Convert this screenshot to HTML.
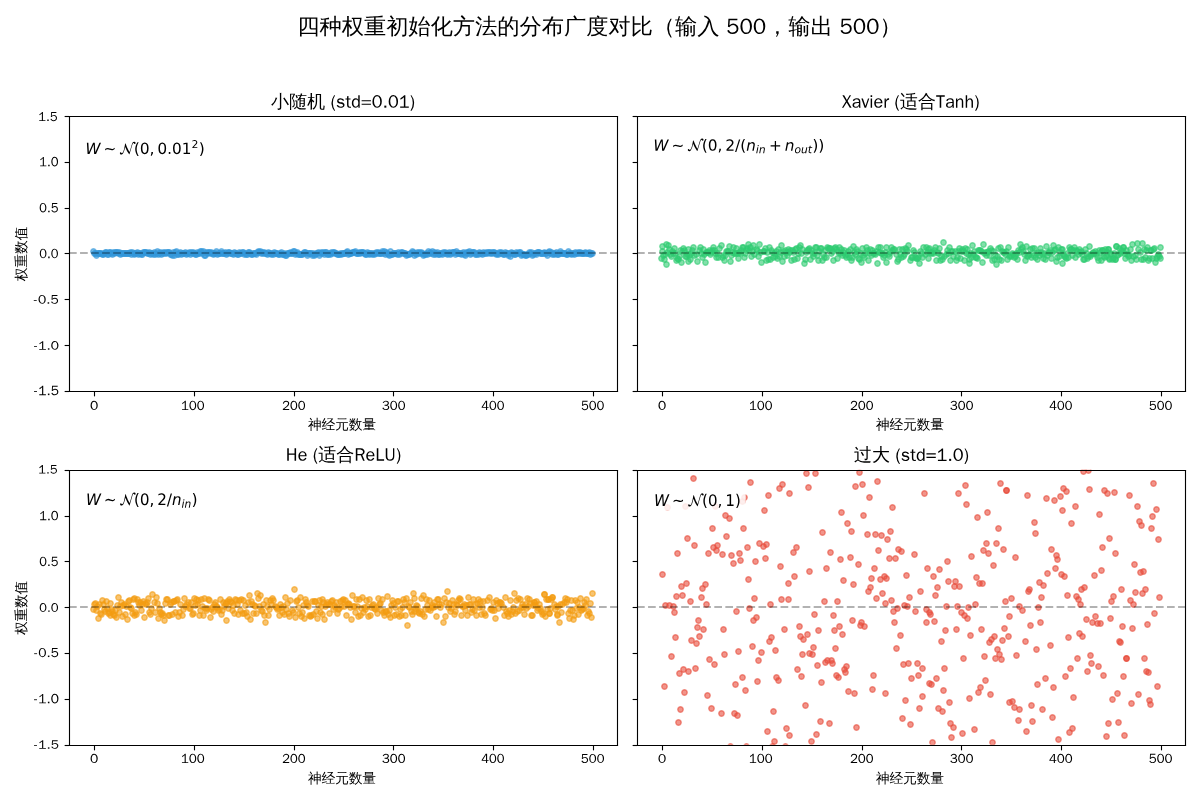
<!DOCTYPE html><html><head><meta charset="utf-8"><style>html,body{margin:0;padding:0;background:#fff;overflow:hidden;font-family:"Liberation Sans",sans-serif}svg{display:block}</style></head><body><svg width="1200" height="800" viewBox="0 0 864 576" version="1.1"><defs><style type="text/css">*{stroke-linejoin: round; stroke-linecap: butt}</style></defs><g id="figure_1"><g id="patch_1"><path d="M 0 576 L 864 576 L 864 0 L 0 0 z" style="fill: #ffffff"/></g><g id="axes_1"><g id="patch_2"><path d="M 49.67 281.45 L 444.28 281.45 L 444.28 83.52 L 49.67 83.52 z" style="fill: #ffffff"/></g><g id="PathCollection_1" style="fill: #3498db; fill-opacity: 0.6; stroke: #3498db; stroke-opacity: 0.6"><defs><path id="m2e148ee00f" d="M 0 1.94 C 0.51 1.94 1.01 1.73 1.37 1.37 C 1.73 1.01 1.94 0.51 1.94 0 C 1.94 -0.51 1.73 -1.01 1.37 -1.37 C 1.01 -1.73 0.51 -1.94 0 -1.94 C -0.51 -1.94 -1.01 -1.73 -1.37 -1.37 C -1.73 -1.01 -1.94 -0.51 -1.94 0 C -1.94 0.51 -1.73 1.01 -1.37 1.37 C -1.01 1.73 -0.51 1.94 0 1.94 z" style="stroke: #3498db; stroke-opacity: 0.6"/></defs><g clip-path="url(#pf800863472)"><use href="#m2e148ee00f" x="67.32" y="181.08"/><use href="#m2e148ee00f" x="68.04" y="182.52"/><use href="#m2e148ee00f" x="68.76" y="182.52"/><use href="#m2e148ee00f" x="69.48" y="183.96"/><use href="#m2e148ee00f" x="70.2" y="182.52"/><use href="#m2e148ee00f" x="70.92" y="182.52"/><use href="#m2e148ee00f" x="71.64" y="182.52"/><use href="#m2e148ee00f" x="72.36" y="182.52"/><use href="#m2e148ee00f" x="73.08" y="182.52"/><use href="#m2e148ee00f" x="73.8" y="183.24"/><use href="#m2e148ee00f" x="74.52" y="183.24"/><use href="#m2e148ee00f" x="75.24" y="182.52"/><use href="#m2e148ee00f" x="75.96" y="181.8"/><use href="#m2e148ee00f" x="76.68" y="181.8"/><use href="#m2e148ee00f" x="77.4" y="183.24"/><use href="#m2e148ee00f" x="78.12" y="183.24"/><use href="#m2e148ee00f" x="78.84" y="181.8"/><use href="#m2e148ee00f" x="79.56" y="181.8"/><use href="#m2e148ee00f" x="80.28" y="182.52"/><use href="#m2e148ee00f" x="81" y="183.24"/><use href="#m2e148ee00f" x="81.72" y="181.8"/><use href="#m2e148ee00f" x="82.44" y="182.52"/><use href="#m2e148ee00f" x="83.16" y="181.8"/><use href="#m2e148ee00f" x="83.88" y="181.8"/><use href="#m2e148ee00f" x="84.6" y="181.8"/><use href="#m2e148ee00f" x="85.32" y="182.52"/><use href="#m2e148ee00f" x="86.04" y="181.8"/><use href="#m2e148ee00f" x="86.76" y="183.24"/><use href="#m2e148ee00f" x="87.48" y="182.52"/><use href="#m2e148ee00f" x="88.2" y="182.52"/><use href="#m2e148ee00f" x="88.92" y="182.52"/><use href="#m2e148ee00f" x="89.64" y="182.52"/><use href="#m2e148ee00f" x="90.36" y="182.52"/><use href="#m2e148ee00f" x="91.08" y="182.52"/><use href="#m2e148ee00f" x="91.8" y="182.52"/><use href="#m2e148ee00f" x="92.52" y="182.52"/><use href="#m2e148ee00f" x="93.24" y="182.52"/><use href="#m2e148ee00f" x="93.96" y="181.8"/><use href="#m2e148ee00f" x="94.68" y="183.24"/><use href="#m2e148ee00f" x="95.4" y="181.8"/><use href="#m2e148ee00f" x="96.12" y="182.52"/><use href="#m2e148ee00f" x="96.84" y="183.24"/><use href="#m2e148ee00f" x="97.56" y="182.52"/><use href="#m2e148ee00f" x="98.28" y="182.52"/><use href="#m2e148ee00f" x="99" y="181.8"/><use href="#m2e148ee00f" x="99.72" y="183.24"/><use href="#m2e148ee00f" x="100.44" y="182.52"/><use href="#m2e148ee00f" x="101.16" y="182.52"/><use href="#m2e148ee00f" x="101.88" y="183.24"/><use href="#m2e148ee00f" x="102.6" y="183.24"/><use href="#m2e148ee00f" x="103.32" y="181.8"/><use href="#m2e148ee00f" x="104.04" y="181.8"/><use href="#m2e148ee00f" x="104.76" y="181.8"/><use href="#m2e148ee00f" x="105.48" y="181.8"/><use href="#m2e148ee00f" x="106.2" y="182.52"/><use href="#m2e148ee00f" x="106.92" y="182.52"/><use href="#m2e148ee00f" x="107.64" y="181.8"/><use href="#m2e148ee00f" x="108.36" y="183.24"/><use href="#m2e148ee00f" x="109.08" y="182.52"/><use href="#m2e148ee00f" x="109.8" y="182.52"/><use href="#m2e148ee00f" x="110.52" y="183.24"/><use href="#m2e148ee00f" x="111.24" y="181.8"/><use href="#m2e148ee00f" x="111.96" y="183.24"/><use href="#m2e148ee00f" x="112.68" y="182.52"/><use href="#m2e148ee00f" x="113.4" y="181.08"/><use href="#m2e148ee00f" x="114.12" y="183.24"/><use href="#m2e148ee00f" x="114.84" y="182.52"/><use href="#m2e148ee00f" x="115.56" y="181.8"/><use href="#m2e148ee00f" x="116.28" y="183.24"/><use href="#m2e148ee00f" x="117" y="182.52"/><use href="#m2e148ee00f" x="117.72" y="181.8"/><use href="#m2e148ee00f" x="118.44" y="182.52"/><use href="#m2e148ee00f" x="119.16" y="181.8"/><use href="#m2e148ee00f" x="119.88" y="182.52"/><use href="#m2e148ee00f" x="120.6" y="181.8"/><use href="#m2e148ee00f" x="121.32" y="181.8"/><use href="#m2e148ee00f" x="122.04" y="181.8"/><use href="#m2e148ee00f" x="122.76" y="183.24"/><use href="#m2e148ee00f" x="123.48" y="183.24"/><use href="#m2e148ee00f" x="124.2" y="183.96"/><use href="#m2e148ee00f" x="124.92" y="181.8"/><use href="#m2e148ee00f" x="125.64" y="183.96"/><use href="#m2e148ee00f" x="126.36" y="181.8"/><use href="#m2e148ee00f" x="127.08" y="181.08"/><use href="#m2e148ee00f" x="127.8" y="183.24"/><use href="#m2e148ee00f" x="128.52" y="183.24"/><use href="#m2e148ee00f" x="129.24" y="182.52"/><use href="#m2e148ee00f" x="129.96" y="181.8"/><use href="#m2e148ee00f" x="130.68" y="183.24"/><use href="#m2e148ee00f" x="131.4" y="182.52"/><use href="#m2e148ee00f" x="132.12" y="182.52"/><use href="#m2e148ee00f" x="132.84" y="182.52"/><use href="#m2e148ee00f" x="133.56" y="181.8"/><use href="#m2e148ee00f" x="134.28" y="183.24"/><use href="#m2e148ee00f" x="135" y="182.52"/><use href="#m2e148ee00f" x="135.72" y="182.52"/><use href="#m2e148ee00f" x="136.44" y="181.8"/><use href="#m2e148ee00f" x="137.16" y="183.24"/><use href="#m2e148ee00f" x="137.88" y="181.8"/><use href="#m2e148ee00f" x="138.6" y="182.52"/><use href="#m2e148ee00f" x="139.32" y="181.8"/><use href="#m2e148ee00f" x="140.04" y="182.52"/><use href="#m2e148ee00f" x="140.76" y="183.24"/><use href="#m2e148ee00f" x="141.48" y="183.24"/><use href="#m2e148ee00f" x="142.2" y="181.8"/><use href="#m2e148ee00f" x="142.92" y="182.52"/><use href="#m2e148ee00f" x="143.64" y="182.52"/><use href="#m2e148ee00f" x="144.36" y="181.08"/><use href="#m2e148ee00f" x="145.08" y="181.08"/><use href="#m2e148ee00f" x="145.8" y="182.52"/><use href="#m2e148ee00f" x="146.52" y="181.08"/><use href="#m2e148ee00f" x="147.24" y="183.96"/><use href="#m2e148ee00f" x="147.96" y="183.96"/><use href="#m2e148ee00f" x="148.68" y="181.8"/><use href="#m2e148ee00f" x="149.4" y="182.52"/><use href="#m2e148ee00f" x="150.12" y="181.8"/><use href="#m2e148ee00f" x="150.84" y="181.8"/><use href="#m2e148ee00f" x="151.56" y="182.52"/><use href="#m2e148ee00f" x="152.28" y="181.8"/><use href="#m2e148ee00f" x="153" y="182.52"/><use href="#m2e148ee00f" x="153.72" y="183.24"/><use href="#m2e148ee00f" x="154.44" y="182.52"/><use href="#m2e148ee00f" x="155.16" y="182.52"/><use href="#m2e148ee00f" x="155.88" y="181.08"/><use href="#m2e148ee00f" x="156.6" y="183.24"/><use href="#m2e148ee00f" x="157.32" y="182.52"/><use href="#m2e148ee00f" x="158.04" y="182.52"/><use href="#m2e148ee00f" x="158.76" y="182.52"/><use href="#m2e148ee00f" x="159.48" y="181.08"/><use href="#m2e148ee00f" x="160.2" y="182.52"/><use href="#m2e148ee00f" x="160.92" y="182.52"/><use href="#m2e148ee00f" x="161.64" y="182.52"/><use href="#m2e148ee00f" x="162.36" y="181.8"/><use href="#m2e148ee00f" x="163.08" y="183.24"/><use href="#m2e148ee00f" x="163.8" y="182.52"/><use href="#m2e148ee00f" x="164.52" y="181.8"/><use href="#m2e148ee00f" x="165.24" y="181.8"/><use href="#m2e148ee00f" x="165.96" y="182.52"/><use href="#m2e148ee00f" x="166.68" y="182.52"/><use href="#m2e148ee00f" x="167.4" y="182.52"/><use href="#m2e148ee00f" x="168.12" y="183.24"/><use href="#m2e148ee00f" x="168.84" y="181.8"/><use href="#m2e148ee00f" x="169.56" y="182.52"/><use href="#m2e148ee00f" x="170.28" y="182.52"/><use href="#m2e148ee00f" x="171" y="183.24"/><use href="#m2e148ee00f" x="171.72" y="183.24"/><use href="#m2e148ee00f" x="172.44" y="181.8"/><use href="#m2e148ee00f" x="173.16" y="182.52"/><use href="#m2e148ee00f" x="173.88" y="182.52"/><use href="#m2e148ee00f" x="174.6" y="181.8"/><use href="#m2e148ee00f" x="175.32" y="181.8"/><use href="#m2e148ee00f" x="176.04" y="183.24"/><use href="#m2e148ee00f" x="176.76" y="182.52"/><use href="#m2e148ee00f" x="177.48" y="183.24"/><use href="#m2e148ee00f" x="178.2" y="183.24"/><use href="#m2e148ee00f" x="178.92" y="181.8"/><use href="#m2e148ee00f" x="179.64" y="181.8"/><use href="#m2e148ee00f" x="180.36" y="182.52"/><use href="#m2e148ee00f" x="181.08" y="183.24"/><use href="#m2e148ee00f" x="181.8" y="183.24"/><use href="#m2e148ee00f" x="182.52" y="182.52"/><use href="#m2e148ee00f" x="183.24" y="182.52"/><use href="#m2e148ee00f" x="183.96" y="182.52"/><use href="#m2e148ee00f" x="184.68" y="183.24"/><use href="#m2e148ee00f" x="185.4" y="181.8"/><use href="#m2e148ee00f" x="186.12" y="181.08"/><use href="#m2e148ee00f" x="186.84" y="181.8"/><use href="#m2e148ee00f" x="187.56" y="181.08"/><use href="#m2e148ee00f" x="188.28" y="182.52"/><use href="#m2e148ee00f" x="189" y="181.8"/><use href="#m2e148ee00f" x="189.72" y="182.52"/><use href="#m2e148ee00f" x="190.44" y="181.8"/><use href="#m2e148ee00f" x="191.16" y="182.52"/><use href="#m2e148ee00f" x="191.88" y="182.52"/><use href="#m2e148ee00f" x="192.6" y="183.24"/><use href="#m2e148ee00f" x="193.32" y="181.8"/><use href="#m2e148ee00f" x="194.04" y="182.52"/><use href="#m2e148ee00f" x="194.76" y="182.52"/><use href="#m2e148ee00f" x="195.48" y="183.24"/><use href="#m2e148ee00f" x="196.2" y="182.52"/><use href="#m2e148ee00f" x="196.92" y="183.24"/><use href="#m2e148ee00f" x="197.64" y="181.8"/><use href="#m2e148ee00f" x="198.36" y="182.52"/><use href="#m2e148ee00f" x="199.08" y="182.52"/><use href="#m2e148ee00f" x="199.8" y="182.52"/><use href="#m2e148ee00f" x="200.52" y="183.24"/><use href="#m2e148ee00f" x="201.24" y="183.24"/><use href="#m2e148ee00f" x="201.96" y="182.52"/><use href="#m2e148ee00f" x="202.68" y="181.8"/><use href="#m2e148ee00f" x="203.4" y="183.24"/><use href="#m2e148ee00f" x="204.12" y="183.24"/><use href="#m2e148ee00f" x="204.84" y="182.52"/><use href="#m2e148ee00f" x="205.56" y="183.96"/><use href="#m2e148ee00f" x="206.28" y="183.96"/><use href="#m2e148ee00f" x="207" y="182.52"/><use href="#m2e148ee00f" x="207.72" y="182.52"/><use href="#m2e148ee00f" x="208.44" y="182.52"/><use href="#m2e148ee00f" x="209.16" y="181.8"/><use href="#m2e148ee00f" x="209.88" y="182.52"/><use href="#m2e148ee00f" x="210.6" y="182.52"/><use href="#m2e148ee00f" x="211.32" y="181.08"/><use href="#m2e148ee00f" x="212.04" y="181.08"/><use href="#m2e148ee00f" x="212.76" y="183.24"/><use href="#m2e148ee00f" x="213.48" y="182.52"/><use href="#m2e148ee00f" x="214.2" y="181.8"/><use href="#m2e148ee00f" x="214.92" y="183.24"/><use href="#m2e148ee00f" x="215.64" y="183.24"/><use href="#m2e148ee00f" x="216.36" y="183.24"/><use href="#m2e148ee00f" x="217.08" y="183.24"/><use href="#m2e148ee00f" x="217.8" y="183.24"/><use href="#m2e148ee00f" x="218.52" y="182.52"/><use href="#m2e148ee00f" x="219.24" y="181.8"/><use href="#m2e148ee00f" x="219.96" y="181.8"/><use href="#m2e148ee00f" x="220.68" y="182.52"/><use href="#m2e148ee00f" x="221.4" y="183.96"/><use href="#m2e148ee00f" x="222.12" y="182.52"/><use href="#m2e148ee00f" x="222.84" y="182.52"/><use href="#m2e148ee00f" x="223.56" y="182.52"/><use href="#m2e148ee00f" x="224.28" y="182.52"/><use href="#m2e148ee00f" x="225" y="183.96"/><use href="#m2e148ee00f" x="225.72" y="182.52"/><use href="#m2e148ee00f" x="226.44" y="183.96"/><use href="#m2e148ee00f" x="227.16" y="183.24"/><use href="#m2e148ee00f" x="227.88" y="182.52"/><use href="#m2e148ee00f" x="228.6" y="182.52"/><use href="#m2e148ee00f" x="229.32" y="181.8"/><use href="#m2e148ee00f" x="230.04" y="183.96"/><use href="#m2e148ee00f" x="230.76" y="182.52"/><use href="#m2e148ee00f" x="231.48" y="181.8"/><use href="#m2e148ee00f" x="232.2" y="182.52"/><use href="#m2e148ee00f" x="232.92" y="181.8"/><use href="#m2e148ee00f" x="233.64" y="183.24"/><use href="#m2e148ee00f" x="234.36" y="181.8"/><use href="#m2e148ee00f" x="235.08" y="181.8"/><use href="#m2e148ee00f" x="235.8" y="183.24"/><use href="#m2e148ee00f" x="236.52" y="183.24"/><use href="#m2e148ee00f" x="237.24" y="182.52"/><use href="#m2e148ee00f" x="237.96" y="183.24"/><use href="#m2e148ee00f" x="238.68" y="181.8"/><use href="#m2e148ee00f" x="239.4" y="182.52"/><use href="#m2e148ee00f" x="240.12" y="181.8"/><use href="#m2e148ee00f" x="240.84" y="181.8"/><use href="#m2e148ee00f" x="241.56" y="182.52"/><use href="#m2e148ee00f" x="242.28" y="182.52"/><use href="#m2e148ee00f" x="243" y="183.24"/><use href="#m2e148ee00f" x="243.72" y="183.24"/><use href="#m2e148ee00f" x="244.44" y="183.24"/><use href="#m2e148ee00f" x="245.16" y="182.52"/><use href="#m2e148ee00f" x="245.88" y="183.24"/><use href="#m2e148ee00f" x="246.6" y="182.52"/><use href="#m2e148ee00f" x="247.32" y="182.52"/><use href="#m2e148ee00f" x="248.04" y="182.52"/><use href="#m2e148ee00f" x="248.76" y="182.52"/><use href="#m2e148ee00f" x="249.48" y="181.8"/><use href="#m2e148ee00f" x="250.2" y="181.08"/><use href="#m2e148ee00f" x="250.92" y="183.24"/><use href="#m2e148ee00f" x="251.64" y="182.52"/><use href="#m2e148ee00f" x="252.36" y="182.52"/><use href="#m2e148ee00f" x="253.08" y="182.52"/><use href="#m2e148ee00f" x="253.8" y="181.8"/><use href="#m2e148ee00f" x="254.52" y="181.8"/><use href="#m2e148ee00f" x="255.24" y="181.8"/><use href="#m2e148ee00f" x="255.96" y="181.08"/><use href="#m2e148ee00f" x="256.68" y="182.52"/><use href="#m2e148ee00f" x="257.4" y="182.52"/><use href="#m2e148ee00f" x="258.12" y="182.52"/><use href="#m2e148ee00f" x="258.84" y="181.8"/><use href="#m2e148ee00f" x="259.56" y="182.52"/><use href="#m2e148ee00f" x="260.28" y="181.8"/><use href="#m2e148ee00f" x="261" y="181.8"/><use href="#m2e148ee00f" x="261.72" y="181.8"/><use href="#m2e148ee00f" x="262.44" y="182.52"/><use href="#m2e148ee00f" x="263.16" y="183.24"/><use href="#m2e148ee00f" x="263.88" y="183.24"/><use href="#m2e148ee00f" x="264.6" y="181.8"/><use href="#m2e148ee00f" x="265.32" y="182.52"/><use href="#m2e148ee00f" x="266.04" y="183.24"/><use href="#m2e148ee00f" x="266.76" y="182.52"/><use href="#m2e148ee00f" x="267.48" y="182.52"/><use href="#m2e148ee00f" x="268.2" y="183.24"/><use href="#m2e148ee00f" x="268.92" y="182.52"/><use href="#m2e148ee00f" x="269.64" y="183.24"/><use href="#m2e148ee00f" x="270.36" y="182.52"/><use href="#m2e148ee00f" x="271.08" y="181.8"/><use href="#m2e148ee00f" x="271.8" y="182.52"/><use href="#m2e148ee00f" x="272.52" y="181.8"/><use href="#m2e148ee00f" x="273.24" y="182.52"/><use href="#m2e148ee00f" x="273.96" y="182.52"/><use href="#m2e148ee00f" x="274.68" y="182.52"/><use href="#m2e148ee00f" x="275.4" y="181.08"/><use href="#m2e148ee00f" x="276.12" y="182.52"/><use href="#m2e148ee00f" x="276.84" y="181.08"/><use href="#m2e148ee00f" x="277.56" y="183.24"/><use href="#m2e148ee00f" x="278.28" y="181.8"/><use href="#m2e148ee00f" x="279" y="182.52"/><use href="#m2e148ee00f" x="279.72" y="183.24"/><use href="#m2e148ee00f" x="280.44" y="183.96"/><use href="#m2e148ee00f" x="281.16" y="181.08"/><use href="#m2e148ee00f" x="281.88" y="183.24"/><use href="#m2e148ee00f" x="282.6" y="183.24"/><use href="#m2e148ee00f" x="283.32" y="182.52"/><use href="#m2e148ee00f" x="284.04" y="182.52"/><use href="#m2e148ee00f" x="284.76" y="182.52"/><use href="#m2e148ee00f" x="285.48" y="182.52"/><use href="#m2e148ee00f" x="286.2" y="183.24"/><use href="#m2e148ee00f" x="286.92" y="181.8"/><use href="#m2e148ee00f" x="287.64" y="183.24"/><use href="#m2e148ee00f" x="288.36" y="182.52"/><use href="#m2e148ee00f" x="289.08" y="181.8"/><use href="#m2e148ee00f" x="289.8" y="181.8"/><use href="#m2e148ee00f" x="290.52" y="182.52"/><use href="#m2e148ee00f" x="291.24" y="182.52"/><use href="#m2e148ee00f" x="291.96" y="182.52"/><use href="#m2e148ee00f" x="292.68" y="183.96"/><use href="#m2e148ee00f" x="293.4" y="183.24"/><use href="#m2e148ee00f" x="294.12" y="183.24"/><use href="#m2e148ee00f" x="294.84" y="183.24"/><use href="#m2e148ee00f" x="295.56" y="182.52"/><use href="#m2e148ee00f" x="296.28" y="182.52"/><use href="#m2e148ee00f" x="297" y="181.08"/><use href="#m2e148ee00f" x="297.72" y="181.8"/><use href="#m2e148ee00f" x="298.44" y="183.96"/><use href="#m2e148ee00f" x="299.16" y="182.52"/><use href="#m2e148ee00f" x="299.88" y="183.24"/><use href="#m2e148ee00f" x="300.6" y="181.8"/><use href="#m2e148ee00f" x="301.32" y="182.52"/><use href="#m2e148ee00f" x="302.04" y="181.8"/><use href="#m2e148ee00f" x="302.76" y="182.52"/><use href="#m2e148ee00f" x="303.48" y="181.8"/><use href="#m2e148ee00f" x="304.2" y="182.52"/><use href="#m2e148ee00f" x="304.92" y="183.96"/><use href="#m2e148ee00f" x="305.64" y="183.24"/><use href="#m2e148ee00f" x="306.36" y="183.24"/><use href="#m2e148ee00f" x="307.08" y="182.52"/><use href="#m2e148ee00f" x="307.8" y="183.24"/><use href="#m2e148ee00f" x="308.52" y="181.08"/><use href="#m2e148ee00f" x="309.24" y="182.52"/><use href="#m2e148ee00f" x="309.96" y="181.8"/><use href="#m2e148ee00f" x="310.68" y="182.52"/><use href="#m2e148ee00f" x="311.4" y="181.08"/><use href="#m2e148ee00f" x="312.12" y="183.24"/><use href="#m2e148ee00f" x="312.84" y="181.8"/><use href="#m2e148ee00f" x="313.56" y="183.24"/><use href="#m2e148ee00f" x="314.28" y="182.52"/><use href="#m2e148ee00f" x="315" y="181.8"/><use href="#m2e148ee00f" x="315.72" y="183.24"/><use href="#m2e148ee00f" x="316.44" y="183.24"/><use href="#m2e148ee00f" x="317.16" y="182.52"/><use href="#m2e148ee00f" x="317.88" y="182.52"/><use href="#m2e148ee00f" x="318.6" y="183.24"/><use href="#m2e148ee00f" x="319.32" y="181.8"/><use href="#m2e148ee00f" x="320.04" y="182.52"/><use href="#m2e148ee00f" x="320.76" y="181.8"/><use href="#m2e148ee00f" x="321.48" y="182.52"/><use href="#m2e148ee00f" x="322.2" y="183.24"/><use href="#m2e148ee00f" x="322.92" y="182.52"/><use href="#m2e148ee00f" x="323.64" y="181.8"/><use href="#m2e148ee00f" x="324.36" y="183.24"/><use href="#m2e148ee00f" x="325.08" y="182.52"/><use href="#m2e148ee00f" x="325.8" y="181.8"/><use href="#m2e148ee00f" x="326.52" y="181.8"/><use href="#m2e148ee00f" x="327.24" y="181.8"/><use href="#m2e148ee00f" x="327.96" y="183.24"/><use href="#m2e148ee00f" x="328.68" y="181.08"/><use href="#m2e148ee00f" x="329.4" y="182.52"/><use href="#m2e148ee00f" x="330.12" y="182.52"/><use href="#m2e148ee00f" x="330.84" y="182.52"/><use href="#m2e148ee00f" x="331.56" y="182.52"/><use href="#m2e148ee00f" x="332.28" y="183.24"/><use href="#m2e148ee00f" x="333" y="182.52"/><use href="#m2e148ee00f" x="333.72" y="181.8"/><use href="#m2e148ee00f" x="334.44" y="183.24"/><use href="#m2e148ee00f" x="335.16" y="183.96"/><use href="#m2e148ee00f" x="335.88" y="181.8"/><use href="#m2e148ee00f" x="336.6" y="182.52"/><use href="#m2e148ee00f" x="337.32" y="181.8"/><use href="#m2e148ee00f" x="338.04" y="181.08"/><use href="#m2e148ee00f" x="338.76" y="183.24"/><use href="#m2e148ee00f" x="339.48" y="182.52"/><use href="#m2e148ee00f" x="340.2" y="181.8"/><use href="#m2e148ee00f" x="340.92" y="181.8"/><use href="#m2e148ee00f" x="341.64" y="181.8"/><use href="#m2e148ee00f" x="342.36" y="183.24"/><use href="#m2e148ee00f" x="343.08" y="183.24"/><use href="#m2e148ee00f" x="343.8" y="182.52"/><use href="#m2e148ee00f" x="344.52" y="183.24"/><use href="#m2e148ee00f" x="345.24" y="181.8"/><use href="#m2e148ee00f" x="345.96" y="182.52"/><use href="#m2e148ee00f" x="346.68" y="182.52"/><use href="#m2e148ee00f" x="347.4" y="183.24"/><use href="#m2e148ee00f" x="348.12" y="181.8"/><use href="#m2e148ee00f" x="348.84" y="182.52"/><use href="#m2e148ee00f" x="349.56" y="182.52"/><use href="#m2e148ee00f" x="350.28" y="181.8"/><use href="#m2e148ee00f" x="351" y="182.52"/><use href="#m2e148ee00f" x="351.72" y="181.8"/><use href="#m2e148ee00f" x="352.44" y="181.8"/><use href="#m2e148ee00f" x="353.16" y="182.52"/><use href="#m2e148ee00f" x="353.88" y="181.8"/><use href="#m2e148ee00f" x="354.6" y="182.52"/><use href="#m2e148ee00f" x="355.32" y="181.8"/><use href="#m2e148ee00f" x="356.04" y="181.8"/><use href="#m2e148ee00f" x="356.76" y="182.52"/><use href="#m2e148ee00f" x="357.48" y="183.24"/><use href="#m2e148ee00f" x="358.2" y="182.52"/><use href="#m2e148ee00f" x="358.92" y="183.24"/><use href="#m2e148ee00f" x="359.64" y="181.8"/><use href="#m2e148ee00f" x="360.36" y="182.52"/><use href="#m2e148ee00f" x="361.08" y="181.8"/><use href="#m2e148ee00f" x="361.8" y="182.52"/><use href="#m2e148ee00f" x="362.52" y="183.24"/><use href="#m2e148ee00f" x="363.24" y="183.24"/><use href="#m2e148ee00f" x="363.96" y="181.8"/><use href="#m2e148ee00f" x="364.68" y="182.52"/><use href="#m2e148ee00f" x="365.4" y="182.52"/><use href="#m2e148ee00f" x="366.12" y="183.96"/><use href="#m2e148ee00f" x="366.84" y="182.52"/><use href="#m2e148ee00f" x="367.56" y="184.68"/><use href="#m2e148ee00f" x="368.28" y="181.8"/><use href="#m2e148ee00f" x="369" y="182.52"/><use href="#m2e148ee00f" x="369.72" y="182.52"/><use href="#m2e148ee00f" x="370.44" y="183.24"/><use href="#m2e148ee00f" x="371.16" y="183.24"/><use href="#m2e148ee00f" x="371.88" y="181.8"/><use href="#m2e148ee00f" x="372.6" y="182.52"/><use href="#m2e148ee00f" x="373.32" y="182.52"/><use href="#m2e148ee00f" x="374.04" y="181.8"/><use href="#m2e148ee00f" x="374.76" y="181.8"/><use href="#m2e148ee00f" x="375.48" y="183.96"/><use href="#m2e148ee00f" x="376.2" y="183.24"/><use href="#m2e148ee00f" x="376.92" y="183.24"/><use href="#m2e148ee00f" x="377.64" y="183.24"/><use href="#m2e148ee00f" x="378.36" y="183.96"/><use href="#m2e148ee00f" x="379.08" y="183.96"/><use href="#m2e148ee00f" x="379.8" y="183.24"/><use href="#m2e148ee00f" x="380.52" y="183.24"/><use href="#m2e148ee00f" x="381.24" y="181.8"/><use href="#m2e148ee00f" x="381.96" y="182.52"/><use href="#m2e148ee00f" x="382.68" y="181.8"/><use href="#m2e148ee00f" x="383.4" y="183.96"/><use href="#m2e148ee00f" x="384.12" y="183.24"/><use href="#m2e148ee00f" x="384.84" y="182.52"/><use href="#m2e148ee00f" x="385.56" y="182.52"/><use href="#m2e148ee00f" x="386.28" y="183.24"/><use href="#m2e148ee00f" x="387" y="181.8"/><use href="#m2e148ee00f" x="387.72" y="181.8"/><use href="#m2e148ee00f" x="388.44" y="181.8"/><use href="#m2e148ee00f" x="389.16" y="182.52"/><use href="#m2e148ee00f" x="389.88" y="182.52"/><use href="#m2e148ee00f" x="390.6" y="182.52"/><use href="#m2e148ee00f" x="391.32" y="182.52"/><use href="#m2e148ee00f" x="392.04" y="181.8"/><use href="#m2e148ee00f" x="392.76" y="182.52"/><use href="#m2e148ee00f" x="393.48" y="182.52"/><use href="#m2e148ee00f" x="394.2" y="183.96"/><use href="#m2e148ee00f" x="394.92" y="181.8"/><use href="#m2e148ee00f" x="395.64" y="181.08"/><use href="#m2e148ee00f" x="396.36" y="182.52"/><use href="#m2e148ee00f" x="397.08" y="181.8"/><use href="#m2e148ee00f" x="397.8" y="183.24"/><use href="#m2e148ee00f" x="398.52" y="182.52"/><use href="#m2e148ee00f" x="399.24" y="183.24"/><use href="#m2e148ee00f" x="399.96" y="182.52"/><use href="#m2e148ee00f" x="400.68" y="181.8"/><use href="#m2e148ee00f" x="401.4" y="183.24"/><use href="#m2e148ee00f" x="402.12" y="183.24"/><use href="#m2e148ee00f" x="402.84" y="182.52"/><use href="#m2e148ee00f" x="403.56" y="181.08"/><use href="#m2e148ee00f" x="404.28" y="182.52"/><use href="#m2e148ee00f" x="405" y="182.52"/><use href="#m2e148ee00f" x="405.72" y="182.52"/><use href="#m2e148ee00f" x="406.44" y="182.52"/><use href="#m2e148ee00f" x="407.16" y="182.52"/><use href="#m2e148ee00f" x="407.88" y="183.24"/><use href="#m2e148ee00f" x="408.6" y="183.24"/><use href="#m2e148ee00f" x="409.32" y="181.08"/><use href="#m2e148ee00f" x="410.04" y="182.52"/><use href="#m2e148ee00f" x="410.76" y="182.52"/><use href="#m2e148ee00f" x="411.48" y="183.24"/><use href="#m2e148ee00f" x="412.2" y="182.52"/><use href="#m2e148ee00f" x="412.92" y="182.52"/><use href="#m2e148ee00f" x="413.64" y="183.24"/><use href="#m2e148ee00f" x="414.36" y="181.8"/><use href="#m2e148ee00f" x="415.08" y="182.52"/><use href="#m2e148ee00f" x="415.8" y="182.52"/><use href="#m2e148ee00f" x="416.52" y="181.8"/><use href="#m2e148ee00f" x="417.24" y="182.52"/><use href="#m2e148ee00f" x="417.96" y="181.8"/><use href="#m2e148ee00f" x="418.68" y="182.52"/><use href="#m2e148ee00f" x="419.4" y="182.52"/><use href="#m2e148ee00f" x="420.12" y="182.52"/><use href="#m2e148ee00f" x="420.84" y="182.52"/><use href="#m2e148ee00f" x="421.56" y="181.8"/><use href="#m2e148ee00f" x="422.28" y="182.52"/><use href="#m2e148ee00f" x="423" y="182.52"/><use href="#m2e148ee00f" x="423.72" y="182.52"/><use href="#m2e148ee00f" x="424.44" y="181.8"/><use href="#m2e148ee00f" x="425.16" y="183.24"/><use href="#m2e148ee00f" x="425.88" y="182.52"/><use href="#m2e148ee00f" x="426.6" y="182.52"/></g></g><g id="matplotlib.axis_1"><g id="xtick_1"><g id="line2d_1"><defs><path id="m2cdf71e66a" d="M 0 0 L 0 3.5" style="stroke: #000000; stroke-width: 0.8"/></defs><g><use href="#m2cdf71e66a" x="68.04" y="281.88" style="stroke: #000000; stroke-width: 0.8"/></g></g><g id="T_xt0_1" transform="matrix(0.99 0 0 0.94 0.854 17.545)"><!-- 0 --><g transform="translate(64.604943 295.305625) scale(0.1 -0.1)"><defs><path id="WenQuanYiZenHei-30" d="M 3581 2175 Q 3581 1288 3169 638 Q 2713 -63 1938 -63 Q 1025 -63 563 831 Q 256 1425 256 2188 Q 256 3188 700 3819 Q 1138 4456 1888 4456 Q 2863 4456 3306 3500 Q 3581 2925 3581 2175 z M 3019 2100 Q 3019 3356 2500 3806 L 2350 3919 Q 2144 4031 1888 4031 Q 1100 4031 888 2956 Q 819 2625 819 2225 Q 819 1013 1338 569 Q 1588 356 1938 356 Q 2675 356 2925 1294 Q 3019 1663 3019 2100 z" transform="scale(0.015625)"/></defs><use href="#WenQuanYiZenHei-30"/></g></g></g><g id="xtick_2"><g id="line2d_2"><g><use href="#m2cdf71e66a" x="140.04" y="281.88" style="stroke: #000000; stroke-width: 0.8"/></g></g><g id="T_xt0_2" transform="matrix(0.9405 0 0 0.97 7.632 8.772)"><!-- 100 --><g transform="translate(130.500376 295.305625) scale(0.1 -0.1)"><defs><path id="WenQuanYiZenHei-31" d="M 3556 0 L 488 0 L 488 406 L 1800 406 L 1800 3725 Q 1231 3125 588 2788 L 588 3338 Q 1456 3781 1931 4388 L 2331 4388 L 2331 406 L 3556 406 L 3556 0 z" transform="scale(0.015625)"/></defs><use href="#WenQuanYiZenHei-31"/><use href="#WenQuanYiZenHei-30" transform="translate(59.960938 0)"/><use href="#WenQuanYiZenHei-30" transform="translate(119.921875 0)"/></g></g></g><g id="xtick_3"><g id="line2d_3"><g><use href="#m2cdf71e66a" x="212.04" y="281.88" style="stroke: #000000; stroke-width: 0.8"/></g></g><g id="T_xt0_3" transform="matrix(0.9405 0 0 0.9506 12.756 14.445)"><!-- 200 --><g transform="translate(202.392683 295.305625) scale(0.1 -0.1)"><defs><path id="WenQuanYiZenHei-32" d="M 3488 0 L 369 0 L 369 456 L 2150 1850 Q 2931 2463 2931 3144 Q 2931 3619 2488 3863 Q 2231 4013 1931 4013 Q 1425 4013 1113 3619 Q 894 3356 881 3013 L 369 3169 Q 531 3981 1213 4300 Q 1544 4456 1950 4456 Q 2631 4456 3088 4044 L 3225 3888 L 3350 3706 Q 3481 3444 3481 3144 Q 3481 2313 2519 1569 L 1069 456 L 3488 456 L 3488 0 z" transform="scale(0.015625)"/></defs><use href="#WenQuanYiZenHei-32"/><use href="#WenQuanYiZenHei-30" transform="translate(59.960938 0)"/><use href="#WenQuanYiZenHei-30" transform="translate(119.921875 0)"/></g></g></g><g id="xtick_4"><g id="line2d_4"><g><use href="#m2cdf71e66a" x="283.32" y="281.88" style="stroke: #000000; stroke-width: 0.8"/></g></g><g id="T_xt0_4" transform="matrix(0.9507 0 0 0.9603 14.143 11.609)"><!-- 300 --><g transform="translate(274.28499 295.305625) scale(0.1 -0.1)"><defs><path id="WenQuanYiZenHei-33" d="M 3588 1231 Q 3588 494 2875 144 Q 2450 -63 1925 -63 Q 1044 -63 556 488 Q 356 706 256 1000 L 769 1169 Q 994 375 1913 375 Q 2631 375 2900 788 Q 3019 975 3019 1231 Q 3019 1638 2638 1881 Q 2325 2081 1613 2069 L 1338 2069 L 1338 2494 Q 1969 2494 2094 2506 Q 2325 2544 2463 2613 Q 2763 2756 2844 3100 Q 2863 3169 2863 3244 Q 2863 3744 2381 3944 L 2163 4006 Q 2056 4025 1931 4025 Q 1388 4025 1075 3631 Q 969 3488 906 3313 L 419 3456 Q 675 4150 1400 4369 Q 1669 4456 1975 4456 Q 2694 4456 3106 4050 Q 3419 3744 3419 3275 Q 3419 2813 3025 2513 Q 2825 2356 2575 2319 L 2575 2306 Q 3181 2213 3450 1769 Q 3588 1525 3588 1231 z" transform="scale(0.015625)"/></defs><use href="#WenQuanYiZenHei-33"/><use href="#WenQuanYiZenHei-30" transform="translate(59.960938 0)"/><use href="#WenQuanYiZenHei-30" transform="translate(119.921875 0)"/></g></g></g><g id="xtick_5"><g id="line2d_5"><g><use href="#m2cdf71e66a" x="355.32" y="281.88" style="stroke: #000000; stroke-width: 0.8"/></g></g><g id="T_xt0_5" transform="matrix(0.9311 0 0 0.96 24.147 11.696)"><!-- 400 --><g transform="translate(346.177298 295.305625) scale(0.1 -0.1)"><defs><path id="WenQuanYiZenHei-34" d="M 3631 1025 L 2913 1025 L 2913 0 L 2381 0 L 2381 1025 L 219 1025 L 219 1388 L 2225 4388 L 2913 4388 L 2913 1444 L 3631 1444 L 3631 1025 z M 2381 1444 L 2381 3963 L 788 1444 L 2381 1444 z" transform="scale(0.015625)"/></defs><use href="#WenQuanYiZenHei-34"/><use href="#WenQuanYiZenHei-30" transform="translate(59.960938 0)"/><use href="#WenQuanYiZenHei-30" transform="translate(119.921875 0)"/></g></g></g><g id="xtick_6"><g id="line2d_6"><g><use href="#m2cdf71e66a" x="427.32" y="281.88" style="stroke: #000000; stroke-width: 0.8"/></g></g><g id="T_xt0_6" transform="matrix(0.9311 0 0 0.9702 29.101 8.714)"><!-- 500 --><g transform="translate(418.069605 295.305625) scale(0.1 -0.1)"><defs><path id="WenQuanYiZenHei-35" d="M 3531 1488 Q 3531 688 2913 250 Q 2456 -63 1844 -63 Q 1175 -63 706 350 Q 413 613 306 975 L 781 1131 Q 1000 538 1569 406 Q 1706 369 1856 369 Q 2550 369 2850 869 Q 3000 1131 3000 1494 Q 3000 2056 2581 2356 Q 2319 2538 1969 2538 Q 1400 2538 1031 2075 Q 981 2013 938 1938 L 500 2031 L 644 4388 L 3244 4388 L 3200 3919 L 1044 3919 L 950 2500 Q 1431 2975 2006 2975 Q 2713 2975 3163 2475 Q 3531 2063 3531 1488 z" transform="scale(0.015625)"/></defs><use href="#WenQuanYiZenHei-35"/><use href="#WenQuanYiZenHei-30" transform="translate(59.960938 0)"/><use href="#WenQuanYiZenHei-30" transform="translate(119.921875 0)"/></g></g></g><g id="T_xl0" transform="matrix(0.98 0 0 1 4.237 0)"><!-- 神经元数量 --><g transform="translate(221.974688 309.032187) scale(0.1 -0.1)"><defs><path id="WenQuanYiZenHei-795e" d="M 4531 -769 Q 4294 -744 4056 -769 Q 4075 -325 4075 113 L 4075 1238 L 3131 1238 L 3131 825 L 2700 825 L 2700 3944 L 4075 3944 L 4075 4375 Q 4075 4819 4056 5256 Q 4294 5231 4531 5256 Q 4513 4819 4513 4375 L 4513 3944 L 5956 3944 L 5956 825 L 5519 825 L 5519 1238 L 4513 1238 L 4513 113 Q 4513 -325 4531 -769 z M 4513 1556 L 5519 1556 L 5519 2431 L 4513 2431 L 4513 1556 z M 4075 1556 L 4075 2431 L 3131 2431 L 3131 1556 L 4075 1556 z M 4513 2750 L 5519 2750 L 5519 3625 L 4513 3625 L 4513 2750 z M 4075 2750 L 4075 3625 L 3131 3625 L 3131 2750 L 4075 2750 z M 1644 2069 L 1644 38 Q 1644 -406 1669 -844 Q 1431 -819 1200 -844 Q 1219 -406 1219 38 L 1219 1763 Q 869 1369 456 1044 Q 256 1200 0 1288 Q 1206 2100 1831 3500 L 925 3500 Q 606 3500 288 3481 Q 306 3656 288 3831 Q 606 3819 925 3819 L 2394 3819 Q 2169 3125 1788 2513 L 1856 2569 L 2544 1700 L 2175 1400 L 1644 2069 z M 1481 4025 Q 1175 4550 800 5019 L 1169 5319 Q 1563 4825 1888 4269 L 1481 4025 z" transform="scale(0.015625)"/><path id="WenQuanYiZenHei-7ecf" d="M 6050 44 Q 6031 -138 6050 -319 Q 5713 -306 5375 -306 L 2869 -306 Q 2531 -306 2200 -319 Q 2219 -138 2200 44 Q 2531 25 2869 25 L 3875 25 L 3875 1613 L 3356 1613 Q 3019 1613 2688 1594 Q 2706 1775 2688 1956 Q 3019 1944 3356 1944 L 4856 1944 Q 5194 1944 5531 1956 Q 5513 1775 5531 1594 Q 5194 1613 4856 1613 L 4319 1613 L 4319 25 L 5375 25 Q 5713 25 6050 44 z M 3400 4656 Q 3069 4656 2731 4638 Q 2750 4819 2731 5000 Q 3069 4988 3400 4988 L 5444 4988 Q 5025 4281 4469 3688 L 5306 3181 L 6300 2525 L 6025 2125 L 5050 2775 L 4119 3338 Q 3288 2569 2269 2075 Q 2100 2281 1869 2419 Q 2775 2775 3478 3359 Q 4181 3944 4663 4656 L 3400 4656 z M 250 -256 Q 238 69 94 281 Q 463 300 906 378 Q 1350 456 2375 788 L 2381 475 Q 1400 181 990 31 Q 581 -119 250 -256 z M 1275 5131 Q 1494 4994 1750 4900 Q 1569 4544 1194 3944 L 694 3169 L 1313 3231 L 1500 3281 Q 1681 3588 1813 3919 Q 2025 3775 2281 3675 Q 2200 3506 2075 3312 Q 1950 3119 1484 2456 Q 1019 1794 850 1581 L 1900 1713 L 2275 1800 L 2263 1425 L 1944 1406 L 206 1144 L 163 1488 Q 288 1494 369 1594 Q 775 2094 1281 2913 L 100 2738 L 56 3081 Q 175 3088 244 3181 Q 763 3975 1181 4881 Q 1231 5006 1275 5131 z" transform="scale(0.015625)"/><path id="WenQuanYiZenHei-5143" d="M 3575 2825 L 2500 2825 L 2500 1431 Q 2500 1013 2303 628 Q 2106 244 1769 -63 Q 1256 -531 581 -700 Q 519 -406 263 -256 Q 950 -169 1490 315 Q 2031 800 2031 1431 L 2031 2825 L 1238 2825 Q 838 2825 438 2806 Q 463 3019 438 3238 Q 838 3219 1238 3219 L 5156 3219 Q 5556 3219 5956 3238 Q 5931 3019 5956 2806 Q 5556 2825 5156 2825 L 4044 2825 L 4044 150 Q 4044 -275 4269 -275 L 5306 -269 Q 5394 -269 5419 -203 Q 5444 -138 5450 -106 L 5625 956 Q 5831 813 6075 806 L 5831 -519 Q 5813 -600 5772 -650 Q 5731 -700 5650 -700 L 4263 -700 Q 3944 -700 3759 -456 Q 3575 -213 3575 150 L 3575 2825 z M 5250 5000 Q 5225 4781 5250 4569 Q 4850 4588 4450 4588 L 1944 4588 Q 1544 4588 1144 4569 Q 1169 4781 1144 5000 Q 1544 4981 1944 4981 L 4450 4981 Q 4850 4981 5250 5000 z" transform="scale(0.015625)"/><path id="WenQuanYiZenHei-6570" d="M 263 1500 Q 275 1663 263 1819 Q 550 1806 844 1806 L 1169 1806 Q 1269 2100 1356 2400 Q 1594 2313 1844 2275 L 1638 1806 L 2763 1806 Q 2731 925 2175 244 Q 2500 -38 2806 -350 Q 2588 -481 2400 -656 Q 2163 -344 1875 -69 Q 1275 -600 488 -719 Q 394 -481 225 -288 Q 969 -269 1550 206 Q 1169 506 744 725 Q 919 1113 1069 1519 L 263 1500 z M 2063 2375 Q 1838 2394 1606 2375 Q 1625 2800 1625 3225 L 1625 3538 Q 1475 3213 1206 2866 Q 938 2519 388 2038 Q 275 2225 69 2313 Q 644 2788 1113 3538 L 756 3538 Q 463 3538 169 3525 Q 188 3681 169 3844 L 1031 3825 L 331 4675 L 688 4969 L 1431 4063 L 1144 3825 L 1625 3825 L 1625 4244 Q 1625 4669 1606 5094 Q 1838 5075 2063 5094 Q 2044 4669 2044 4244 L 2044 4044 Q 2369 4463 2681 5056 Q 2875 4925 3088 4844 Q 2844 4363 2400 3825 L 3156 3844 Q 3138 3681 3156 3525 L 2325 3538 L 2981 2738 L 2625 2444 L 2044 3156 Q 2044 2763 2063 2375 z M 1844 506 Q 2213 950 2306 1519 L 1519 1519 L 1275 906 Q 1569 719 1844 506 z M 2044 3538 L 2044 3400 L 2213 3538 L 2044 3538 z M 2044 3825 L 2213 3825 Q 2138 3888 2044 3919 L 2044 3825 z M 3825 5031 Q 4038 4963 4288 4944 Q 4175 4400 4031 3869 L 4006 3781 L 5381 3781 Q 5688 3781 5994 3800 Q 5981 3600 5994 3406 L 5363 3419 Q 5300 1925 4775 888 Q 5319 106 6213 -306 Q 6013 -438 5931 -694 Q 5100 -288 4575 519 Q 4000 -469 3006 -906 Q 2950 -613 2781 -438 Q 3794 -44 4344 913 Q 3863 1806 3750 2963 Q 3550 2381 3200 1806 Q 3044 1981 2788 2025 Q 3025 2406 3287 2937 Q 3550 3469 3662 3991 Q 3775 4513 3825 5031 z M 4069 3419 Q 4081 2794 4215 2244 Q 4350 1694 4538 1300 Q 4913 2181 4938 3419 L 4069 3419 z" transform="scale(0.015625)"/><path id="WenQuanYiZenHei-91cf" d="M 5963 -138 Q 5944 -281 5963 -431 Q 5694 -419 5425 -419 L 838 -419 Q 569 -419 306 -431 Q 319 -281 306 -138 Q 569 -150 838 -150 L 2831 -150 L 2831 269 L 1481 269 Q 1188 269 894 250 Q 913 413 894 569 Q 1188 556 1481 556 L 2831 556 L 2831 969 L 1125 969 Q 1200 1775 1125 2581 L 5094 2581 Q 5013 1775 5088 969 L 3250 969 L 3250 556 L 4819 556 Q 5113 556 5400 569 Q 5388 413 5400 250 Q 5113 269 4819 269 L 3250 269 L 3250 -150 L 5425 -150 Q 5694 -150 5963 -138 z M 6131 3194 Q 6119 3038 6131 2875 Q 5844 2894 5550 2894 L 700 2894 Q 406 2894 119 2875 Q 131 3038 119 3194 Q 413 3181 700 3181 L 5550 3181 Q 5838 3181 6131 3194 z M 1125 3469 Q 1200 4250 1125 5025 L 5013 5025 Q 4931 4250 5000 3469 L 1125 3469 z M 3250 1900 L 4669 1900 L 4669 2294 L 3250 2294 L 3250 1900 z M 2831 1900 L 2831 2294 L 1544 2294 L 1544 1900 L 2831 1900 z M 3250 1638 L 3250 1256 L 4669 1256 L 4669 1638 L 3250 1638 z M 2831 1638 L 1544 1638 L 1544 1256 L 2831 1256 L 2831 1638 z M 1544 4738 L 1544 4381 L 4588 4381 L 4594 4738 L 1544 4738 z M 1544 4119 L 1544 3756 L 4588 3756 L 4588 4119 L 1544 4119 z" transform="scale(0.015625)"/></defs><use href="#WenQuanYiZenHei-795e"/><use href="#WenQuanYiZenHei-7ecf" transform="translate(100 0)"/><use href="#WenQuanYiZenHei-5143" transform="translate(200 0)"/><use href="#WenQuanYiZenHei-6570" transform="translate(300 0)"/><use href="#WenQuanYiZenHei-91cf" transform="translate(400 0)"/></g></g></g><g id="matplotlib.axis_2"><g id="ytick_1"><g id="line2d_7"><defs><path id="m33b7f4ba77" d="M 0 0 L -3.5 0" style="stroke: #000000; stroke-width: 0.8"/></defs><g><use href="#m33b7f4ba77" x="50.04" y="281.88" style="stroke: #000000; stroke-width: 0.8"/></g></g><g id="T_yt0_0" transform="matrix(1 0 0 0.99 -0.18 2.465)"><!-- -1.5 --><g transform="translate(24.675625 284.8775) scale(0.1 -0.1)"><defs><path id="WenQuanYiZenHei-2d" d="M 1363 1444 L 0 1444 L 0 1844 L 1363 1844 L 1363 1444 z" transform="scale(0.015625)"/><path id="WenQuanYiZenHei-2e" d="M 1344 0 L 631 0 L 631 725 L 1344 725 L 1344 0 z" transform="scale(0.015625)"/></defs><use href="#WenQuanYiZenHei-2d"/><use href="#WenQuanYiZenHei-31" transform="translate(29.980469 0)"/><use href="#WenQuanYiZenHei-2e" transform="translate(89.941406 0)"/><use href="#WenQuanYiZenHei-35" transform="translate(119.921875 0)"/></g></g></g><g id="ytick_2"><g id="line2d_8"><g><use href="#m33b7f4ba77" x="50.04" y="248.76" style="stroke: #000000; stroke-width: 0.8"/></g></g><g id="T_yt0_1" transform="matrix(1 0 0 0.89 -0.18 27.59)"><!-- -1.0 --><g transform="translate(24.675625 251.889896) scale(0.1 -0.1)"><use href="#WenQuanYiZenHei-2d"/><use href="#WenQuanYiZenHei-31" transform="translate(29.980469 0)"/><use href="#WenQuanYiZenHei-2e" transform="translate(89.941406 0)"/><use href="#WenQuanYiZenHei-30" transform="translate(119.921875 0)"/></g></g></g><g id="ytick_3"><g id="line2d_9"><g><use href="#m33b7f4ba77" x="50.04" y="215.64" style="stroke: #000000; stroke-width: 0.8"/></g></g><g id="T_yt0_2" transform="matrix(1 0 0 0.91 -0.36 19.457)"><!-- -0.5 --><g transform="translate(24.675625 218.902292) scale(0.1 -0.1)"><use href="#WenQuanYiZenHei-2d"/><use href="#WenQuanYiZenHei-30" transform="translate(29.980469 0)"/><use href="#WenQuanYiZenHei-2e" transform="translate(89.941406 0)"/><use href="#WenQuanYiZenHei-35" transform="translate(119.921875 0)"/></g></g></g><g id="ytick_4"><g id="line2d_10"><g><use href="#m33b7f4ba77" x="50.04" y="182.52" style="stroke: #000000; stroke-width: 0.8"/></g></g><g id="T_yt0_3" transform="matrix(0.9215 0 0 0.98 2.775 3.664)"><!-- 0.0 --><g transform="translate(27.674063 185.914688) scale(0.1 -0.1)"><use href="#WenQuanYiZenHei-30"/><use href="#WenQuanYiZenHei-2e" transform="translate(59.960938 0)"/><use href="#WenQuanYiZenHei-30" transform="translate(89.941406 0)"/></g></g></g><g id="ytick_5"><g id="line2d_11"><g><use href="#m33b7f4ba77" x="50.04" y="150.12" style="stroke: #000000; stroke-width: 0.8"/></g></g><g id="T_yt0_4" transform="matrix(0.9307 0 0 0.9702 2.43 4.477)"><!-- 0.5 --><g transform="translate(27.674063 152.927083) scale(0.1 -0.1)"><use href="#WenQuanYiZenHei-30"/><use href="#WenQuanYiZenHei-2e" transform="translate(59.960938 0)"/><use href="#WenQuanYiZenHei-35" transform="translate(89.941406 0)"/></g></g></g><g id="ytick_6"><g id="line2d_12"><g><use href="#m33b7f4ba77" x="50.04" y="117" style="stroke: #000000; stroke-width: 0.8"/></g></g><g id="T_yt0_5" transform="matrix(0.931 0 0 0.9801 2.437 2.156)"><!-- 1.0 --><g transform="translate(27.674063 119.939479) scale(0.1 -0.1)"><use href="#WenQuanYiZenHei-31"/><use href="#WenQuanYiZenHei-2e" transform="translate(59.960938 0)"/><use href="#WenQuanYiZenHei-30" transform="translate(89.941406 0)"/></g></g></g><g id="ytick_7"><g id="line2d_13"><g><use href="#m33b7f4ba77" x="50.04" y="83.88" style="stroke: #000000; stroke-width: 0.8"/></g></g><g id="T_yt0_6" transform="matrix(0.9311 0 0 0.9405 1.761 5.362)"><!-- 1.5 --><g transform="translate(27.674063 86.951875) scale(0.1 -0.1)"><use href="#WenQuanYiZenHei-31"/><use href="#WenQuanYiZenHei-2e" transform="translate(59.960938 0)"/><use href="#WenQuanYiZenHei-35" transform="translate(89.941406 0)"/></g></g></g><g id="T_yl0" transform="matrix(1 0 0 0.98 -0.36 3.999)"><!-- 权重数值 --><g transform="translate(19.014688 202.486562) rotate(-90) scale(0.1 -0.1)"><defs><path id="WenQuanYiZenHei-6743" d="M 5706 4700 Q 5569 2569 4681 1131 Q 5306 269 6213 -313 Q 5956 -394 5813 -625 Q 4994 -81 4419 750 Q 3700 -181 2600 -688 Q 2425 -481 2181 -350 Q 3388 144 4156 1163 Q 3369 2525 3213 4331 Q 3050 4331 2894 4319 Q 2913 4519 2894 4713 Q 3256 4700 3619 4700 L 5706 4700 z M 3619 4338 Q 3775 2681 4419 1550 Q 5125 2700 5269 4338 L 3619 4338 z M 469 263 Q 275 431 -31 469 Q 219 825 531 1337 Q 844 1850 1059 2406 Q 1275 2963 1438 3519 L 950 3519 Q 581 3519 213 3500 Q 238 3700 213 3900 Q 581 3881 950 3881 L 1563 3881 L 1563 4263 Q 1563 4719 1538 5175 Q 1788 5150 2038 5175 Q 2019 4719 2019 4263 L 2019 3881 L 2894 3900 Q 2875 3700 2894 3500 L 2019 3519 L 2019 2738 L 2213 2881 Q 2644 2300 3000 1650 L 2556 1413 Q 2394 1725 2206 2019 L 2019 2300 L 2019 69 Q 2019 -388 2038 -850 Q 1788 -825 1538 -850 Q 1563 -388 1563 69 L 1563 2438 Q 1056 1144 469 263 z" transform="scale(0.015625)"/><path id="WenQuanYiZenHei-91cd" d="M 6131 -56 Q 6119 -231 6131 -406 Q 5813 -388 5488 -388 L 763 -388 Q 438 -388 119 -406 Q 131 -231 119 -56 Q 438 -69 763 -69 L 2919 -69 L 2919 481 L 1369 481 Q 1044 481 725 469 Q 744 644 725 819 Q 1044 800 1369 800 L 2919 800 L 2919 1313 L 1013 1313 Q 1088 2331 1013 3350 L 2919 3350 L 2919 3788 L 813 3788 Q 488 3788 163 3769 Q 181 3944 163 4119 Q 488 4106 813 4106 L 2919 4106 L 2919 4731 Q 1775 4663 731 4581 L 494 5006 L 1175 5000 Q 1475 5006 1928 5025 Q 2381 5044 3103 5100 Q 3825 5156 4419 5218 Q 5013 5281 5356 5331 Q 5344 5075 5381 4831 Q 4600 4825 3356 4756 L 3356 4106 L 5438 4106 Q 5763 4106 6088 4119 Q 6069 3944 6088 3769 Q 5763 3788 5438 3788 L 3356 3788 L 3356 3350 L 5275 3350 Q 5200 2331 5275 1313 L 3356 1313 L 3356 800 L 4881 800 Q 5206 800 5525 819 Q 5506 644 5525 469 Q 5206 481 4881 481 L 3356 481 L 3356 -69 L 5488 -69 Q 5813 -69 6131 -56 z M 3356 2488 L 4844 2488 L 4844 3031 L 3356 3031 L 3356 2488 z M 2919 2488 L 2919 3031 L 1444 3031 L 1444 2488 L 2919 2488 z M 3356 2169 L 3356 1631 L 4838 1631 L 4844 2169 L 3356 2169 z M 2919 2169 L 1444 2169 L 1444 1631 L 2919 1631 L 2919 2169 z" transform="scale(0.015625)"/><path id="WenQuanYiZenHei-503c" d="M 6175 -219 Q 6156 -388 6175 -556 Q 5863 -544 5550 -544 L 2313 -544 Q 2000 -544 1688 -556 Q 1706 -388 1688 -219 L 2506 -231 L 2506 3469 L 3644 3469 L 3644 4119 L 2638 4119 Q 2325 4119 2013 4100 Q 2031 4269 2013 4438 Q 2325 4425 2638 4425 L 3638 4425 Q 3638 4719 3619 5013 Q 3856 4988 4094 5013 Q 4075 4719 4075 4425 L 5344 4425 Q 5650 4425 5963 4438 Q 5950 4269 5963 4100 Q 5656 4119 5344 4119 L 4069 4119 L 4069 3469 L 5300 3469 L 5300 -231 L 5550 -231 Q 5863 -231 6175 -219 z M 4869 2556 L 4869 3156 L 2931 3156 Q 2931 2850 2931 2556 L 4869 2556 z M 4869 1669 L 4869 2250 L 2931 2250 L 2931 1669 L 4869 1669 z M 4869 731 L 4869 1363 L 2931 1363 L 2931 731 L 4869 731 z M 4869 -231 L 4869 425 L 2931 425 L 2931 -231 L 4869 -231 z M 2106 4925 Q 1856 4075 1463 3338 L 1463 31 Q 1463 -413 1481 -850 Q 1256 -825 1031 -850 Q 1050 -413 1050 31 L 1050 2681 Q 750 2269 375 1931 Q 238 2156 0 2256 Q 331 2544 619 2875 Q 1094 3425 1300 3950 Q 1494 4469 1625 5050 Q 1850 4963 2106 4925 z" transform="scale(0.015625)"/></defs><use href="#WenQuanYiZenHei-6743"/><use href="#WenQuanYiZenHei-91cd" transform="translate(100 0)"/><use href="#WenQuanYiZenHei-6570" transform="translate(200 0)"/><use href="#WenQuanYiZenHei-503c" transform="translate(300 0)"/></g></g></g><g id="line2d_14"><path d="M 49.68 182.16 L 444.24 182.16" clip-path="url(#pf800863472)" style="fill: none; stroke-dasharray: 5.55,2.4; stroke-dashoffset: 0; stroke: #000000; stroke-opacity: 0.3; stroke-width: 1.5"/></g><g id="patch_3"><path d="M 50.04 281.88 L 50.04 83.88" style="fill: none; stroke: #000000; stroke-width: 0.8; stroke-linejoin: miter; stroke-linecap: square"/></g><g id="patch_4"><path d="M 444.6 281.88 L 444.6 83.88" style="fill: none; stroke: #000000; stroke-width: 0.8; stroke-linejoin: miter; stroke-linecap: square"/></g><g id="patch_5"><path d="M 50.04 281.88 L 444.6 281.88" style="fill: none; stroke: #000000; stroke-width: 0.8; stroke-linejoin: miter; stroke-linecap: square"/></g><g id="patch_6"><path d="M 50.04 83.88 L 444.6 83.88" style="fill: none; stroke: #000000; stroke-width: 0.8; stroke-linejoin: miter; stroke-linecap: square"/></g><g id="T_f0_0"><g id="patch_7"><path d="M 61.5 114.21 L 147.52 114.21 Q 150.82 114.21 150.82 110.91 L 150.82 99.36 Q 150.82 96.06 147.52 96.06 L 61.5 96.06 Q 58.2 96.06 58.2 99.36 L 58.2 110.91 Q 58.2 114.21 61.5 114.21 z" style="fill: #ffffff; opacity: 0.85"/></g><!-- $W \sim \mathcal{N}(0, 0.01^2)$ --><g transform="matrix(1 0 0 1.01 0 0.75) translate(61.504756 109.080769) scale(0.11 -0.11)"><defs><path id="DejaVuSans-Oblique-57" d="M 616 4666 L 1228 4666 L 1453 697 L 3213 4666 L 3916 4666 L 4147 697 L 5888 4666 L 6528 4666 L 4453 0 L 3659 0 L 3444 3891 L 1697 0 L 903 0 L 616 4666 z" transform="scale(0.015625)"/><path id="DejaVuSans-223c" d="M 4684 2556 L 4684 1997 Q 4356 1753 4076 1645 Q 3797 1538 3494 1538 Q 3150 1538 2694 1722 Q 2663 1734 2641 1744 Q 2622 1750 2575 1769 Q 2091 1959 1797 1959 Q 1522 1959 1253 1840 Q 984 1722 678 1459 L 678 2019 Q 1006 2263 1286 2370 Q 1566 2478 1869 2478 Q 2213 2478 2672 2294 Q 2706 2278 2722 2272 Q 2741 2266 2788 2247 Q 3272 2056 3566 2056 Q 3834 2056 4098 2173 Q 4363 2291 4684 2556 z" transform="scale(0.015625)"/><path id="STIXNonUnicode-Italic-e23a" d="M 4294 800 L 4301 800 Q 5293 4070 5408 4378 Q 5472 4538 5523 4614 Q 5830 5088 6253 5088 Q 6490 5088 6650 4931 Q 6810 4774 6810 4550 Q 6810 4378 6720 4272 Q 6630 4166 6470 4166 Q 6368 4166 6297 4224 Q 6227 4282 6198 4349 Q 6170 4416 6118 4473 Q 6067 4531 6003 4531 Q 5939 4531 5881 4508 Q 5824 4486 5785 4457 Q 5747 4429 5705 4371 Q 5664 4314 5638 4275 Q 5613 4237 5584 4163 Q 5555 4090 5545 4058 Q 5536 4026 5510 3952 Q 5485 3878 5485 3866 L 4262 -154 L 4134 -154 Q 3078 1280 2483 2893 L 2470 2893 Q 2406 2579 2358 2361 Q 2310 2144 2214 1792 Q 2118 1440 2028 1190 Q 1939 941 1804 653 Q 1670 365 1529 185 Q 1389 6 1203 -115 Q 1018 -237 813 -237 Q 576 -237 416 -80 Q 256 77 256 301 Q 256 474 345 579 Q 435 685 595 685 Q 698 685 768 627 Q 838 570 867 502 Q 896 435 947 377 Q 998 320 1062 320 Q 1222 320 1369 480 Q 1517 640 1638 928 Q 1760 1216 1862 1542 Q 1965 1869 2057 2288 Q 2150 2707 2214 3033 Q 2278 3360 2348 3741 Q 2419 4122 2458 4294 L 2630 4294 Q 2682 4166 2874 3680 Q 3066 3194 3142 3008 Q 3219 2822 3392 2422 Q 3565 2022 3683 1798 Q 3802 1574 3968 1292 Q 4134 1011 4294 800 z" transform="scale(0.015625)"/><path id="DejaVuSans-28" d="M 1984 4856 Q 1566 4138 1362 3434 Q 1159 2731 1159 2009 Q 1159 1288 1364 580 Q 1569 -128 1984 -844 L 1484 -844 Q 1016 -109 783 600 Q 550 1309 550 2009 Q 550 2706 781 3412 Q 1013 4119 1484 4856 L 1984 4856 z" transform="scale(0.015625)"/><path id="DejaVuSans-30" d="M 2034 4250 Q 1547 4250 1301 3770 Q 1056 3291 1056 2328 Q 1056 1369 1301 889 Q 1547 409 2034 409 Q 2525 409 2770 889 Q 3016 1369 3016 2328 Q 3016 3291 2770 3770 Q 2525 4250 2034 4250 z M 2034 4750 Q 2819 4750 3233 4129 Q 3647 3509 3647 2328 Q 3647 1150 3233 529 Q 2819 -91 2034 -91 Q 1250 -91 836 529 Q 422 1150 422 2328 Q 422 3509 836 4129 Q 1250 4750 2034 4750 z" transform="scale(0.015625)"/><path id="DejaVuSans-2c" d="M 750 794 L 1409 794 L 1409 256 L 897 -744 L 494 -744 L 750 256 L 750 794 z" transform="scale(0.015625)"/><path id="DejaVuSans-2e" d="M 684 794 L 1344 794 L 1344 0 L 684 0 L 684 794 z" transform="scale(0.015625)"/><path id="DejaVuSans-31" d="M 794 531 L 1825 531 L 1825 4091 L 703 3866 L 703 4441 L 1819 4666 L 2450 4666 L 2450 531 L 3481 531 L 3481 0 L 794 0 L 794 531 z" transform="scale(0.015625)"/><path id="DejaVuSans-32" d="M 1228 531 L 3431 531 L 3431 0 L 469 0 L 469 531 Q 828 903 1448 1529 Q 2069 2156 2228 2338 Q 2531 2678 2651 2914 Q 2772 3150 2772 3378 Q 2772 3750 2511 3984 Q 2250 4219 1831 4219 Q 1534 4219 1204 4116 Q 875 4013 500 3803 L 500 4441 Q 881 4594 1212 4672 Q 1544 4750 1819 4750 Q 2544 4750 2975 4387 Q 3406 4025 3406 3419 Q 3406 3131 3298 2873 Q 3191 2616 2906 2266 Q 2828 2175 2409 1742 Q 1991 1309 1228 531 z" transform="scale(0.015625)"/><path id="DejaVuSans-29" d="M 513 4856 L 1013 4856 Q 1481 4119 1714 3412 Q 1947 2706 1947 2009 Q 1947 1309 1714 600 Q 1481 -109 1013 -844 L 513 -844 Q 928 -128 1133 580 Q 1338 1288 1338 2009 Q 1338 2731 1133 3434 Q 928 4138 513 4856 z" transform="scale(0.015625)"/></defs><use href="#DejaVuSans-Oblique-57" transform="translate(0 0.765625)"/><use href="#DejaVuSans-223c" transform="translate(118.359375 0.765625)"/><use href="#STIXNonUnicode-Italic-e23a" transform="translate(221.630859 0.765625)"/><use href="#DejaVuSans-28" transform="translate(317.330841 0.765625)"/><use href="#DejaVuSans-30" transform="translate(356.344513 0.765625)"/><use href="#DejaVuSans-2c" transform="translate(419.96756 0.765625)"/><use href="#DejaVuSans-30" transform="translate(471.237091 0.765625)"/><use href="#DejaVuSans-2e" transform="translate(534.860138 0.765625)"/><use href="#DejaVuSans-30" transform="translate(566.647247 0.765625)"/><use href="#DejaVuSans-31" transform="translate(630.270294 0.765625)"/><use href="#DejaVuSans-32" transform="translate(694.850372 39.046875) scale(0.7)"/><use href="#DejaVuSans-29" transform="translate(742.12088 0.765625)"/></g></g><g id="T_title0"><!-- 小随机 (std=0.01) --><g transform="translate(195.130078 77.52375) scale(0.13 -0.13)"><defs><path id="WenQuanYiZenHei-5c0f" d="M 6350 1119 L 5906 856 L 5131 2119 L 4319 3350 L 4744 3644 L 5569 2400 L 6350 1119 z M 1656 3613 Q 1925 3513 2213 3475 Q 1613 1638 488 713 Q 331 963 56 1075 Q 531 1425 950 1956 Q 1475 2619 1656 3613 z M 3150 138 L 3150 4300 Q 3150 4781 3125 5256 Q 3388 5231 3650 5256 Q 3625 4781 3625 4300 L 3625 -19 Q 3625 -488 3350 -663 Q 3056 -844 2406 -838 Q 2481 -506 2250 -263 Q 2463 -288 2728 -291 Q 2994 -294 3072 -234 Q 3150 -175 3150 138 z" transform="scale(0.015625)"/><path id="WenQuanYiZenHei-968f" d="M 1981 2231 Q 2000 2394 1981 2556 Q 2281 2544 2581 2544 L 2963 2544 L 2963 406 Q 3263 81 3544 -50 Q 3825 -181 4313 -181 L 6025 -200 Q 5794 -363 5813 -644 L 4313 -650 Q 3800 -650 3372 -428 Q 2944 -206 2738 156 L 2013 -581 Q 1875 -388 1706 -225 L 1913 -81 L 2538 400 L 2538 2244 Q 2263 2244 1981 2231 z M 3119 3550 L 2688 3375 L 2294 4325 L 2725 4500 L 3119 3550 z M 5169 950 L 5169 1413 L 4106 1413 L 4106 1100 Q 4106 669 4131 244 Q 3900 269 3663 244 Q 3688 669 3688 1100 L 3688 2944 Q 3494 2700 3263 2456 Q 3125 2638 2913 2706 Q 3525 3319 3869 4113 L 3013 4094 Q 3025 4263 3013 4425 Q 3313 4406 3613 4406 L 3988 4406 Q 4100 4713 4200 5075 Q 4419 5000 4656 4975 Q 4594 4688 4500 4406 L 5563 4406 Q 5863 4406 6169 4425 Q 6150 4263 6169 4094 Q 5863 4113 5563 4113 L 4381 4113 Q 4231 3763 4025 3425 L 5594 3425 L 5594 819 Q 5569 450 5275 325 Q 5019 200 4669 206 Q 4725 488 4556 719 Q 4700 700 4887 697 Q 5075 694 5122 725 Q 5169 756 5169 950 z M 5169 2538 L 5169 3131 L 4113 3131 Q 4106 2825 4106 2538 L 5169 2538 z M 5169 1688 L 5169 2263 L 4106 2263 L 4106 1688 L 5169 1688 z M 763 -850 Q 544 -825 325 -850 Q 344 -419 344 19 L 338 4938 L 2106 4938 L 2106 4625 Q 2006 4513 1938 4375 L 1381 3238 Q 2038 2319 2038 1156 Q 2000 400 1463 163 L 1313 88 Q 1206 300 1063 481 Q 1206 538 1356 606 Q 1644 744 1675 1156 Q 1675 1744 1494 2300 Q 1313 2856 969 3313 L 1606 4625 L 738 4625 L 744 19 Q 744 -419 763 -850 z" transform="scale(0.015625)"/><path id="WenQuanYiZenHei-673a" d="M 5938 -738 L 5156 -738 Q 4713 -719 4563 -381 Q 4494 -231 4484 16 Q 4475 263 4475 2222 Q 4475 4181 4488 4456 L 3531 4456 L 3538 2156 Q 3544 250 2313 -700 Q 2156 -463 1875 -413 Q 3094 319 3088 2156 L 3081 4819 L 4938 4819 L 4938 25 Q 4938 -381 5163 -381 L 5631 -375 Q 5706 -375 5725 -319 Q 5744 -169 5738 6 L 5850 900 Q 5988 694 6231 688 L 6088 -544 Q 6081 -650 6025 -713 Q 5994 -738 5938 -738 z M 494 681 Q 313 794 25 794 Q 456 1556 850 2575 L 1188 3431 L 269 3419 Q 288 3569 269 3719 L 1238 3706 L 1238 4394 Q 1238 4806 1213 5225 Q 1481 5200 1750 5225 Q 1725 4806 1725 4394 L 1725 3706 L 2606 3719 Q 2588 3569 2606 3419 L 1725 3431 L 1725 2763 L 1950 2888 L 2563 2094 L 2113 1850 L 1725 2356 L 1725 138 Q 1725 -275 1750 -694 Q 1481 -669 1213 -694 Q 1238 -275 1238 138 L 1238 2169 Q 1081 1813 838 1338 L 494 681 z" transform="scale(0.015625)"/><path id="WenQuanYiZenHei-20" transform="scale(0.015625)"/><path id="WenQuanYiZenHei-28" d="M 1606 -1094 L 1275 -1094 Q 475 -100 338 1231 Q 319 1438 319 1656 Q 319 3031 1156 4244 Q 1213 4313 1269 4388 L 1600 4388 Q 806 3169 794 1681 Q 794 188 1606 -1094 z" transform="scale(0.015625)"/><path id="WenQuanYiZenHei-73" d="M 3031 944 Q 3031 294 2350 44 Q 2050 -63 1681 -63 Q 863 -63 475 425 Q 319 613 256 863 L 744 963 Q 806 544 1344 406 Q 1531 350 1719 350 Q 2250 350 2438 631 Q 2506 744 2506 888 Q 2506 1206 2081 1331 L 1638 1425 Q 988 1544 750 1688 Q 388 1919 388 2381 Q 388 2975 994 3219 Q 1269 3338 1606 3338 Q 2463 3338 2781 2781 Q 2856 2663 2894 2513 L 2431 2419 Q 2275 2869 1725 2925 Q 1663 2931 1600 2931 Q 1150 2931 981 2688 Q 906 2594 906 2456 Q 906 2138 1356 2013 Q 1413 1988 2038 1881 Q 2456 1806 2644 1675 Q 3031 1413 3031 944 z" transform="scale(0.015625)"/><path id="WenQuanYiZenHei-74" d="M 1994 -25 L 1406 -69 Q 594 -69 594 1000 L 594 2881 L 19 2881 L 19 3275 L 594 3275 L 594 4081 L 1094 4138 L 1094 3275 L 1819 3275 L 1819 2881 L 1094 2881 L 1094 913 Q 1150 363 1538 331 Q 1538 331 1994 369 L 1994 -25 z" transform="scale(0.015625)"/><path id="WenQuanYiZenHei-64" d="M 3025 0 L 2575 0 L 2575 575 L 2563 575 Q 2244 -63 1544 -63 Q 806 -63 456 663 Q 244 1094 244 1625 Q 244 2425 663 2919 Q 1025 3338 1588 3338 Q 2156 3338 2525 2813 L 2525 4388 L 3025 4388 L 3025 0 z M 2525 1406 L 2525 1925 Q 2525 2550 2119 2813 Q 1913 2938 1631 2938 Q 1075 2938 869 2275 Q 781 1994 781 1681 Q 781 775 1213 475 Q 1381 350 1619 350 Q 2119 350 2381 819 Q 2525 1088 2525 1406 z" transform="scale(0.015625)"/><path id="WenQuanYiZenHei-3d" d="M 3569 2256 L 263 2256 L 263 2675 L 3569 2675 L 3569 2256 z M 3569 1019 L 263 1019 L 263 1431 L 3569 1431 L 3569 1019 z" transform="scale(0.015625)"/><path id="WenQuanYiZenHei-29" d="M 1600 1656 Q 1600 306 869 -788 Q 769 -950 644 -1094 L 313 -1094 Q 1125 188 1125 1681 Q 1125 3169 338 4363 Q 325 4375 319 4388 L 650 4388 Q 1525 3231 1594 1863 Q 1600 1763 1600 1656 z" transform="scale(0.015625)"/></defs><use href="#WenQuanYiZenHei-5c0f"/><use href="#WenQuanYiZenHei-968f" transform="translate(100 0)"/><use href="#WenQuanYiZenHei-673a" transform="translate(200 0)"/><use href="#WenQuanYiZenHei-20" transform="translate(300 0)"/><use href="#WenQuanYiZenHei-28" transform="translate(329.980469 0)"/><use href="#WenQuanYiZenHei-73" transform="translate(359.960938 0)"/><use href="#WenQuanYiZenHei-74" transform="translate(411.914062 0)"/><use href="#WenQuanYiZenHei-64" transform="translate(443.847656 0)"/><use href="#WenQuanYiZenHei-3d" transform="translate(497.753906 0)"/><use href="#WenQuanYiZenHei-30" transform="translate(557.714844 0)"/><use href="#WenQuanYiZenHei-2e" transform="translate(617.675781 0)"/><use href="#WenQuanYiZenHei-30" transform="translate(647.65625 0)"/><use href="#WenQuanYiZenHei-31" transform="translate(707.617188 0)"/><use href="#WenQuanYiZenHei-29" transform="translate(767.578125 0)"/></g></g></g><g id="axes_2"><g id="patch_8"><path d="M 458.58 281.45 L 853.2 281.45 L 853.2 83.52 L 458.58 83.52 z" style="fill: #ffffff"/></g><g id="PathCollection_2" style="fill: #2ecc71; fill-opacity: 0.6; stroke: #2ecc71; stroke-opacity: 0.6"><defs><path id="m61c96b3f04" d="M 0 1.94 C 0.51 1.94 1.01 1.73 1.37 1.37 C 1.73 1.01 1.94 0.51 1.94 0 C 1.94 -0.51 1.73 -1.01 1.37 -1.37 C 1.01 -1.73 0.51 -1.94 0 -1.94 C -0.51 -1.94 -1.01 -1.73 -1.37 -1.37 C -1.73 -1.01 -1.94 -0.51 -1.94 0 C -1.94 0.51 -1.73 1.01 -1.37 1.37 C -1.01 1.73 -0.51 1.94 0 1.94 z" style="stroke: #2ecc71; stroke-opacity: 0.6"/></defs><g clip-path="url(#pbd581d484f)"><use href="#m61c96b3f04" x="477" y="177.48"/><use href="#m61c96b3f04" x="479.88" y="176.04"/><use href="#m61c96b3f04" x="481.32" y="176.76"/><use href="#m61c96b3f04" x="485.64" y="178.92"/><use href="#m61c96b3f04" x="492.12" y="178.92"/><use href="#m61c96b3f04" x="495.72" y="179.64"/><use href="#m61c96b3f04" x="499.32" y="178.2"/><use href="#m61c96b3f04" x="504.36" y="178.2"/><use href="#m61c96b3f04" x="510.84" y="180.36"/><use href="#m61c96b3f04" x="513.72" y="178.2"/><use href="#m61c96b3f04" x="519.48" y="176.76"/><use href="#m61c96b3f04" x="525.24" y="177.48"/><use href="#m61c96b3f04" x="528.12" y="178.2"/><use href="#m61c96b3f04" x="535.32" y="178.2"/><use href="#m61c96b3f04" x="538.92" y="176.04"/><use href="#m61c96b3f04" x="542.52" y="176.76"/><use href="#m61c96b3f04" x="546.84" y="176.04"/><use href="#m61c96b3f04" x="554.04" y="178.2"/><use href="#m61c96b3f04" x="477" y="181.08"/><use href="#m61c96b3f04" x="478.44" y="186.84"/><use href="#m61c96b3f04" x="479.88" y="190.44"/><use href="#m61c96b3f04" x="487.08" y="187.56"/><use href="#m61c96b3f04" x="490.68" y="189"/><use href="#m61c96b3f04" x="495.72" y="188.28"/><use href="#m61c96b3f04" x="502.2" y="188.28"/><use href="#m61c96b3f04" x="507.96" y="189"/><use href="#m61c96b3f04" x="521.64" y="187.56"/><use href="#m61c96b3f04" x="525.96" y="188.28"/><use href="#m61c96b3f04" x="548.28" y="189"/><use href="#m61c96b3f04" x="553.32" y="186.84"/><use href="#m61c96b3f04" x="541.08" y="184.68"/><use href="#m61c96b3f04" x="531.72" y="186.12"/><use href="#m61c96b3f04" x="515.88" y="185.4"/><use href="#m61c96b3f04" x="483.48" y="184.68"/><use href="#m61c96b3f04" x="562.68" y="176.76"/><use href="#m61c96b3f04" x="567.72" y="179.64"/><use href="#m61c96b3f04" x="576.36" y="176.76"/><use href="#m61c96b3f04" x="582.12" y="179.64"/><use href="#m61c96b3f04" x="587.88" y="178.2"/><use href="#m61c96b3f04" x="595.8" y="178.2"/><use href="#m61c96b3f04" x="601.56" y="178.2"/><use href="#m61c96b3f04" x="605.88" y="179.64"/><use href="#m61c96b3f04" x="614.52" y="177.48"/><use href="#m61c96b3f04" x="621" y="178.92"/><use href="#m61c96b3f04" x="624.6" y="180.36"/><use href="#m61c96b3f04" x="632.52" y="178.2"/><use href="#m61c96b3f04" x="638.28" y="178.2"/><use href="#m61c96b3f04" x="572.76" y="179.64"/><use href="#m61c96b3f04" x="563.4" y="188.28"/><use href="#m61c96b3f04" x="569.88" y="187.56"/><use href="#m61c96b3f04" x="574.2" y="186.12"/><use href="#m61c96b3f04" x="579.24" y="189.72"/><use href="#m61c96b3f04" x="583.56" y="186.84"/><use href="#m61c96b3f04" x="589.32" y="187.56"/><use href="#m61c96b3f04" x="592.2" y="187.56"/><use href="#m61c96b3f04" x="600.12" y="187.56"/><use href="#m61c96b3f04" x="603" y="186.12"/><use href="#m61c96b3f04" x="613.08" y="187.56"/><use href="#m61c96b3f04" x="620.28" y="189"/><use href="#m61c96b3f04" x="625.32" y="187.56"/><use href="#m61c96b3f04" x="631.8" y="189.72"/><use href="#m61c96b3f04" x="638.28" y="189"/><use href="#m61c96b3f04" x="559.8" y="186.12"/><use href="#m61c96b3f04" x="647.64" y="179.64"/><use href="#m61c96b3f04" x="654.12" y="176.76"/><use href="#m61c96b3f04" x="657.72" y="180.36"/><use href="#m61c96b3f04" x="662.76" y="181.08"/><use href="#m61c96b3f04" x="668.52" y="179.64"/><use href="#m61c96b3f04" x="673.56" y="178.2"/><use href="#m61c96b3f04" x="676.44" y="178.92"/><use href="#m61c96b3f04" x="679.32" y="174.6"/><use href="#m61c96b3f04" x="685.8" y="181.08"/><use href="#m61c96b3f04" x="687.96" y="181.08"/><use href="#m61c96b3f04" x="693" y="179.64"/><use href="#m61c96b3f04" x="696.6" y="179.64"/><use href="#m61c96b3f04" x="700.2" y="176.76"/><use href="#m61c96b3f04" x="704.52" y="180.36"/><use href="#m61c96b3f04" x="708.12" y="176.04"/><use href="#m61c96b3f04" x="713.16" y="178.92"/><use href="#m61c96b3f04" x="720.36" y="178.2"/><use href="#m61c96b3f04" x="726.12" y="178.2"/><use href="#m61c96b3f04" x="646.2" y="188.28"/><use href="#m61c96b3f04" x="649.08" y="185.4"/><use href="#m61c96b3f04" x="655.56" y="187.56"/><use href="#m61c96b3f04" x="662.04" y="189.72"/><use href="#m61c96b3f04" x="668.52" y="186.12"/><use href="#m61c96b3f04" x="674.28" y="187.56"/><use href="#m61c96b3f04" x="677.16" y="187.56"/><use href="#m61c96b3f04" x="684.36" y="187.56"/><use href="#m61c96b3f04" x="688.68" y="187.56"/><use href="#m61c96b3f04" x="694.44" y="187.56"/><use href="#m61c96b3f04" x="698.04" y="186.84"/><use href="#m61c96b3f04" x="698.04" y="189.72"/><use href="#m61c96b3f04" x="703.8" y="186.12"/><use href="#m61c96b3f04" x="707.4" y="189"/><use href="#m61c96b3f04" x="714.6" y="187.56"/><use href="#m61c96b3f04" x="717.48" y="190.44"/><use href="#m61c96b3f04" x="721.08" y="187.56"/><use href="#m61c96b3f04" x="725.4" y="186.84"/><use href="#m61c96b3f04" x="734.76" y="176.04"/><use href="#m61c96b3f04" x="739.08" y="177.48"/><use href="#m61c96b3f04" x="743.4" y="178.92"/><use href="#m61c96b3f04" x="749.16" y="178.92"/><use href="#m61c96b3f04" x="753.48" y="177.48"/><use href="#m61c96b3f04" x="758.52" y="176.76"/><use href="#m61c96b3f04" x="762.12" y="178.2"/><use href="#m61c96b3f04" x="765" y="179.64"/><use href="#m61c96b3f04" x="770.76" y="179.64"/><use href="#m61c96b3f04" x="773.64" y="178.2"/><use href="#m61c96b3f04" x="777.24" y="179.64"/><use href="#m61c96b3f04" x="781.56" y="179.64"/><use href="#m61c96b3f04" x="784.44" y="177.48"/><use href="#m61c96b3f04" x="788.76" y="181.08"/><use href="#m61c96b3f04" x="793.8" y="180.36"/><use href="#m61c96b3f04" x="798.12" y="179.64"/><use href="#m61c96b3f04" x="803.88" y="177.48"/><use href="#m61c96b3f04" x="808.92" y="178.2"/><use href="#m61c96b3f04" x="732.6" y="186.84"/><use href="#m61c96b3f04" x="738.36" y="187.56"/><use href="#m61c96b3f04" x="747" y="186.84"/><use href="#m61c96b3f04" x="752.76" y="186.84"/><use href="#m61c96b3f04" x="757.08" y="186.12"/><use href="#m61c96b3f04" x="760.68" y="188.28"/><use href="#m61c96b3f04" x="765" y="189.72"/><use href="#m61c96b3f04" x="774.36" y="185.4"/><use href="#m61c96b3f04" x="783" y="186.12"/><use href="#m61c96b3f04" x="790.92" y="187.56"/><use href="#m61c96b3f04" x="798.84" y="186.84"/><use href="#m61c96b3f04" x="803.16" y="186.84"/><use href="#m61c96b3f04" x="766.44" y="184.68"/><use href="#m61c96b3f04" x="793.8" y="180.36"/><use href="#m61c96b3f04" x="798.12" y="179.64"/><use href="#m61c96b3f04" x="803.88" y="177.48"/><use href="#m61c96b3f04" x="808.92" y="178.2"/><use href="#m61c96b3f04" x="815.4" y="176.04"/><use href="#m61c96b3f04" x="819" y="175.32"/><use href="#m61c96b3f04" x="822.6" y="175.32"/><use href="#m61c96b3f04" x="824.04" y="179.64"/><use href="#m61c96b3f04" x="831.24" y="178.92"/><use href="#m61c96b3f04" x="835.56" y="178.2"/><use href="#m61c96b3f04" x="806.04" y="178.92"/><use href="#m61c96b3f04" x="793.08" y="187.56"/><use href="#m61c96b3f04" x="798.84" y="186.12"/><use href="#m61c96b3f04" x="803.16" y="186.84"/><use href="#m61c96b3f04" x="810.36" y="186.12"/><use href="#m61c96b3f04" x="814.68" y="187.56"/><use href="#m61c96b3f04" x="818.28" y="186.84"/><use href="#m61c96b3f04" x="823.32" y="186.84"/><use href="#m61c96b3f04" x="826.92" y="187.56"/><use href="#m61c96b3f04" x="831.96" y="189"/><use href="#m61c96b3f04" x="835.56" y="186.12"/><use href="#m61c96b3f04" x="573.48" y="178.92"/><use href="#m61c96b3f04" x="830.52" y="179.64"/><use href="#m61c96b3f04" x="731.16" y="184.68"/><use href="#m61c96b3f04" x="653.4" y="181.08"/><use href="#m61c96b3f04" x="827.64" y="186.12"/><use href="#m61c96b3f04" x="505.8" y="185.4"/><use href="#m61c96b3f04" x="633.24" y="181.8"/><use href="#m61c96b3f04" x="705.96" y="180.36"/><use href="#m61c96b3f04" x="833.4" y="184.68"/><use href="#m61c96b3f04" x="716.76" y="183.96"/><use href="#m61c96b3f04" x="492.84" y="180.36"/><use href="#m61c96b3f04" x="800.28" y="183.24"/><use href="#m61c96b3f04" x="577.8" y="179.64"/><use href="#m61c96b3f04" x="767.88" y="186.12"/><use href="#m61c96b3f04" x="644.04" y="179.64"/><use href="#m61c96b3f04" x="690.84" y="178.92"/><use href="#m61c96b3f04" x="685.08" y="181.08"/><use href="#m61c96b3f04" x="729.72" y="183.24"/><use href="#m61c96b3f04" x="657" y="185.4"/><use href="#m61c96b3f04" x="611.64" y="185.4"/><use href="#m61c96b3f04" x="556.92" y="185.4"/><use href="#m61c96b3f04" x="733.32" y="180.36"/><use href="#m61c96b3f04" x="556.2" y="181.8"/><use href="#m61c96b3f04" x="772.2" y="183.96"/><use href="#m61c96b3f04" x="533.88" y="180.36"/><use href="#m61c96b3f04" x="507.24" y="183.24"/><use href="#m61c96b3f04" x="642.6" y="180.36"/><use href="#m61c96b3f04" x="790.2" y="185.4"/><use href="#m61c96b3f04" x="480.6" y="181.8"/><use href="#m61c96b3f04" x="536.76" y="182.52"/><use href="#m61c96b3f04" x="811.08" y="180.36"/><use href="#m61c96b3f04" x="559.08" y="181.08"/><use href="#m61c96b3f04" x="692.28" y="181.08"/><use href="#m61c96b3f04" x="658.44" y="181.8"/><use href="#m61c96b3f04" x="564.84" y="184.68"/><use href="#m61c96b3f04" x="648.36" y="183.24"/><use href="#m61c96b3f04" x="801.72" y="186.12"/><use href="#m61c96b3f04" x="776.52" y="183.24"/><use href="#m61c96b3f04" x="716.04" y="186.84"/><use href="#m61c96b3f04" x="727.56" y="183.96"/><use href="#m61c96b3f04" x="645.48" y="183.24"/><use href="#m61c96b3f04" x="712.44" y="183.96"/><use href="#m61c96b3f04" x="561.24" y="184.68"/><use href="#m61c96b3f04" x="550.44" y="181.08"/><use href="#m61c96b3f04" x="726.84" y="184.68"/><use href="#m61c96b3f04" x="607.32" y="181.8"/><use href="#m61c96b3f04" x="769.32" y="185.4"/><use href="#m61c96b3f04" x="590.04" y="181.08"/><use href="#m61c96b3f04" x="747.72" y="181.8"/><use href="#m61c96b3f04" x="778.68" y="181.08"/><use href="#m61c96b3f04" x="770.04" y="178.2"/><use href="#m61c96b3f04" x="669.24" y="178.92"/><use href="#m61c96b3f04" x="713.88" y="180.36"/><use href="#m61c96b3f04" x="829.8" y="186.12"/><use href="#m61c96b3f04" x="744.12" y="183.96"/><use href="#m61c96b3f04" x="672.12" y="182.52"/><use href="#m61c96b3f04" x="628.2" y="180.36"/><use href="#m61c96b3f04" x="718.92" y="178.92"/><use href="#m61c96b3f04" x="631.08" y="181.08"/><use href="#m61c96b3f04" x="700.92" y="183.24"/><use href="#m61c96b3f04" x="775.08" y="180.36"/><use href="#m61c96b3f04" x="541.8" y="181.08"/><use href="#m61c96b3f04" x="746.28" y="182.52"/><use href="#m61c96b3f04" x="612.36" y="179.64"/><use href="#m61c96b3f04" x="819.72" y="179.64"/><use href="#m61c96b3f04" x="574.92" y="182.52"/><use href="#m61c96b3f04" x="672.84" y="180.36"/><use href="#m61c96b3f04" x="579.96" y="186.84"/><use href="#m61c96b3f04" x="493.56" y="184.68"/><use href="#m61c96b3f04" x="675.72" y="182.52"/><use href="#m61c96b3f04" x="698.76" y="182.52"/><use href="#m61c96b3f04" x="564.12" y="181.08"/><use href="#m61c96b3f04" x="514.44" y="180.36"/><use href="#m61c96b3f04" x="479.16" y="183.24"/><use href="#m61c96b3f04" x="538.2" y="178.92"/><use href="#m61c96b3f04" x="619.56" y="182.52"/><use href="#m61c96b3f04" x="789.48" y="183.24"/><use href="#m61c96b3f04" x="649.8" y="179.64"/><use href="#m61c96b3f04" x="629.64" y="182.52"/><use href="#m61c96b3f04" x="549.72" y="181.08"/><use href="#m61c96b3f04" x="808.2" y="181.08"/><use href="#m61c96b3f04" x="565.56" y="180.36"/><use href="#m61c96b3f04" x="811.8" y="183.24"/><use href="#m61c96b3f04" x="686.52" y="184.68"/><use href="#m61c96b3f04" x="634.68" y="182.52"/><use href="#m61c96b3f04" x="543.24" y="183.24"/><use href="#m61c96b3f04" x="615.24" y="181.8"/><use href="#m61c96b3f04" x="677.88" y="184.68"/><use href="#m61c96b3f04" x="635.4" y="182.52"/><use href="#m61c96b3f04" x="641.16" y="181.8"/><use href="#m61c96b3f04" x="756.36" y="180.36"/><use href="#m61c96b3f04" x="735.48" y="179.64"/><use href="#m61c96b3f04" x="546.12" y="184.68"/><use href="#m61c96b3f04" x="590.76" y="178.92"/><use href="#m61c96b3f04" x="736.92" y="181.08"/><use href="#m61c96b3f04" x="627.48" y="183.96"/><use href="#m61c96b3f04" x="577.08" y="182.52"/><use href="#m61c96b3f04" x="794.52" y="184.68"/><use href="#m61c96b3f04" x="527.4" y="181.8"/><use href="#m61c96b3f04" x="768.6" y="182.52"/><use href="#m61c96b3f04" x="586.44" y="182.52"/><use href="#m61c96b3f04" x="496.44" y="183.96"/><use href="#m61c96b3f04" x="797.4" y="181.8"/><use href="#m61c96b3f04" x="821.16" y="181.8"/><use href="#m61c96b3f04" x="497.88" y="182.52"/><use href="#m61c96b3f04" x="532.44" y="181.8"/><use href="#m61c96b3f04" x="715.32" y="181.08"/><use href="#m61c96b3f04" x="711" y="181.8"/><use href="#m61c96b3f04" x="754.2" y="183.96"/><use href="#m61c96b3f04" x="664.2" y="185.4"/><use href="#m61c96b3f04" x="530.28" y="178.92"/><use href="#m61c96b3f04" x="697.32" y="183.24"/><use href="#m61c96b3f04" x="500.04" y="183.96"/><use href="#m61c96b3f04" x="723.96" y="183.24"/><use href="#m61c96b3f04" x="593.64" y="185.4"/><use href="#m61c96b3f04" x="604.44" y="178.2"/><use href="#m61c96b3f04" x="529.56" y="182.52"/><use href="#m61c96b3f04" x="643.32" y="179.64"/><use href="#m61c96b3f04" x="572.04" y="186.84"/><use href="#m61c96b3f04" x="651.24" y="183.24"/><use href="#m61c96b3f04" x="796.68" y="184.68"/><use href="#m61c96b3f04" x="503.64" y="180.36"/><use href="#m61c96b3f04" x="597.24" y="178.92"/><use href="#m61c96b3f04" x="588.6" y="183.96"/><use href="#m61c96b3f04" x="494.28" y="184.68"/><use href="#m61c96b3f04" x="691.56" y="186.12"/><use href="#m61c96b3f04" x="731.88" y="182.52"/><use href="#m61c96b3f04" x="584.28" y="180.36"/><use href="#m61c96b3f04" x="618.12" y="186.12"/><use href="#m61c96b3f04" x="569.16" y="180.36"/><use href="#m61c96b3f04" x="623.16" y="182.52"/><use href="#m61c96b3f04" x="599.4" y="181.08"/><use href="#m61c96b3f04" x="663.48" y="182.52"/><use href="#m61c96b3f04" x="829.08" y="180.36"/><use href="#m61c96b3f04" x="566.28" y="181.8"/><use href="#m61c96b3f04" x="706.68" y="181.08"/><use href="#m61c96b3f04" x="775.8" y="181.08"/><use href="#m61c96b3f04" x="785.88" y="183.24"/><use href="#m61c96b3f04" x="621.72" y="183.96"/><use href="#m61c96b3f04" x="767.16" y="185.4"/><use href="#m61c96b3f04" x="501.48" y="183.24"/><use href="#m61c96b3f04" x="675" y="181.8"/><use href="#m61c96b3f04" x="739.8" y="184.68"/><use href="#m61c96b3f04" x="600.84" y="178.92"/><use href="#m61c96b3f04" x="764.28" y="179.64"/><use href="#m61c96b3f04" x="554.76" y="186.84"/><use href="#m61c96b3f04" x="646.92" y="186.84"/><use href="#m61c96b3f04" x="736.2" y="178.2"/><use href="#m61c96b3f04" x="741.24" y="183.24"/><use href="#m61c96b3f04" x="795.24" y="185.4"/><use href="#m61c96b3f04" x="537.48" y="180.36"/><use href="#m61c96b3f04" x="734.04" y="181.8"/><use href="#m61c96b3f04" x="568.44" y="181.8"/><use href="#m61c96b3f04" x="771.48" y="179.64"/><use href="#m61c96b3f04" x="545.4" y="180.36"/><use href="#m61c96b3f04" x="513" y="180.36"/><use href="#m61c96b3f04" x="517.32" y="185.4"/><use href="#m61c96b3f04" x="729" y="182.52"/><use href="#m61c96b3f04" x="489.24" y="184.68"/><use href="#m61c96b3f04" x="740.52" y="183.96"/><use href="#m61c96b3f04" x="711.72" y="181.08"/><use href="#m61c96b3f04" x="724.68" y="181.08"/><use href="#m61c96b3f04" x="602.28" y="179.64"/><use href="#m61c96b3f04" x="523.08" y="181.08"/><use href="#m61c96b3f04" x="804.6" y="183.96"/><use href="#m61c96b3f04" x="763.56" y="181.8"/><use href="#m61c96b3f04" x="603.72" y="181.8"/><use href="#m61c96b3f04" x="749.88" y="181.8"/><use href="#m61c96b3f04" x="484.92" y="182.52"/><use href="#m61c96b3f04" x="785.16" y="184.68"/><use href="#m61c96b3f04" x="834.12" y="183.24"/><use href="#m61c96b3f04" x="772.92" y="180.36"/><use href="#m61c96b3f04" x="737.64" y="183.24"/><use href="#m61c96b3f04" x="486.36" y="182.52"/><use href="#m61c96b3f04" x="680.04" y="184.68"/><use href="#m61c96b3f04" x="505.08" y="182.52"/><use href="#m61c96b3f04" x="788.04" y="182.52"/><use href="#m61c96b3f04" x="534.6" y="178.2"/><use href="#m61c96b3f04" x="540.36" y="178.2"/><use href="#m61c96b3f04" x="681.48" y="183.24"/><use href="#m61c96b3f04" x="765.72" y="183.24"/><use href="#m61c96b3f04" x="626.76" y="179.64"/><use href="#m61c96b3f04" x="524.52" y="181.08"/><use href="#m61c96b3f04" x="710.28" y="183.96"/><use href="#m61c96b3f04" x="508.68" y="181.8"/><use href="#m61c96b3f04" x="477.72" y="183.96"/><use href="#m61c96b3f04" x="641.88" y="178.2"/><use href="#m61c96b3f04" x="821.88" y="186.84"/><use href="#m61c96b3f04" x="491.4" y="181.08"/><use href="#m61c96b3f04" x="487.8" y="186.12"/><use href="#m61c96b3f04" x="618.84" y="186.84"/><use href="#m61c96b3f04" x="708.84" y="182.52"/><use href="#m61c96b3f04" x="806.76" y="182.52"/><use href="#m61c96b3f04" x="570.6" y="180.36"/><use href="#m61c96b3f04" x="511.56" y="183.24"/><use href="#m61c96b3f04" x="571.32" y="181.8"/><use href="#m61c96b3f04" x="824.76" y="185.4"/><use href="#m61c96b3f04" x="719.64" y="186.84"/><use href="#m61c96b3f04" x="670.68" y="182.52"/><use href="#m61c96b3f04" x="757.8" y="181.8"/><use href="#m61c96b3f04" x="591.48" y="178.92"/><use href="#m61c96b3f04" x="639.72" y="183.24"/><use href="#m61c96b3f04" x="522.36" y="183.96"/><use href="#m61c96b3f04" x="633.96" y="178.2"/><use href="#m61c96b3f04" x="592.92" y="183.24"/><use href="#m61c96b3f04" x="509.4" y="181.8"/><use href="#m61c96b3f04" x="552.6" y="181.8"/><use href="#m61c96b3f04" x="754.92" y="181.8"/><use href="#m61c96b3f04" x="608.04" y="180.36"/><use href="#m61c96b3f04" x="617.4" y="181.08"/><use href="#m61c96b3f04" x="628.92" y="182.52"/><use href="#m61c96b3f04" x="539.64" y="180.36"/><use href="#m61c96b3f04" x="557.64" y="182.52"/><use href="#m61c96b3f04" x="536.04" y="185.4"/><use href="#m61c96b3f04" x="750.6" y="183.24"/><use href="#m61c96b3f04" x="616.68" y="179.64"/><use href="#m61c96b3f04" x="518.04" y="178.92"/><use href="#m61c96b3f04" x="656.28" y="185.4"/><use href="#m61c96b3f04" x="701.64" y="181.08"/><use href="#m61c96b3f04" x="667.8" y="181.8"/><use href="#m61c96b3f04" x="636.12" y="185.4"/><use href="#m61c96b3f04" x="585" y="182.52"/><use href="#m61c96b3f04" x="709.56" y="181.8"/><use href="#m61c96b3f04" x="613.8" y="185.4"/><use href="#m61c96b3f04" x="596.52" y="178.92"/><use href="#m61c96b3f04" x="807.48" y="180.36"/><use href="#m61c96b3f04" x="528.84" y="182.52"/><use href="#m61c96b3f04" x="533.16" y="182.52"/><use href="#m61c96b3f04" x="783.72" y="184.68"/><use href="#m61c96b3f04" x="786.6" y="182.52"/><use href="#m61c96b3f04" x="630.36" y="183.24"/><use href="#m61c96b3f04" x="560.52" y="179.64"/><use href="#m61c96b3f04" x="682.2" y="180.36"/><use href="#m61c96b3f04" x="695.16" y="178.92"/><use href="#m61c96b3f04" x="595.08" y="185.4"/><use href="#m61c96b3f04" x="813.96" y="179.64"/><use href="#m61c96b3f04" x="817.56" y="183.96"/><use href="#m61c96b3f04" x="802.44" y="182.52"/><use href="#m61c96b3f04" x="752.04" y="182.52"/><use href="#m61c96b3f04" x="779.4" y="183.24"/><use href="#m61c96b3f04" x="777.96" y="181.8"/><use href="#m61c96b3f04" x="742.68" y="185.4"/><use href="#m61c96b3f04" x="561.96" y="181.8"/><use href="#m61c96b3f04" x="801" y="186.84"/><use href="#m61c96b3f04" x="636.84" y="183.96"/><use href="#m61c96b3f04" x="834.84" y="184.68"/><use href="#m61c96b3f04" x="805.32" y="183.24"/><use href="#m61c96b3f04" x="690.12" y="181.08"/><use href="#m61c96b3f04" x="702.36" y="185.4"/><use href="#m61c96b3f04" x="580.68" y="181.8"/><use href="#m61c96b3f04" x="551.88" y="187.56"/><use href="#m61c96b3f04" x="651.96" y="178.92"/><use href="#m61c96b3f04" x="526.68" y="183.96"/><use href="#m61c96b3f04" x="555.48" y="180.36"/><use href="#m61c96b3f04" x="482.76" y="183.24"/><use href="#m61c96b3f04" x="495" y="183.24"/><use href="#m61c96b3f04" x="705.24" y="180.36"/><use href="#m61c96b3f04" x="759.24" y="180.36"/><use href="#m61c96b3f04" x="581.4" y="180.36"/><use href="#m61c96b3f04" x="608.76" y="183.96"/><use href="#m61c96b3f04" x="762.84" y="184.68"/><use href="#m61c96b3f04" x="695.88" y="182.52"/><use href="#m61c96b3f04" x="682.92" y="182.52"/><use href="#m61c96b3f04" x="659.88" y="186.12"/><use href="#m61c96b3f04" x="791.64" y="180.36"/><use href="#m61c96b3f04" x="506.52" y="179.64"/><use href="#m61c96b3f04" x="640.44" y="184.68"/><use href="#m61c96b3f04" x="650.52" y="184.68"/><use href="#m61c96b3f04" x="575.64" y="178.2"/><use href="#m61c96b3f04" x="666.36" y="183.24"/><use href="#m61c96b3f04" x="678.6" y="186.84"/><use href="#m61c96b3f04" x="609.48" y="185.4"/><use href="#m61c96b3f04" x="812.52" y="184.68"/><use href="#m61c96b3f04" x="825.48" y="180.36"/><use href="#m61c96b3f04" x="667.08" y="178.2"/><use href="#m61c96b3f04" x="637.56" y="181.8"/><use href="#m61c96b3f04" x="751.32" y="186.12"/><use href="#m61c96b3f04" x="610.2" y="183.24"/><use href="#m61c96b3f04" x="606.6" y="183.96"/><use href="#m61c96b3f04" x="516.6" y="182.52"/><use href="#m61c96b3f04" x="683.64" y="178.2"/><use href="#m61c96b3f04" x="520.2" y="185.4"/><use href="#m61c96b3f04" x="531" y="182.52"/><use href="#m61c96b3f04" x="816.12" y="184.68"/><use href="#m61c96b3f04" x="799.56" y="182.52"/><use href="#m61c96b3f04" x="512.28" y="181.8"/><use href="#m61c96b3f04" x="745.56" y="185.4"/><use href="#m61c96b3f04" x="598.68" y="182.52"/><use href="#m61c96b3f04" x="615.96" y="183.24"/><use href="#m61c96b3f04" x="585.72" y="184.68"/><use href="#m61c96b3f04" x="787.32" y="181.8"/><use href="#m61c96b3f04" x="582.84" y="178.92"/><use href="#m61c96b3f04" x="489.96" y="180.36"/><use href="#m61c96b3f04" x="741.96" y="179.64"/><use href="#m61c96b3f04" x="523.8" y="181.08"/><use href="#m61c96b3f04" x="671.4" y="181.8"/><use href="#m61c96b3f04" x="780.12" y="186.84"/><use href="#m61c96b3f04" x="594.36" y="180.36"/><use href="#m61c96b3f04" x="498.6" y="180.36"/><use href="#m61c96b3f04" x="558.36" y="184.68"/><use href="#m61c96b3f04" x="605.16" y="182.52"/><use href="#m61c96b3f04" x="699.48" y="185.4"/><use href="#m61c96b3f04" x="828.36" y="180.36"/><use href="#m61c96b3f04" x="755.64" y="181.8"/><use href="#m61c96b3f04" x="597.96" y="178.92"/><use href="#m61c96b3f04" x="510.12" y="181.8"/><use href="#m61c96b3f04" x="813.24" y="183.96"/><use href="#m61c96b3f04" x="482.04" y="179.64"/><use href="#m61c96b3f04" x="497.16" y="186.84"/><use href="#m61c96b3f04" x="689.4" y="185.4"/><use href="#m61c96b3f04" x="832.68" y="186.12"/><use href="#m61c96b3f04" x="622.44" y="185.4"/><use href="#m61c96b3f04" x="693.72" y="181.08"/><use href="#m61c96b3f04" x="718.2" y="184.68"/><use href="#m61c96b3f04" x="792.36" y="181.8"/><use href="#m61c96b3f04" x="623.88" y="178.2"/><use href="#m61c96b3f04" x="761.4" y="185.4"/><use href="#m61c96b3f04" x="703.08" y="185.4"/><use href="#m61c96b3f04" x="488.52" y="186.84"/><use href="#m61c96b3f04" x="748.44" y="183.96"/><use href="#m61c96b3f04" x="547.56" y="181.8"/><use href="#m61c96b3f04" x="723.24" y="181.8"/><use href="#m61c96b3f04" x="567" y="183.96"/><use href="#m61c96b3f04" x="661.32" y="185.4"/><use href="#m61c96b3f04" x="728.28" y="184.68"/><use href="#m61c96b3f04" x="826.2" y="178.2"/><use href="#m61c96b3f04" x="664.92" y="178.2"/><use href="#m61c96b3f04" x="610.92" y="181.08"/><use href="#m61c96b3f04" x="730.44" y="185.4"/><use href="#m61c96b3f04" x="515.16" y="182.52"/><use href="#m61c96b3f04" x="669.96" y="181.8"/><use href="#m61c96b3f04" x="809.64" y="182.52"/><use href="#m61c96b3f04" x="759.96" y="179.64"/><use href="#m61c96b3f04" x="659.16" y="185.4"/><use href="#m61c96b3f04" x="722.52" y="181.8"/><use href="#m61c96b3f04" x="587.16" y="178.2"/><use href="#m61c96b3f04" x="652.68" y="179.64"/><use href="#m61c96b3f04" x="626.04" y="182.52"/><use href="#m61c96b3f04" x="782.28" y="182.52"/><use href="#m61c96b3f04" x="795.96" y="179.64"/><use href="#m61c96b3f04" x="660.6" y="186.12"/><use href="#m61c96b3f04" x="520.92" y="183.96"/><use href="#m61c96b3f04" x="744.84" y="178.92"/><use href="#m61c96b3f04" x="484.2" y="181.08"/><use href="#m61c96b3f04" x="721.8" y="181.08"/><use href="#m61c96b3f04" x="780.84" y="186.84"/><use href="#m61c96b3f04" x="551.16" y="178.92"/><use href="#m61c96b3f04" x="476.28" y="186.12"/><use href="#m61c96b3f04" x="544.68" y="179.64"/></g></g><g id="matplotlib.axis_3"><g id="xtick_7"><g id="line2d_15"><g><use href="#m2cdf71e66a" x="477" y="281.88" style="stroke: #000000; stroke-width: 0.8"/></g></g><g id="T_xt1_1" transform="matrix(1 0 0 0.9405 0.18 17.398)"><!-- 0 --><g transform="translate(473.521818 295.305625) scale(0.1 -0.1)"><use href="#WenQuanYiZenHei-30"/></g></g></g><g id="xtick_8"><g id="line2d_16"><g><use href="#m2cdf71e66a" x="549" y="281.88" style="stroke: #000000; stroke-width: 0.8"/></g></g><g id="T_xt1_2" transform="matrix(0.9405 0 0 0.97 31.962 8.772)"><!-- 100 --><g transform="translate(539.417251 295.305625) scale(0.1 -0.1)"><use href="#WenQuanYiZenHei-31"/><use href="#WenQuanYiZenHei-30" transform="translate(59.960938 0)"/><use href="#WenQuanYiZenHei-30" transform="translate(119.921875 0)"/></g></g></g><g id="xtick_9"><g id="line2d_17"><g><use href="#m2cdf71e66a" x="621" y="281.88" style="stroke: #000000; stroke-width: 0.8"/></g></g><g id="T_xt1_3" transform="matrix(0.9405 0 0 0.9507 37.086 14.417)"><!-- 200 --><g transform="translate(611.309558 295.305625) scale(0.1 -0.1)"><use href="#WenQuanYiZenHei-32"/><use href="#WenQuanYiZenHei-30" transform="translate(59.960938 0)"/><use href="#WenQuanYiZenHei-30" transform="translate(119.921875 0)"/></g></g></g><g id="xtick_10"><g id="line2d_18"><g><use href="#m2cdf71e66a" x="692.28" y="281.88" style="stroke: #000000; stroke-width: 0.8"/></g></g><g id="T_xt1_4" transform="matrix(0.95 0 0 0.9507 34.79 14.417)"><!-- 300 --><g transform="translate(683.201865 295.305625) scale(0.1 -0.1)"><use href="#WenQuanYiZenHei-33"/><use href="#WenQuanYiZenHei-30" transform="translate(59.960938 0)"/><use href="#WenQuanYiZenHei-30" transform="translate(119.921875 0)"/></g></g></g><g id="xtick_11"><g id="line2d_19"><g><use href="#m2cdf71e66a" x="764.28" y="281.88" style="stroke: #000000; stroke-width: 0.8"/></g></g><g id="T_xt1_5" transform="matrix(0.9311 0 0 0.96 52.323 11.696)"><!-- 400 --><g transform="translate(755.094173 295.305625) scale(0.1 -0.1)"><use href="#WenQuanYiZenHei-34"/><use href="#WenQuanYiZenHei-30" transform="translate(59.960938 0)"/><use href="#WenQuanYiZenHei-30" transform="translate(119.921875 0)"/></g></g></g><g id="xtick_12"><g id="line2d_20"><g><use href="#m2cdf71e66a" x="836.28" y="281.88" style="stroke: #000000; stroke-width: 0.8"/></g></g><g id="T_xt1_6" transform="matrix(0.9405 0 0 0.9506 49.402 14.445)"><!-- 500 --><g transform="translate(826.98648 295.305625) scale(0.1 -0.1)"><use href="#WenQuanYiZenHei-35"/><use href="#WenQuanYiZenHei-30" transform="translate(59.960938 0)"/><use href="#WenQuanYiZenHei-30" transform="translate(119.921875 0)"/></g></g></g><g id="T_xl1" transform="matrix(0.98 0 0 1 12.416 0)"><!-- 神经元数量 --><g transform="translate(630.891562 309.032187) scale(0.1 -0.1)"><use href="#WenQuanYiZenHei-795e"/><use href="#WenQuanYiZenHei-7ecf" transform="translate(100 0)"/><use href="#WenQuanYiZenHei-5143" transform="translate(200 0)"/><use href="#WenQuanYiZenHei-6570" transform="translate(300 0)"/><use href="#WenQuanYiZenHei-91cf" transform="translate(400 0)"/></g></g></g><g id="matplotlib.axis_4"><g id="ytick_8"><g id="line2d_21"><g><use href="#m33b7f4ba77" x="459" y="281.88" style="stroke: #000000; stroke-width: 0.8"/></g></g></g><g id="ytick_9"><g id="line2d_22"><g><use href="#m33b7f4ba77" x="459" y="248.76" style="stroke: #000000; stroke-width: 0.8"/></g></g></g><g id="ytick_10"><g id="line2d_23"><g><use href="#m33b7f4ba77" x="459" y="215.64" style="stroke: #000000; stroke-width: 0.8"/></g></g></g><g id="ytick_11"><g id="line2d_24"><g><use href="#m33b7f4ba77" x="459" y="182.52" style="stroke: #000000; stroke-width: 0.8"/></g></g></g><g id="ytick_12"><g id="line2d_25"><g><use href="#m33b7f4ba77" x="459" y="150.12" style="stroke: #000000; stroke-width: 0.8"/></g></g></g><g id="ytick_13"><g id="line2d_26"><g><use href="#m33b7f4ba77" x="459" y="117" style="stroke: #000000; stroke-width: 0.8"/></g></g></g><g id="ytick_14"><g id="line2d_27"><g><use href="#m33b7f4ba77" x="459" y="83.88" style="stroke: #000000; stroke-width: 0.8"/></g></g></g></g><g id="line2d_28"><path d="M 458.64 182.16 L 853.2 182.16" clip-path="url(#pbd581d484f)" style="fill: none; stroke-dasharray: 5.55,2.4; stroke-dashoffset: 0; stroke: #000000; stroke-opacity: 0.3; stroke-width: 1.5"/></g><g id="patch_9"><path d="M 459 281.88 L 459 83.88" style="fill: none; stroke: #000000; stroke-width: 0.8; stroke-linejoin: miter; stroke-linecap: square"/></g><g id="patch_10"><path d="M 853.56 281.88 L 853.56 83.88" style="fill: none; stroke: #000000; stroke-width: 0.8; stroke-linejoin: miter; stroke-linecap: square"/></g><g id="patch_11"><path d="M 459 281.88 L 853.56 281.88" style="fill: none; stroke: #000000; stroke-width: 0.8; stroke-linejoin: miter; stroke-linecap: square"/></g><g id="patch_12"><path d="M 459 83.88 L 853.56 83.88" style="fill: none; stroke: #000000; stroke-width: 0.8; stroke-linejoin: miter; stroke-linecap: square"/></g><g id="T_f1_0"><g id="patch_13"><path d="M 470.42 113.44 L 593.62 113.44 Q 596.92 113.44 596.92 110.14 L 596.92 99.36 Q 596.92 96.06 593.62 96.06 L 470.42 96.06 Q 467.12 96.06 467.12 99.36 L 467.12 110.14 Q 467.12 113.44 470.42 113.44 z" style="fill: #ffffff; opacity: 0.85"/></g><!-- $W \sim \mathcal{N}(0, 2/(n_{in}+n_{out}))$ --><g transform="matrix(1 0 0 1 0 0.36) translate(470.421631 108.1578) scale(0.11 -0.11)"><defs><path id="DejaVuSans-2f" d="M 1625 4666 L 2156 4666 L 531 -594 L 0 -594 L 1625 4666 z" transform="scale(0.015625)"/><path id="DejaVuSans-Oblique-6e" d="M 3566 2113 L 3156 0 L 2578 0 L 2988 2091 Q 3016 2238 3031 2350 Q 3047 2463 3047 2528 Q 3047 2791 2881 2937 Q 2716 3084 2419 3084 Q 1956 3084 1622 2776 Q 1288 2469 1184 1941 L 800 0 L 225 0 L 903 3500 L 1478 3500 L 1363 2950 Q 1603 3253 1940 3418 Q 2278 3584 2650 3584 Q 3113 3584 3367 3334 Q 3622 3084 3622 2631 Q 3622 2519 3608 2391 Q 3594 2263 3566 2113 z" transform="scale(0.015625)"/><path id="DejaVuSans-Oblique-69" d="M 1172 4863 L 1747 4863 L 1606 4134 L 1031 4134 L 1172 4863 z M 909 3500 L 1484 3500 L 800 0 L 225 0 L 909 3500 z" transform="scale(0.015625)"/><path id="DejaVuSans-2b" d="M 2944 4013 L 2944 2272 L 4684 2272 L 4684 1741 L 2944 1741 L 2944 0 L 2419 0 L 2419 1741 L 678 1741 L 678 2272 L 2419 2272 L 2419 4013 L 2944 4013 z" transform="scale(0.015625)"/><path id="DejaVuSans-Oblique-6f" d="M 1625 -91 Q 1009 -91 651 289 Q 294 669 294 1325 Q 294 1706 417 2101 Q 541 2497 738 2766 Q 1047 3184 1428 3384 Q 1809 3584 2291 3584 Q 2888 3584 3255 3212 Q 3622 2841 3622 2241 Q 3622 1825 3500 1412 Q 3378 1000 3181 728 Q 2875 309 2494 109 Q 2113 -91 1625 -91 z M 891 1344 Q 891 869 1089 633 Q 1288 397 1691 397 Q 2269 397 2648 901 Q 3028 1406 3028 2181 Q 3028 2634 2825 2865 Q 2622 3097 2228 3097 Q 1903 3097 1650 2945 Q 1397 2794 1197 2484 Q 1050 2253 970 1956 Q 891 1659 891 1344 z" transform="scale(0.015625)"/><path id="DejaVuSans-Oblique-75" d="M 428 1388 L 838 3500 L 1416 3500 L 1006 1409 Q 975 1256 961 1147 Q 947 1038 947 966 Q 947 700 1109 554 Q 1272 409 1569 409 Q 2031 409 2368 721 Q 2706 1034 2809 1563 L 3194 3500 L 3769 3500 L 3091 0 L 2516 0 L 2631 550 Q 2388 244 2052 76 Q 1716 -91 1338 -91 Q 878 -91 622 161 Q 366 413 366 863 Q 366 956 381 1097 Q 397 1238 428 1388 z" transform="scale(0.015625)"/><path id="DejaVuSans-Oblique-74" d="M 2706 3500 L 2619 3053 L 1472 3053 L 1100 1153 Q 1081 1047 1072 975 Q 1063 903 1063 863 Q 1063 663 1183 572 Q 1303 481 1569 481 L 2150 481 L 2053 0 L 1503 0 Q 991 0 739 200 Q 488 400 488 806 Q 488 878 497 964 Q 506 1050 525 1153 L 897 3053 L 409 3053 L 500 3500 L 978 3500 L 1172 4494 L 1747 4494 L 1556 3500 L 2706 3500 z" transform="scale(0.015625)"/></defs><use href="#DejaVuSans-Oblique-57" transform="translate(0 0.5)"/><use href="#DejaVuSans-223c" transform="translate(118.359375 0.5)"/><use href="#STIXNonUnicode-Italic-e23a" transform="translate(221.630859 0.5)"/><use href="#DejaVuSans-28" transform="translate(317.330841 0.5)"/><use href="#DejaVuSans-30" transform="translate(356.344513 0.5)"/><use href="#DejaVuSans-2c" transform="translate(419.96756 0.5)"/><use href="#DejaVuSans-32" transform="translate(471.237091 0.5)"/><use href="#DejaVuSans-2f" transform="translate(534.860138 0.5)"/><use href="#DejaVuSans-28" transform="translate(568.551544 0.5)"/><use href="#DejaVuSans-Oblique-6e" transform="translate(607.565216 0.5)"/><use href="#DejaVuSans-Oblique-69" transform="translate(670.944122 -15.90625) scale(0.7)"/><use href="#DejaVuSans-Oblique-6e" transform="translate(690.392365 -15.90625) scale(0.7)"/><use href="#DejaVuSans-2b" transform="translate(756.974396 0.5)"/><use href="#DejaVuSans-Oblique-6e" transform="translate(860.24588 0.5)"/><use href="#DejaVuSans-Oblique-6f" transform="translate(923.624786 -15.90625) scale(0.7)"/><use href="#DejaVuSans-Oblique-75" transform="translate(966.451935 -15.90625) scale(0.7)"/><use href="#DejaVuSans-Oblique-74" transform="translate(1010.817169 -15.90625) scale(0.7)"/><use href="#DejaVuSans-29" transform="translate(1040.997833 0.5)"/><use href="#DejaVuSans-29" transform="translate(1080.011505 0.5)"/></g></g><g id="T_title1" transform="matrix(1 0 0 1 -0.18 0)"><!-- Xavier (适合Tanh) --><g transform="translate(606.283359 77.52375) scale(0.13 -0.13)"><defs><path id="WenQuanYiZenHei-58" d="M 3450 0 L 2831 0 L 1719 1869 L 569 0 L 56 0 L 1463 2275 L 213 4388 L 825 4388 L 1794 2763 L 2769 4388 L 3275 4388 L 2050 2381 L 3450 0 z" transform="scale(0.015625)"/><path id="WenQuanYiZenHei-61" d="M 3181 0 L 2681 0 L 2625 606 Q 2294 -63 1488 -63 Q 856 -63 544 331 Q 350 575 350 919 Q 350 1400 763 1706 Q 850 1781 956 1825 Q 1375 2025 2344 2019 L 2625 2019 L 2625 2156 Q 2625 2756 2200 2894 L 1975 2938 Q 1894 2944 1800 2944 Q 1025 2944 906 2369 L 444 2444 Q 525 3075 1281 3263 Q 1544 3338 1844 3338 Q 2675 3338 2931 2894 Q 3113 2594 3113 1944 L 3113 688 Q 3113 244 3181 0 z M 2625 1425 L 2625 1638 L 2206 1638 Q 888 1638 888 894 Q 888 488 1319 363 Q 1444 325 1594 325 Q 2125 325 2425 769 Q 2625 1063 2625 1425 z" transform="scale(0.015625)"/><path id="WenQuanYiZenHei-76" d="M 2831 3250 L 1706 0 L 1181 0 L 25 3250 L 581 3250 L 1494 606 L 2381 3250 L 2831 3250 z" transform="scale(0.015625)"/><path id="WenQuanYiZenHei-69" d="M 1044 3825 L 494 3825 L 494 4388 L 1044 4388 L 1044 3825 z M 1019 0 L 519 0 L 519 3250 L 1019 3250 L 1019 0 z" transform="scale(0.015625)"/><path id="WenQuanYiZenHei-65" d="M 3163 1588 L 800 1588 Q 794 963 1088 631 Q 1331 356 1769 356 Q 2313 356 2569 831 Q 2606 900 2638 988 L 3113 888 Q 2931 325 2363 69 Q 2063 -63 1725 -63 Q 888 -63 488 625 Q 238 1050 238 1625 Q 238 2431 725 2925 Q 1125 3338 1744 3338 Q 2588 3338 2956 2606 Q 3163 2200 3163 1663 L 3163 1588 z M 2613 1956 Q 2619 2488 2288 2763 Q 2063 2950 1744 2950 Q 1250 2950 988 2500 Q 838 2256 825 1956 L 2613 1956 z" transform="scale(0.015625)"/><path id="WenQuanYiZenHei-72" d="M 2063 2850 L 1956 2850 Q 1356 2850 1094 2281 Q 963 1988 963 1638 L 963 0 L 463 0 L 463 3250 L 906 3250 L 906 2488 L 919 2488 Q 1219 3344 1819 3344 Q 1894 3344 2063 3325 L 2063 2850 z" transform="scale(0.015625)"/><path id="WenQuanYiZenHei-9002" d="M 3038 225 L 2600 225 L 2600 2513 L 3806 2513 L 3806 3338 L 2681 3338 Q 2356 3338 2038 3319 Q 2056 3494 2038 3669 Q 2356 3656 2681 3656 L 3806 3656 L 3806 4669 Q 2394 4531 2350 4525 L 2119 4950 Q 2850 4888 3938 5044 Q 4881 5169 5394 5319 Q 5400 5069 5463 4825 Q 4963 4781 4238 4713 L 4238 3656 L 5488 3656 Q 5813 3656 6131 3669 Q 6119 3494 6131 3319 Q 5813 3338 5488 3338 L 4238 3338 L 4238 2513 L 5550 2513 L 5550 225 L 5119 225 L 5119 550 L 3038 550 L 3038 225 z M 1088 2450 L 763 2450 Q 438 2450 119 2431 Q 131 2606 119 2781 Q 438 2769 763 2769 L 1519 2769 L 1519 381 Q 2019 6 2500 -138 Q 2856 -231 3594 -238 L 6019 -256 Q 5781 -425 5800 -713 L 3594 -713 Q 2088 -713 1325 106 L 506 -650 Q 375 -444 213 -275 L 1088 331 L 1088 2450 z M 1319 3769 Q 863 4388 338 4950 L 688 5275 Q 1231 4694 1706 4050 L 1319 3769 z M 5119 2194 L 3038 2194 L 3038 869 L 5119 869 L 5119 2194 z" transform="scale(0.015625)"/><path id="WenQuanYiZenHei-5408" d="M 3219 4825 Q 4050 3150 6106 2681 Q 5894 2513 5838 2250 Q 5275 2388 4731 2700 Q 4713 2519 4731 2338 Q 4369 2356 4006 2356 L 2200 2356 Q 1838 2356 1469 2338 Q 1494 2531 1469 2731 Q 1838 2713 2200 2713 L 4006 2713 Q 4344 2713 4681 2731 Q 3581 3375 2969 4431 Q 1875 2806 425 2075 Q 338 2344 106 2506 Q 731 2806 1306 3240 Q 1881 3675 2231 4188 Q 2563 4694 2838 5250 Q 3069 5100 3325 5006 L 3219 4825 z M 1675 -919 Q 1431 -894 1188 -919 Q 1206 -444 1206 31 L 1206 1650 L 5113 1644 L 5113 -906 L 4669 -906 L 4669 -406 L 1656 -406 Q 1663 -663 1675 -919 z M 4669 1281 L 1650 1281 L 1650 -44 L 4669 -44 L 4669 1281 z" transform="scale(0.015625)"/><path id="WenQuanYiZenHei-54" d="M 3119 3913 L 1869 3913 L 1869 0 L 1319 0 L 1319 3913 L 69 3913 L 69 4388 L 3119 4388 L 3119 3913 z" transform="scale(0.015625)"/><path id="WenQuanYiZenHei-6e" d="M 3013 0 L 2513 0 L 2513 2013 Q 2513 2425 2444 2575 Q 2438 2594 2425 2613 Q 2288 2856 1956 2900 Q 1913 2906 1869 2906 Q 1263 2906 1038 2288 Q 944 2019 944 1700 L 944 0 L 444 0 L 444 3250 L 913 3250 L 913 2650 L 925 2650 Q 1156 3150 1644 3288 Q 1788 3338 1938 3338 Q 2544 3338 2844 2856 L 2863 2831 Q 3013 2569 3013 1931 L 3013 0 z" transform="scale(0.015625)"/><path id="WenQuanYiZenHei-68" d="M 3006 0 L 2506 0 L 2506 1894 Q 2506 2538 2313 2750 L 2206 2844 L 2063 2900 Q 1969 2925 1856 2925 Q 1488 2925 1194 2581 Q 956 2231 950 1669 L 950 0 L 450 0 L 450 4388 L 950 4388 L 950 2650 L 969 2650 Q 1288 3338 1975 3338 Q 2706 3338 2931 2650 Q 3006 2413 3006 2119 L 3006 0 z" transform="scale(0.015625)"/></defs><use href="#WenQuanYiZenHei-58"/><use href="#WenQuanYiZenHei-61" transform="translate(53.90625 0)"/><use href="#WenQuanYiZenHei-76" transform="translate(107.8125 0)"/><use href="#WenQuanYiZenHei-69" transform="translate(151.757812 0)"/><use href="#WenQuanYiZenHei-65" transform="translate(175.683594 0)"/><use href="#WenQuanYiZenHei-72" transform="translate(229.589844 0)"/><use href="#WenQuanYiZenHei-20" transform="translate(261.523438 0)"/><use href="#WenQuanYiZenHei-28" transform="translate(291.503906 0)"/><use href="#WenQuanYiZenHei-9002" transform="translate(321.484375 0)"/><use href="#WenQuanYiZenHei-5408" transform="translate(421.484375 0)"/><use href="#WenQuanYiZenHei-54" transform="translate(521.484375 0)"/><use href="#WenQuanYiZenHei-61" transform="translate(571.484375 0)"/><use href="#WenQuanYiZenHei-6e" transform="translate(625.390625 0)"/><use href="#WenQuanYiZenHei-68" transform="translate(679.296875 0)"/><use href="#WenQuanYiZenHei-29" transform="translate(733.203125 0)"/></g></g></g><g id="axes_3"><g id="patch_14"><path d="M 49.67 536.13 L 444.28 536.13 L 444.28 338.21 L 49.67 338.21 z" style="fill: #ffffff"/></g><g id="PathCollection_3" style="fill: #f39c12; fill-opacity: 0.6; stroke: #f39c12; stroke-opacity: 0.6"><defs><path id="md8da2b939f" d="M 0 1.94 C 0.51 1.94 1.01 1.73 1.37 1.37 C 1.73 1.01 1.94 0.51 1.94 0 C 1.94 -0.51 1.73 -1.01 1.37 -1.37 C 1.01 -1.73 0.51 -1.94 0 -1.94 C -0.51 -1.94 -1.01 -1.73 -1.37 -1.37 C -1.73 -1.01 -1.94 -0.51 -1.94 0 C -1.94 0.51 -1.73 1.01 -1.37 1.37 C -1.01 1.73 -0.51 1.94 0 1.94 z" style="stroke: #f39c12; stroke-opacity: 0.6"/></defs><g clip-path="url(#p43a01c188c)"><use href="#md8da2b939f" x="68.76" y="434.52"/><use href="#md8da2b939f" x="73.8" y="432.36"/><use href="#md8da2b939f" x="85.32" y="430.2"/><use href="#md8da2b939f" x="93.24" y="432.36"/><use href="#md8da2b939f" x="96.84" y="430.92"/><use href="#md8da2b939f" x="99" y="431.64"/><use href="#md8da2b939f" x="106.92" y="430.92"/><use href="#md8da2b939f" x="109.8" y="428.04"/><use href="#md8da2b939f" x="112.68" y="430.2"/><use href="#md8da2b939f" x="119.88" y="431.64"/><use href="#md8da2b939f" x="127.8" y="431.64"/><use href="#md8da2b939f" x="132.84" y="430.92"/><use href="#md8da2b939f" x="137.88" y="433.8"/><use href="#md8da2b939f" x="141.48" y="431.64"/><use href="#md8da2b939f" x="79.56" y="434.52"/><use href="#md8da2b939f" x="87.48" y="433.8"/><use href="#md8da2b939f" x="101.16" y="433.8"/><use href="#md8da2b939f" x="122.76" y="435.24"/><use href="#md8da2b939f" x="70.92" y="445.32"/><use href="#md8da2b939f" x="79.56" y="443.16"/><use href="#md8da2b939f" x="83.88" y="444.6"/><use href="#md8da2b939f" x="88.2" y="443.88"/><use href="#md8da2b939f" x="91.8" y="446.04"/><use href="#md8da2b939f" x="96.84" y="443.16"/><use href="#md8da2b939f" x="104.04" y="444.6"/><use href="#md8da2b939f" x="108.36" y="442.44"/><use href="#md8da2b939f" x="114.12" y="445.32"/><use href="#md8da2b939f" x="118.44" y="446.76"/><use href="#md8da2b939f" x="121.32" y="443.16"/><use href="#md8da2b939f" x="128.52" y="443.88"/><use href="#md8da2b939f" x="131.4" y="443.16"/><use href="#md8da2b939f" x="138.6" y="442.44"/><use href="#md8da2b939f" x="72.36" y="441.72"/><use href="#md8da2b939f" x="75.96" y="440.28"/><use href="#md8da2b939f" x="145.08" y="431.64"/><use href="#md8da2b939f" x="158.76" y="431.64"/><use href="#md8da2b939f" x="169.56" y="431.64"/><use href="#md8da2b939f" x="173.88" y="431.64"/><use href="#md8da2b939f" x="179.64" y="428.76"/><use href="#md8da2b939f" x="185.4" y="427.32"/><use href="#md8da2b939f" x="187.56" y="428.76"/><use href="#md8da2b939f" x="186.12" y="430.92"/><use href="#md8da2b939f" x="181.08" y="433.08"/><use href="#md8da2b939f" x="196.2" y="430.92"/><use href="#md8da2b939f" x="205.56" y="430.2"/><use href="#md8da2b939f" x="209.16" y="432.36"/><use href="#md8da2b939f" x="212.04" y="424.44"/><use href="#md8da2b939f" x="216.36" y="430.2"/><use href="#md8da2b939f" x="214.2" y="432.36"/><use href="#md8da2b939f" x="220.68" y="433.8"/><use href="#md8da2b939f" x="226.44" y="433.08"/><use href="#md8da2b939f" x="155.16" y="433.8"/><use href="#md8da2b939f" x="163.08" y="434.52"/><use href="#md8da2b939f" x="166.68" y="433.8"/><use href="#md8da2b939f" x="146.52" y="443.16"/><use href="#md8da2b939f" x="151.56" y="444.6"/><use href="#md8da2b939f" x="153.72" y="440.28"/><use href="#md8da2b939f" x="159.48" y="442.44"/><use href="#md8da2b939f" x="163.08" y="446.76"/><use href="#md8da2b939f" x="168.84" y="441.72"/><use href="#md8da2b939f" x="174.6" y="441.72"/><use href="#md8da2b939f" x="178.2" y="443.88"/><use href="#md8da2b939f" x="180.36" y="446.04"/><use href="#md8da2b939f" x="184.68" y="441.72"/><use href="#md8da2b939f" x="190.44" y="443.16"/><use href="#md8da2b939f" x="191.16" y="448.2"/><use href="#md8da2b939f" x="193.32" y="443.16"/><use href="#md8da2b939f" x="203.4" y="441"/><use href="#md8da2b939f" x="211.32" y="441"/><use href="#md8da2b939f" x="212.76" y="444.6"/><use href="#md8da2b939f" x="219.24" y="445.32"/><use href="#md8da2b939f" x="223.56" y="443.88"/><use href="#md8da2b939f" x="228.6" y="445.32"/><use href="#md8da2b939f" x="232.2" y="431.64"/><use href="#md8da2b939f" x="235.8" y="433.8"/><use href="#md8da2b939f" x="242.28" y="433.8"/><use href="#md8da2b939f" x="245.16" y="433.08"/><use href="#md8da2b939f" x="253.8" y="428.76"/><use href="#md8da2b939f" x="256.68" y="431.64"/><use href="#md8da2b939f" x="261" y="430.2"/><use href="#md8da2b939f" x="266.04" y="431.64"/><use href="#md8da2b939f" x="272.52" y="430.92"/><use href="#md8da2b939f" x="275.4" y="431.64"/><use href="#md8da2b939f" x="279" y="429.48"/><use href="#md8da2b939f" x="282.6" y="432.36"/><use href="#md8da2b939f" x="286.2" y="433.08"/><use href="#md8da2b939f" x="292.68" y="430.92"/><use href="#md8da2b939f" x="297.72" y="427.32"/><use href="#md8da2b939f" x="298.44" y="430.92"/><use href="#md8da2b939f" x="304.92" y="428.76"/><use href="#md8da2b939f" x="309.24" y="432.36"/><use href="#md8da2b939f" x="315" y="431.64"/><use href="#md8da2b939f" x="250.92" y="434.52"/><use href="#md8da2b939f" x="233.64" y="446.04"/><use href="#md8da2b939f" x="232.2" y="442.44"/><use href="#md8da2b939f" x="243" y="441.72"/><use href="#md8da2b939f" x="249.48" y="443.16"/><use href="#md8da2b939f" x="253.08" y="446.04"/><use href="#md8da2b939f" x="258.12" y="443.88"/><use href="#md8da2b939f" x="266.76" y="443.16"/><use href="#md8da2b939f" x="276.84" y="443.16"/><use href="#md8da2b939f" x="281.16" y="444.6"/><use href="#md8da2b939f" x="284.04" y="443.16"/><use href="#md8da2b939f" x="287.64" y="443.88"/><use href="#md8da2b939f" x="298.44" y="440.28"/><use href="#md8da2b939f" x="302.04" y="441.72"/><use href="#md8da2b939f" x="305.64" y="443.88"/><use href="#md8da2b939f" x="314.28" y="443.88"/><use href="#md8da2b939f" x="293.4" y="450.36"/><use href="#md8da2b939f" x="322.2" y="425.88"/><use href="#md8da2b939f" x="325.8" y="432.36"/><use href="#md8da2b939f" x="330.84" y="430.92"/><use href="#md8da2b939f" x="337.32" y="430.2"/><use href="#md8da2b939f" x="344.52" y="431.64"/><use href="#md8da2b939f" x="348.12" y="433.08"/><use href="#md8da2b939f" x="352.44" y="430.2"/><use href="#md8da2b939f" x="355.32" y="433.8"/><use href="#md8da2b939f" x="360.36" y="433.8"/><use href="#md8da2b939f" x="363.96" y="430.2"/><use href="#md8da2b939f" x="367.56" y="432.36"/><use href="#md8da2b939f" x="370.44" y="427.32"/><use href="#md8da2b939f" x="371.88" y="432.36"/><use href="#md8da2b939f" x="374.76" y="431.64"/><use href="#md8da2b939f" x="379.8" y="430.92"/><use href="#md8da2b939f" x="384.84" y="433.8"/><use href="#md8da2b939f" x="392.04" y="428.04"/><use href="#md8da2b939f" x="394.92" y="431.64"/><use href="#md8da2b939f" x="397.8" y="430.2"/><use href="#md8da2b939f" x="321.48" y="433.8"/><use href="#md8da2b939f" x="334.44" y="435.24"/><use href="#md8da2b939f" x="338.76" y="435.24"/><use href="#md8da2b939f" x="317.88" y="435.24"/><use href="#md8da2b939f" x="319.32" y="448.2"/><use href="#md8da2b939f" x="320.76" y="443.88"/><use href="#md8da2b939f" x="327.24" y="442.44"/><use href="#md8da2b939f" x="332.28" y="443.16"/><use href="#md8da2b939f" x="336.6" y="443.16"/><use href="#md8da2b939f" x="343.08" y="443.16"/><use href="#md8da2b939f" x="349.56" y="443.16"/><use href="#md8da2b939f" x="356.76" y="445.32"/><use href="#md8da2b939f" x="363.24" y="443.16"/><use href="#md8da2b939f" x="371.16" y="441.72"/><use href="#md8da2b939f" x="377.64" y="442.44"/><use href="#md8da2b939f" x="382.68" y="443.16"/><use href="#md8da2b939f" x="390.6" y="442.44"/><use href="#md8da2b939f" x="395.64" y="441.72"/><use href="#md8da2b939f" x="401.4" y="443.16"/><use href="#md8da2b939f" x="384.84" y="433.8"/><use href="#md8da2b939f" x="392.04" y="428.04"/><use href="#md8da2b939f" x="394.92" y="431.64"/><use href="#md8da2b939f" x="397.8" y="430.2"/><use href="#md8da2b939f" x="397.08" y="431.64"/><use href="#md8da2b939f" x="407.16" y="430.92"/><use href="#md8da2b939f" x="406.44" y="433.8"/><use href="#md8da2b939f" x="411.48" y="432.36"/><use href="#md8da2b939f" x="417.96" y="430.92"/><use href="#md8da2b939f" x="420.84" y="433.8"/><use href="#md8da2b939f" x="425.16" y="434.52"/><use href="#md8da2b939f" x="426.6" y="427.32"/><use href="#md8da2b939f" x="383.4" y="443.16"/><use href="#md8da2b939f" x="391.32" y="441.72"/><use href="#md8da2b939f" x="395.64" y="441.72"/><use href="#md8da2b939f" x="401.4" y="442.44"/><use href="#md8da2b939f" x="402.84" y="448.2"/><use href="#md8da2b939f" x="404.28" y="441"/><use href="#md8da2b939f" x="410.04" y="445.32"/><use href="#md8da2b939f" x="412.92" y="446.04"/><use href="#md8da2b939f" x="413.64" y="443.16"/><use href="#md8da2b939f" x="410.76" y="439.56"/><use href="#md8da2b939f" x="418.68" y="439.56"/><use href="#md8da2b939f" x="424.44" y="441.72"/><use href="#md8da2b939f" x="425.88" y="444.6"/><use href="#md8da2b939f" x="129.24" y="441"/><use href="#md8da2b939f" x="261.72" y="441"/><use href="#md8da2b939f" x="280.44" y="439.56"/><use href="#md8da2b939f" x="302.76" y="440.28"/><use href="#md8da2b939f" x="144.36" y="439.56"/><use href="#md8da2b939f" x="329.4" y="435.96"/><use href="#md8da2b939f" x="389.16" y="438.12"/><use href="#md8da2b939f" x="94.68" y="438.12"/><use href="#md8da2b939f" x="345.96" y="433.08"/><use href="#md8da2b939f" x="96.12" y="431.64"/><use href="#md8da2b939f" x="290.52" y="431.64"/><use href="#md8da2b939f" x="399.24" y="435.24"/><use href="#md8da2b939f" x="385.56" y="435.96"/><use href="#md8da2b939f" x="258.84" y="431.64"/><use href="#md8da2b939f" x="230.04" y="432.36"/><use href="#md8da2b939f" x="243.72" y="438.84"/><use href="#md8da2b939f" x="351" y="432.36"/><use href="#md8da2b939f" x="82.44" y="443.16"/><use href="#md8da2b939f" x="86.04" y="441"/><use href="#md8da2b939f" x="269.64" y="438.12"/><use href="#md8da2b939f" x="139.32" y="441.72"/><use href="#md8da2b939f" x="103.32" y="433.08"/><use href="#md8da2b939f" x="357.48" y="432.36"/><use href="#md8da2b939f" x="76.68" y="433.08"/><use href="#md8da2b939f" x="194.76" y="432.36"/><use href="#md8da2b939f" x="160.92" y="433.8"/><use href="#md8da2b939f" x="222.12" y="436.68"/><use href="#md8da2b939f" x="343.8" y="434.52"/><use href="#md8da2b939f" x="366.12" y="443.88"/><use href="#md8da2b939f" x="335.16" y="439.56"/><use href="#md8da2b939f" x="299.16" y="438.12"/><use href="#md8da2b939f" x="420.12" y="438.12"/><use href="#md8da2b939f" x="342.36" y="435.24"/><use href="#md8da2b939f" x="217.8" y="441"/><use href="#md8da2b939f" x="192.6" y="436.68"/><use href="#md8da2b939f" x="384.12" y="435.96"/><use href="#md8da2b939f" x="324.36" y="440.28"/><use href="#md8da2b939f" x="271.08" y="437.4"/><use href="#md8da2b939f" x="379.08" y="438.12"/><use href="#md8da2b939f" x="142.2" y="435.24"/><use href="#md8da2b939f" x="267.48" y="437.4"/><use href="#md8da2b939f" x="356.04" y="439.56"/><use href="#md8da2b939f" x="68.04" y="435.24"/><use href="#md8da2b939f" x="188.28" y="439.56"/><use href="#md8da2b939f" x="393.48" y="431.64"/><use href="#md8da2b939f" x="347.4" y="437.4"/><use href="#md8da2b939f" x="366.84" y="439.56"/><use href="#md8da2b939f" x="237.96" y="435.24"/><use href="#md8da2b939f" x="296.28" y="440.28"/><use href="#md8da2b939f" x="165.24" y="431.64"/><use href="#md8da2b939f" x="240.12" y="438.84"/><use href="#md8da2b939f" x="362.52" y="437.4"/><use href="#md8da2b939f" x="195.48" y="435.24"/><use href="#md8da2b939f" x="407.88" y="433.8"/><use href="#md8da2b939f" x="392.76" y="443.88"/><use href="#md8da2b939f" x="381.24" y="431.64"/><use href="#md8da2b939f" x="289.08" y="443.16"/><use href="#md8da2b939f" x="361.08" y="434.52"/><use href="#md8da2b939f" x="149.4" y="438.12"/><use href="#md8da2b939f" x="307.08" y="431.64"/><use href="#md8da2b939f" x="129.96" y="435.24"/><use href="#md8da2b939f" x="237.24" y="441.72"/><use href="#md8da2b939f" x="156.6" y="437.4"/><use href="#md8da2b939f" x="279.72" y="442.44"/><use href="#md8da2b939f" x="222.84" y="443.16"/><use href="#md8da2b939f" x="231.48" y="436.68"/><use href="#md8da2b939f" x="157.32" y="439.56"/><use href="#md8da2b939f" x="117.72" y="443.16"/><use href="#md8da2b939f" x="307.8" y="435.96"/><use href="#md8da2b939f" x="378.36" y="435.24"/><use href="#md8da2b939f" x="294.12" y="436.68"/><use href="#md8da2b939f" x="373.32" y="430.92"/><use href="#md8da2b939f" x="114.84" y="438.12"/><use href="#md8da2b939f" x="297" y="442.44"/><use href="#md8da2b939f" x="109.08" y="438.12"/><use href="#md8da2b939f" x="303.48" y="430.92"/><use href="#md8da2b939f" x="92.52" y="433.08"/><use href="#md8da2b939f" x="124.2" y="442.44"/><use href="#md8da2b939f" x="182.52" y="441.72"/><use href="#md8da2b939f" x="167.4" y="439.56"/><use href="#md8da2b939f" x="225" y="433.08"/><use href="#md8da2b939f" x="140.04" y="430.92"/><use href="#md8da2b939f" x="101.88" y="439.56"/><use href="#md8da2b939f" x="123.48" y="433.8"/><use href="#md8da2b939f" x="417.24" y="437.4"/><use href="#md8da2b939f" x="374.04" y="439.56"/><use href="#md8da2b939f" x="208.44" y="443.88"/><use href="#md8da2b939f" x="301.32" y="441"/><use href="#md8da2b939f" x="409.32" y="441.72"/><use href="#md8da2b939f" x="376.2" y="435.24"/><use href="#md8da2b939f" x="251.64" y="435.24"/><use href="#md8da2b939f" x="320.04" y="430.92"/><use href="#md8da2b939f" x="234.36" y="436.68"/><use href="#md8da2b939f" x="67.32" y="438.84"/><use href="#md8da2b939f" x="105.48" y="435.24"/><use href="#md8da2b939f" x="273.24" y="435.24"/><use href="#md8da2b939f" x="219.96" y="431.64"/><use href="#md8da2b939f" x="199.08" y="437.4"/><use href="#md8da2b939f" x="402.12" y="436.68"/><use href="#md8da2b939f" x="111.24" y="433.8"/><use href="#md8da2b939f" x="252.36" y="437.4"/><use href="#md8da2b939f" x="217.08" y="443.88"/><use href="#md8da2b939f" x="142.92" y="432.36"/><use href="#md8da2b939f" x="236.52" y="435.24"/><use href="#md8da2b939f" x="201.96" y="435.24"/><use href="#md8da2b939f" x="78.84" y="441"/><use href="#md8da2b939f" x="163.8" y="433.08"/><use href="#md8da2b939f" x="198.36" y="436.68"/><use href="#md8da2b939f" x="116.28" y="442.44"/><use href="#md8da2b939f" x="133.56" y="436.68"/><use href="#md8da2b939f" x="341.64" y="439.56"/><use href="#md8da2b939f" x="387" y="439.56"/><use href="#md8da2b939f" x="73.08" y="442.44"/><use href="#md8da2b939f" x="127.08" y="432.36"/><use href="#md8da2b939f" x="312.12" y="437.4"/><use href="#md8da2b939f" x="153" y="437.4"/><use href="#md8da2b939f" x="416.52" y="442.44"/><use href="#md8da2b939f" x="119.16" y="434.52"/><use href="#md8da2b939f" x="104.76" y="434.52"/><use href="#md8da2b939f" x="125.64" y="433.08"/><use href="#md8da2b939f" x="306.36" y="438.84"/><use href="#md8da2b939f" x="339.48" y="441"/><use href="#md8da2b939f" x="239.4" y="432.36"/><use href="#md8da2b939f" x="137.16" y="438.12"/><use href="#md8da2b939f" x="189" y="440.28"/><use href="#md8da2b939f" x="204.84" y="442.44"/><use href="#md8da2b939f" x="235.08" y="435.24"/><use href="#md8da2b939f" x="323.64" y="434.52"/><use href="#md8da2b939f" x="135.72" y="433.8"/><use href="#md8da2b939f" x="106.2" y="433.8"/><use href="#md8da2b939f" x="183.24" y="435.96"/><use href="#md8da2b939f" x="364.68" y="440.28"/><use href="#md8da2b939f" x="230.76" y="441"/><use href="#md8da2b939f" x="91.08" y="436.68"/><use href="#md8da2b939f" x="271.8" y="441.72"/><use href="#md8da2b939f" x="176.04" y="441.72"/><use href="#md8da2b939f" x="389.88" y="440.28"/><use href="#md8da2b939f" x="69.48" y="439.56"/><use href="#md8da2b939f" x="286.92" y="433.08"/><use href="#md8da2b939f" x="408.6" y="431.64"/><use href="#md8da2b939f" x="260.28" y="438.12"/><use href="#md8da2b939f" x="309.96" y="439.56"/><use href="#md8da2b939f" x="102.6" y="435.24"/><use href="#md8da2b939f" x="400.68" y="436.68"/><use href="#md8da2b939f" x="313.56" y="436.68"/><use href="#md8da2b939f" x="173.16" y="439.56"/><use href="#md8da2b939f" x="274.68" y="439.56"/><use href="#md8da2b939f" x="262.44" y="437.4"/><use href="#md8da2b939f" x="365.4" y="441.72"/><use href="#md8da2b939f" x="147.96" y="438.12"/><use href="#md8da2b939f" x="331.56" y="431.64"/><use href="#md8da2b939f" x="376.92" y="437.4"/><use href="#md8da2b939f" x="412.2" y="439.56"/><use href="#md8da2b939f" x="248.76" y="432.36"/><use href="#md8da2b939f" x="291.24" y="433.8"/><use href="#md8da2b939f" x="264.6" y="436.68"/><use href="#md8da2b939f" x="359.64" y="433.8"/><use href="#md8da2b939f" x="414.36" y="432.36"/><use href="#md8da2b939f" x="422.28" y="431.64"/><use href="#md8da2b939f" x="369.72" y="437.4"/><use href="#md8da2b939f" x="372.6" y="440.28"/><use href="#md8da2b939f" x="288.36" y="438.84"/><use href="#md8da2b939f" x="93.96" y="437.4"/><use href="#md8da2b939f" x="281.88" y="435.96"/><use href="#md8da2b939f" x="333.72" y="436.68"/><use href="#md8da2b939f" x="124.92" y="433.08"/><use href="#md8da2b939f" x="183.96" y="436.68"/><use href="#md8da2b939f" x="268.2" y="435.96"/><use href="#md8da2b939f" x="221.4" y="435.96"/><use href="#md8da2b939f" x="95.4" y="441.72"/><use href="#md8da2b939f" x="181.8" y="435.24"/><use href="#md8da2b939f" x="403.56" y="435.24"/><use href="#md8da2b939f" x="289.8" y="437.4"/><use href="#md8da2b939f" x="176.76" y="435.96"/><use href="#md8da2b939f" x="328.68" y="435.24"/><use href="#md8da2b939f" x="268.92" y="435.24"/><use href="#md8da2b939f" x="161.64" y="436.68"/><use href="#md8da2b939f" x="200.52" y="438.12"/><use href="#md8da2b939f" x="270.36" y="438.84"/><use href="#md8da2b939f" x="140.76" y="435.96"/><use href="#md8da2b939f" x="423.72" y="440.28"/><use href="#md8da2b939f" x="248.04" y="436.68"/><use href="#md8da2b939f" x="81.72" y="442.44"/><use href="#md8da2b939f" x="327.96" y="440.28"/><use href="#md8da2b939f" x="254.52" y="436.68"/><use href="#md8da2b939f" x="70.2" y="436.68"/><use href="#md8da2b939f" x="340.2" y="438.84"/><use href="#md8da2b939f" x="310.68" y="437.4"/><use href="#md8da2b939f" x="196.92" y="432.36"/><use href="#md8da2b939f" x="160.2" y="439.56"/><use href="#md8da2b939f" x="201.24" y="443.16"/><use href="#md8da2b939f" x="245.88" y="436.68"/><use href="#md8da2b939f" x="415.08" y="438.12"/><use href="#md8da2b939f" x="322.92" y="437.4"/><use href="#md8da2b939f" x="265.32" y="443.88"/><use href="#md8da2b939f" x="276.12" y="441"/><use href="#md8da2b939f" x="224.28" y="443.16"/><use href="#md8da2b939f" x="291.96" y="443.16"/><use href="#md8da2b939f" x="145.8" y="436.68"/><use href="#md8da2b939f" x="83.16" y="439.56"/><use href="#md8da2b939f" x="218.52" y="435.96"/><use href="#md8da2b939f" x="194.04" y="438.84"/><use href="#md8da2b939f" x="386.28" y="433.08"/><use href="#md8da2b939f" x="172.44" y="432.36"/><use href="#md8da2b939f" x="158.04" y="438.84"/><use href="#md8da2b939f" x="126.36" y="441"/><use href="#md8da2b939f" x="353.88" y="438.12"/><use href="#md8da2b939f" x="171.72" y="442.44"/><use href="#md8da2b939f" x="99.72" y="433.8"/><use href="#md8da2b939f" x="273.96" y="434.52"/><use href="#md8da2b939f" x="354.6" y="439.56"/><use href="#md8da2b939f" x="162.36" y="434.52"/><use href="#md8da2b939f" x="150.12" y="431.64"/><use href="#md8da2b939f" x="202.68" y="437.4"/><use href="#md8da2b939f" x="299.88" y="435.96"/><use href="#md8da2b939f" x="154.44" y="435.24"/><use href="#md8da2b939f" x="225.72" y="442.44"/><use href="#md8da2b939f" x="345.24" y="437.4"/><use href="#md8da2b939f" x="81" y="440.28"/><use href="#md8da2b939f" x="238.68" y="433.08"/><use href="#md8da2b939f" x="132.12" y="438.84"/><use href="#md8da2b939f" x="399.96" y="438.84"/><use href="#md8da2b939f" x="71.64" y="435.24"/><use href="#md8da2b939f" x="84.6" y="435.96"/><use href="#md8da2b939f" x="278.28" y="440.28"/><use href="#md8da2b939f" x="246.6" y="432.36"/><use href="#md8da2b939f" x="214.92" y="437.4"/><use href="#md8da2b939f" x="277.56" y="440.28"/><use href="#md8da2b939f" x="283.32" y="434.52"/><use href="#md8da2b939f" x="308.52" y="438.84"/><use href="#md8da2b939f" x="175.32" y="432.36"/><use href="#md8da2b939f" x="227.16" y="433.08"/><use href="#md8da2b939f" x="164.52" y="438.12"/><use href="#md8da2b939f" x="255.24" y="436.68"/><use href="#md8da2b939f" x="421.56" y="435.96"/><use href="#md8da2b939f" x="191.88" y="432.36"/><use href="#md8da2b939f" x="241.56" y="437.4"/><use href="#md8da2b939f" x="315.72" y="431.64"/><use href="#md8da2b939f" x="295.56" y="433.8"/><use href="#md8da2b939f" x="155.88" y="436.68"/><use href="#md8da2b939f" x="147.24" y="430.92"/><use href="#md8da2b939f" x="340.92" y="431.64"/><use href="#md8da2b939f" x="232.92" y="433.8"/><use href="#md8da2b939f" x="304.2" y="442.44"/><use href="#md8da2b939f" x="136.44" y="438.12"/><use href="#md8da2b939f" x="244.44" y="438.12"/><use href="#md8da2b939f" x="178.92" y="433.8"/><use href="#md8da2b939f" x="89.64" y="435.24"/><use href="#md8da2b939f" x="381.96" y="434.52"/><use href="#md8da2b939f" x="90.36" y="442.44"/><use href="#md8da2b939f" x="177.48" y="441"/><use href="#md8da2b939f" x="213.48" y="433.08"/><use href="#md8da2b939f" x="312.84" y="433.8"/><use href="#md8da2b939f" x="207.72" y="441.72"/><use href="#md8da2b939f" x="335.88" y="435.96"/><use href="#md8da2b939f" x="405" y="435.24"/><use href="#md8da2b939f" x="150.84" y="432.36"/><use href="#md8da2b939f" x="338.04" y="435.24"/><use href="#md8da2b939f" x="170.28" y="432.36"/><use href="#md8da2b939f" x="80.28" y="438.84"/><use href="#md8da2b939f" x="204.12" y="436.68"/><use href="#md8da2b939f" x="348.84" y="441.72"/><use href="#md8da2b939f" x="380.52" y="436.68"/><use href="#md8da2b939f" x="369" y="440.28"/><use href="#md8da2b939f" x="206.28" y="438.84"/><use href="#md8da2b939f" x="294.84" y="437.4"/><use href="#md8da2b939f" x="247.32" y="431.64"/><use href="#md8da2b939f" x="368.28" y="442.44"/><use href="#md8da2b939f" x="88.92" y="435.96"/><use href="#md8da2b939f" x="311.4" y="435.96"/><use href="#md8da2b939f" x="325.08" y="438.12"/><use href="#md8da2b939f" x="189.72" y="435.24"/><use href="#md8da2b939f" x="375.48" y="437.4"/><use href="#md8da2b939f" x="240.84" y="435.96"/><use href="#md8da2b939f" x="120.6" y="431.64"/><use href="#md8da2b939f" x="284.76" y="437.4"/><use href="#md8da2b939f" x="115.56" y="441"/><use href="#md8da2b939f" x="78.12" y="441.72"/><use href="#md8da2b939f" x="148.68" y="439.56"/><use href="#md8da2b939f" x="333" y="436.68"/><use href="#md8da2b939f" x="98.28" y="442.44"/><use href="#md8da2b939f" x="227.88" y="440.28"/><use href="#md8da2b939f" x="388.44" y="435.24"/><use href="#md8da2b939f" x="285.48" y="442.44"/><use href="#md8da2b939f" x="74.52" y="435.24"/><use href="#md8da2b939f" x="263.88" y="432.36"/><use href="#md8da2b939f" x="423" y="443.16"/><use href="#md8da2b939f" x="394.2" y="438.84"/><use href="#md8da2b939f" x="165.96" y="433.08"/><use href="#md8da2b939f" x="152.28" y="438.84"/><use href="#md8da2b939f" x="396.36" y="438.12"/><use href="#md8da2b939f" x="134.28" y="435.24"/><use href="#md8da2b939f" x="186.84" y="436.68"/><use href="#md8da2b939f" x="210.6" y="439.56"/><use href="#md8da2b939f" x="86.76" y="436.68"/><use href="#md8da2b939f" x="330.12" y="432.36"/><use href="#md8da2b939f" x="107.64" y="441"/><use href="#md8da2b939f" x="168.12" y="435.96"/><use href="#md8da2b939f" x="326.52" y="435.24"/><use href="#md8da2b939f" x="358.2" y="434.52"/><use href="#md8da2b939f" x="317.16" y="437.4"/><use href="#md8da2b939f" x="316.44" y="435.24"/><use href="#md8da2b939f" x="143.64" y="443.16"/><use href="#md8da2b939f" x="199.8" y="438.84"/><use href="#md8da2b939f" x="97.56" y="441"/><use href="#md8da2b939f" x="111.96" y="441"/><use href="#md8da2b939f" x="75.24" y="438.84"/><use href="#md8da2b939f" x="300.6" y="436.68"/><use href="#md8da2b939f" x="100.44" y="435.96"/><use href="#md8da2b939f" x="250.2" y="435.24"/><use href="#md8da2b939f" x="263.16" y="438.84"/><use href="#md8da2b939f" x="415.8" y="433.8"/><use href="#md8da2b939f" x="257.4" y="436.68"/><use href="#md8da2b939f" x="215.64" y="441.72"/><use href="#md8da2b939f" x="122.04" y="443.16"/><use href="#md8da2b939f" x="387.72" y="438.12"/><use href="#md8da2b939f" x="346.68" y="442.44"/><use href="#md8da2b939f" x="229.32" y="435.96"/><use href="#md8da2b939f" x="77.4" y="438.12"/><use href="#md8da2b939f" x="259.56" y="443.16"/><use href="#md8da2b939f" x="255.96" y="441"/><use href="#md8da2b939f" x="353.16" y="438.84"/><use href="#md8da2b939f" x="207" y="434.52"/><use href="#md8da2b939f" x="419.4" y="438.84"/><use href="#md8da2b939f" x="171" y="435.24"/><use href="#md8da2b939f" x="358.92" y="438.12"/><use href="#md8da2b939f" x="117" y="441.72"/><use href="#md8da2b939f" x="113.4" y="434.52"/></g></g><g id="matplotlib.axis_5"><g id="xtick_13"><g id="line2d_29"><g><use href="#m2cdf71e66a" x="68.04" y="536.76" style="stroke: #000000; stroke-width: 0.8"/></g></g><g id="T_xt2_1" transform="matrix(0.99 0 0 0.94 0.854 32.318)"><!-- 0 --><g transform="translate(64.604943 549.98875) scale(0.1 -0.1)"><use href="#WenQuanYiZenHei-30"/></g></g></g><g id="xtick_14"><g id="line2d_30"><g><use href="#m2cdf71e66a" x="140.04" y="536.76" style="stroke: #000000; stroke-width: 0.8"/></g></g><g id="T_xt2_2" transform="matrix(0.95 0 0 0.96 6.3 21.365)"><!-- 100 --><g transform="translate(130.500376 549.98875) scale(0.1 -0.1)"><use href="#WenQuanYiZenHei-31"/><use href="#WenQuanYiZenHei-30" transform="translate(59.960938 0)"/><use href="#WenQuanYiZenHei-30" transform="translate(119.921875 0)"/></g></g></g><g id="xtick_15"><g id="line2d_31"><g><use href="#m2cdf71e66a" x="212.04" y="536.76" style="stroke: #000000; stroke-width: 0.8"/></g></g><g id="T_xt2_3" transform="matrix(0.9405 0 0 0.9411 12.756 31.719)"><!-- 200 --><g transform="translate(202.392683 549.98875) scale(0.1 -0.1)"><use href="#WenQuanYiZenHei-32"/><use href="#WenQuanYiZenHei-30" transform="translate(59.960938 0)"/><use href="#WenQuanYiZenHei-30" transform="translate(119.921875 0)"/></g></g></g><g id="xtick_16"><g id="line2d_32"><g><use href="#m2cdf71e66a" x="283.32" y="536.76" style="stroke: #000000; stroke-width: 0.8"/></g></g><g id="T_xt2_4" transform="matrix(0.9507 0 0 0.95 14.143 26.842)"><!-- 300 --><g transform="translate(274.28499 549.98875) scale(0.1 -0.1)"><use href="#WenQuanYiZenHei-33"/><use href="#WenQuanYiZenHei-30" transform="translate(59.960938 0)"/><use href="#WenQuanYiZenHei-30" transform="translate(119.921875 0)"/></g></g></g><g id="xtick_17"><g id="line2d_33"><g><use href="#m2cdf71e66a" x="355.32" y="536.76" style="stroke: #000000; stroke-width: 0.8"/></g></g><g id="T_xt2_5" transform="matrix(0.9311 0 0 0.96 24.147 21.365)"><!-- 400 --><g transform="translate(346.177298 549.98875) scale(0.1 -0.1)"><use href="#WenQuanYiZenHei-34"/><use href="#WenQuanYiZenHei-30" transform="translate(59.960938 0)"/><use href="#WenQuanYiZenHei-30" transform="translate(119.921875 0)"/></g></g></g><g id="xtick_18"><g id="line2d_34"><g><use href="#m2cdf71e66a" x="427.32" y="536.76" style="stroke: #000000; stroke-width: 0.8"/></g></g><g id="T_xt2_6" transform="matrix(0.9507 0 0 0.9311 20.719 37.195)"><!-- 500 --><g transform="translate(418.069605 549.98875) scale(0.1 -0.1)"><use href="#WenQuanYiZenHei-35"/><use href="#WenQuanYiZenHei-30" transform="translate(59.960938 0)"/><use href="#WenQuanYiZenHei-30" transform="translate(119.921875 0)"/></g></g></g><g id="T_xl2" transform="matrix(0.98 0 0 1 4.237 0)"><!-- 神经元数量 --><g transform="translate(221.974688 563.715312) scale(0.1 -0.1)"><use href="#WenQuanYiZenHei-795e"/><use href="#WenQuanYiZenHei-7ecf" transform="translate(100 0)"/><use href="#WenQuanYiZenHei-5143" transform="translate(200 0)"/><use href="#WenQuanYiZenHei-6570" transform="translate(300 0)"/><use href="#WenQuanYiZenHei-91cf" transform="translate(400 0)"/></g></g></g><g id="matplotlib.axis_6"><g id="ytick_15"><g id="line2d_35"><g><use href="#m33b7f4ba77" x="50.04" y="536.76" style="stroke: #000000; stroke-width: 0.8"/></g></g><g id="T_yt2_0" transform="matrix(1 0 0 0.89 -0.18 58.874)"><!-- -1.5 --><g transform="translate(24.675625 539.560625) scale(0.1 -0.1)"><use href="#WenQuanYiZenHei-2d"/><use href="#WenQuanYiZenHei-31" transform="translate(29.980469 0)"/><use href="#WenQuanYiZenHei-2e" transform="translate(89.941406 0)"/><use href="#WenQuanYiZenHei-35" transform="translate(119.921875 0)"/></g></g></g><g id="ytick_16"><g id="line2d_36"><g><use href="#m33b7f4ba77" x="50.04" y="503.64" style="stroke: #000000; stroke-width: 0.8"/></g></g><g id="T_yt2_1" transform="matrix(1 0 0 0.98 -0.18 9.901)"><!-- -1.0 --><g transform="translate(24.675625 506.573021) scale(0.1 -0.1)"><use href="#WenQuanYiZenHei-2d"/><use href="#WenQuanYiZenHei-31" transform="translate(29.980469 0)"/><use href="#WenQuanYiZenHei-2e" transform="translate(89.941406 0)"/><use href="#WenQuanYiZenHei-30" transform="translate(119.921875 0)"/></g></g></g><g id="ytick_17"><g id="line2d_37"><g><use href="#m33b7f4ba77" x="50.04" y="470.52" style="stroke: #000000; stroke-width: 0.8"/></g></g><g id="T_yt2_2" transform="matrix(0.99 0 0 0.9411 0.159 27.399)"><!-- -0.5 --><g transform="translate(24.675625 473.585417) scale(0.1 -0.1)"><use href="#WenQuanYiZenHei-2d"/><use href="#WenQuanYiZenHei-30" transform="translate(29.980469 0)"/><use href="#WenQuanYiZenHei-2e" transform="translate(89.941406 0)"/><use href="#WenQuanYiZenHei-35" transform="translate(119.921875 0)"/></g></g></g><g id="ytick_18"><g id="line2d_38"><g><use href="#m33b7f4ba77" x="50.04" y="437.4" style="stroke: #000000; stroke-width: 0.8"/></g></g><g id="T_yt2_3" transform="matrix(0.9311 0 0 0.91 2.437 39.59)"><!-- 0.0 --><g transform="translate(27.674063 440.597812) scale(0.1 -0.1)"><use href="#WenQuanYiZenHei-30"/><use href="#WenQuanYiZenHei-2e" transform="translate(59.960938 0)"/><use href="#WenQuanYiZenHei-30" transform="translate(89.941406 0)"/></g></g></g><g id="ytick_19"><g id="line2d_39"><g><use href="#m33b7f4ba77" x="50.04" y="404.28" style="stroke: #000000; stroke-width: 0.8"/></g></g><g id="T_yt2_4" transform="matrix(0.9217 0 0 0.97 2.747 12.147)"><!-- 0.5 --><g transform="translate(27.674063 407.610208) scale(0.1 -0.1)"><use href="#WenQuanYiZenHei-30"/><use href="#WenQuanYiZenHei-2e" transform="translate(59.960938 0)"/><use href="#WenQuanYiZenHei-35" transform="translate(89.941406 0)"/></g></g></g><g id="ytick_20"><g id="line2d_40"><g><use href="#m33b7f4ba77" x="50.04" y="371.88" style="stroke: #000000; stroke-width: 0.8"/></g></g><g id="T_yt2_5" transform="matrix(0.931 0 0 0.9801 2.437 7.401)"><!-- 1.0 --><g transform="translate(27.674063 374.622604) scale(0.1 -0.1)"><use href="#WenQuanYiZenHei-31"/><use href="#WenQuanYiZenHei-2e" transform="translate(59.960938 0)"/><use href="#WenQuanYiZenHei-30" transform="translate(89.941406 0)"/></g></g></g><g id="ytick_21"><g id="line2d_41"><g><use href="#m33b7f4ba77" x="50.04" y="338.76" style="stroke: #000000; stroke-width: 0.8"/></g></g><g id="T_yt2_6" transform="matrix(0.9311 0 0 0.89 1.761 36.922)"><!-- 1.5 --><g transform="translate(27.674063 341.635) scale(0.1 -0.1)"><use href="#WenQuanYiZenHei-31"/><use href="#WenQuanYiZenHei-2e" transform="translate(59.960938 0)"/><use href="#WenQuanYiZenHei-35" transform="translate(89.941406 0)"/></g></g></g><g id="T_yl2" transform="matrix(1 0 0 0.97 -0.36 13.633)"><!-- 权重数值 --><g transform="translate(19.014688 457.169687) rotate(-90) scale(0.1 -0.1)"><use href="#WenQuanYiZenHei-6743"/><use href="#WenQuanYiZenHei-91cd" transform="translate(100 0)"/><use href="#WenQuanYiZenHei-6570" transform="translate(200 0)"/><use href="#WenQuanYiZenHei-503c" transform="translate(300 0)"/></g></g></g><g id="line2d_42"><path d="M 49.68 437.04 L 444.24 437.04" clip-path="url(#p43a01c188c)" style="fill: none; stroke-dasharray: 5.55,2.4; stroke-dashoffset: 0; stroke: #000000; stroke-opacity: 0.3; stroke-width: 1.5"/></g><g id="patch_15"><path d="M 50.04 536.76 L 50.04 338.76" style="fill: none; stroke: #000000; stroke-width: 0.8; stroke-linejoin: miter; stroke-linecap: square"/></g><g id="patch_16"><path d="M 444.6 536.76 L 444.6 338.76" style="fill: none; stroke: #000000; stroke-width: 0.8; stroke-linejoin: miter; stroke-linecap: square"/></g><g id="patch_17"><path d="M 50.04 536.76 L 444.6 536.76" style="fill: none; stroke: #000000; stroke-width: 0.8; stroke-linejoin: miter; stroke-linecap: square"/></g><g id="patch_18"><path d="M 50.04 338.76 L 444.6 338.76" style="fill: none; stroke: #000000; stroke-width: 0.8; stroke-linejoin: miter; stroke-linecap: square"/></g><g id="T_f2_0"><g id="patch_19"><path d="M 61.5 368.01 L 142.68 368.01 Q 145.98 368.01 145.98 364.71 L 145.98 354.04 Q 145.98 350.74 142.68 350.74 L 61.5 350.74 Q 58.2 350.74 58.2 354.04 L 58.2 364.71 Q 58.2 368.01 61.5 368.01 z" style="fill: #ffffff; opacity: 0.85"/></g><!-- $W \sim \mathcal{N}(0, 2/n_{in})$ --><g transform="matrix(0.99 0 0 1.0403 1.022 -13.786) translate(61.504756 362.840925) scale(0.11 -0.11)"><use href="#DejaVuSans-Oblique-57" transform="translate(0 0.5)"/><use href="#DejaVuSans-223c" transform="translate(118.359375 0.5)"/><use href="#STIXNonUnicode-Italic-e23a" transform="translate(221.630859 0.5)"/><use href="#DejaVuSans-28" transform="translate(317.330841 0.5)"/><use href="#DejaVuSans-30" transform="translate(356.344513 0.5)"/><use href="#DejaVuSans-2c" transform="translate(419.96756 0.5)"/><use href="#DejaVuSans-32" transform="translate(471.237091 0.5)"/><use href="#DejaVuSans-2f" transform="translate(534.860138 0.5)"/><use href="#DejaVuSans-Oblique-6e" transform="translate(568.551544 0.5)"/><use href="#DejaVuSans-Oblique-69" transform="translate(631.93045 -15.90625) scale(0.7)"/><use href="#DejaVuSans-Oblique-6e" transform="translate(651.378693 -15.90625) scale(0.7)"/><use href="#DejaVuSans-29" transform="translate(698.478302 0.5)"/></g></g><g id="T_title2" transform="matrix(1 0 0 1 0.36 -0.54)"><!-- He (适合ReLU) --><g transform="translate(205.402109 332.206875) scale(0.13 -0.13)"><defs><path id="WenQuanYiZenHei-48" d="M 3656 0 L 3106 0 L 3106 2088 L 1069 2088 L 1069 0 L 519 0 L 519 4388 L 1069 4388 L 1069 2569 L 3106 2569 L 3106 4388 L 3656 4388 L 3656 0 z" transform="scale(0.015625)"/><path id="WenQuanYiZenHei-52" d="M 3675 0 L 3100 0 L 2288 1900 L 1069 1900 L 1069 0 L 519 0 L 519 4388 L 2163 4388 Q 3006 4388 3400 3900 Q 3581 3663 3625 3325 Q 3631 3250 3631 3163 Q 3631 2594 3219 2244 Q 3038 2100 2813 2038 L 3675 0 z M 3081 3169 Q 3081 3825 2356 3906 Q 2263 3919 2163 3919 L 1069 3919 L 1069 2350 L 2100 2350 Q 2906 2350 3044 2919 Q 3081 3031 3081 3169 z" transform="scale(0.015625)"/><path id="WenQuanYiZenHei-4c" d="M 3131 0 L 538 0 L 538 4388 L 1088 4388 L 1088 488 L 3131 488 L 3131 0 z" transform="scale(0.015625)"/><path id="WenQuanYiZenHei-55" d="M 3544 1613 Q 3544 919 3338 569 Q 3281 494 3225 425 Q 2819 -63 2044 -63 Q 944 -63 644 731 Q 519 1075 519 1613 L 519 4388 L 1069 4388 L 1069 1613 Q 1069 869 1363 619 Q 1600 425 2088 425 Q 2869 425 3031 1088 Q 3088 1306 3088 1613 L 3088 4388 L 3544 4388 L 3544 1613 z" transform="scale(0.015625)"/></defs><use href="#WenQuanYiZenHei-48"/><use href="#WenQuanYiZenHei-65" transform="translate(65.917969 0)"/><use href="#WenQuanYiZenHei-20" transform="translate(119.824219 0)"/><use href="#WenQuanYiZenHei-28" transform="translate(149.804688 0)"/><use href="#WenQuanYiZenHei-9002" transform="translate(179.785156 0)"/><use href="#WenQuanYiZenHei-5408" transform="translate(279.785156 0)"/><use href="#WenQuanYiZenHei-52" transform="translate(379.785156 0)"/><use href="#WenQuanYiZenHei-65" transform="translate(441.699219 0)"/><use href="#WenQuanYiZenHei-4c" transform="translate(495.605469 0)"/><use href="#WenQuanYiZenHei-55" transform="translate(545.605469 0)"/><use href="#WenQuanYiZenHei-29" transform="translate(609.570312 0)"/></g></g></g><g id="axes_4"><g id="patch_20"><path d="M 458.58 536.13 L 853.2 536.13 L 853.2 338.21 L 458.58 338.21 z" style="fill: #ffffff"/></g><g id="PathCollection_4" style="fill: #e74c3c; fill-opacity: 0.6; stroke: #e74c3c; stroke-opacity: 0.6"><defs><path id="m1896fcb78d" d="M 0 1.94 C 0.51 1.94 1.01 1.73 1.37 1.37 C 1.73 1.01 1.94 0.51 1.94 0 C 1.94 -0.51 1.73 -1.01 1.37 -1.37 C 1.01 -1.73 0.51 -1.94 0 -1.94 C -0.51 -1.94 -1.01 -1.73 -1.37 -1.37 C -1.73 -1.01 -1.94 -0.51 -1.94 0 C -1.94 0.51 -1.73 1.01 -1.37 1.37 C -1.01 1.73 -0.51 1.94 0 1.94 z" style="stroke: #e74c3c; stroke-opacity: 0.6"/></defs><g clip-path="url(#p8dc95fa0b8)"><use href="#m1896fcb78d" x="499.32" y="344.52"/><use href="#m1896fcb78d" x="540.36" y="347.4"/><use href="#m1896fcb78d" x="563.4" y="348.84"/><use href="#m1896fcb78d" x="561.24" y="351.72"/><use href="#m1896fcb78d" x="568.44" y="355.32"/><use href="#m1896fcb78d" x="553.32" y="356.76"/><use href="#m1896fcb78d" x="550.44" y="367.56"/><use href="#m1896fcb78d" x="522.36" y="371.16"/><use href="#m1896fcb78d" x="525.24" y="373.32"/><use href="#m1896fcb78d" x="513" y="380.52"/><use href="#m1896fcb78d" x="535.32" y="380.52"/><use href="#m1896fcb78d" x="495" y="387.72"/><use href="#m1896fcb78d" x="523.08" y="386.28"/><use href="#m1896fcb78d" x="500.04" y="392.76"/><use href="#m1896fcb78d" x="513.72" y="394.2"/><use href="#m1896fcb78d" x="516.6" y="392.76"/><use href="#m1896fcb78d" x="515.88" y="396.36"/><use href="#m1896fcb78d" x="487.8" y="398.52"/><use href="#m1896fcb78d" x="510.12" y="398.52"/><use href="#m1896fcb78d" x="520.2" y="399.24"/><use href="#m1896fcb78d" x="526.68" y="399.96"/><use href="#m1896fcb78d" x="532.44" y="398.52"/><use href="#m1896fcb78d" x="538.2" y="394.2"/><use href="#m1896fcb78d" x="546.84" y="391.32"/><use href="#m1896fcb78d" x="549.72" y="393.48"/><use href="#m1896fcb78d" x="551.88" y="392.04"/><use href="#m1896fcb78d" x="533.16" y="403.56"/><use href="#m1896fcb78d" x="528.12" y="405.72"/><use href="#m1896fcb78d" x="543.96" y="404.28"/><use href="#m1896fcb78d" x="551.16" y="402.12"/><use href="#m1896fcb78d" x="561.96" y="407.88"/><use href="#m1896fcb78d" x="477" y="413.64"/><use href="#m1896fcb78d" x="538.92" y="417.24"/><use href="#m1896fcb78d" x="494.28" y="420.12"/><use href="#m1896fcb78d" x="490.68" y="422.28"/><use href="#m1896fcb78d" x="507.96" y="420.84"/><use href="#m1896fcb78d" x="505.8" y="423.72"/><use href="#m1896fcb78d" x="567.72" y="420.12"/><use href="#m1896fcb78d" x="487.08" y="429.48"/><use href="#m1896fcb78d" x="491.4" y="428.76"/><use href="#m1896fcb78d" x="497.16" y="433.08"/><use href="#m1896fcb78d" x="505.08" y="430.2"/><use href="#m1896fcb78d" x="543.24" y="430.92"/><use href="#m1896fcb78d" x="562.68" y="431.64"/><use href="#m1896fcb78d" x="567.72" y="431.64"/><use href="#m1896fcb78d" x="479.16" y="435.96"/><use href="#m1896fcb78d" x="482.04" y="435.96"/><use href="#m1896fcb78d" x="484.92" y="436.68"/><use href="#m1896fcb78d" x="508.68" y="435.24"/><use href="#m1896fcb78d" x="554.76" y="435.24"/><use href="#m1896fcb78d" x="485.64" y="441"/><use href="#m1896fcb78d" x="530.28" y="440.28"/><use href="#m1896fcb78d" x="539.64" y="438.12"/><use href="#m1896fcb78d" x="544.68" y="444.6"/><use href="#m1896fcb78d" x="542.52" y="446.76"/><use href="#m1896fcb78d" x="502.92" y="446.76"/><use href="#m1896fcb78d" x="502.2" y="451.8"/><use href="#m1896fcb78d" x="506.52" y="453.24"/><use href="#m1896fcb78d" x="520.92" y="453.24"/><use href="#m1896fcb78d" x="564.84" y="453.24"/><use href="#m1896fcb78d" x="486.36" y="459"/><use href="#m1896fcb78d" x="503.64" y="458.28"/><use href="#m1896fcb78d" x="497.88" y="461.16"/><use href="#m1896fcb78d" x="501.48" y="463.32"/><use href="#m1896fcb78d" x="555.48" y="459"/><use href="#m1896fcb78d" x="554.04" y="461.88"/><use href="#m1896fcb78d" x="541.8" y="465.48"/><use href="#m1896fcb78d" x="531.72" y="469.08"/><use href="#m1896fcb78d" x="548.28" y="469.8"/><use href="#m1896fcb78d" x="558.36" y="468.36"/><use href="#m1896fcb78d" x="483.48" y="472.68"/><use href="#m1896fcb78d" x="510.84" y="474.84"/><use href="#m1896fcb78d" x="521.64" y="471.24"/><use href="#m1896fcb78d" x="514.44" y="478.44"/><use href="#m1896fcb78d" x="546.12" y="475.56"/><use href="#m1896fcb78d" x="492.12" y="482.04"/><use href="#m1896fcb78d" x="489.24" y="484.92"/><use href="#m1896fcb78d" x="495.72" y="483.48"/><use href="#m1896fcb78d" x="500.76" y="481.32"/><use href="#m1896fcb78d" x="534.6" y="487.8"/><use href="#m1896fcb78d" x="529.56" y="492.84"/><use href="#m1896fcb78d" x="545.4" y="490.68"/><use href="#m1896fcb78d" x="559.08" y="487.8"/><use href="#m1896fcb78d" x="560.52" y="489.96"/><use href="#m1896fcb78d" x="478.44" y="494.28"/><use href="#m1896fcb78d" x="492.84" y="498.6"/><use href="#m1896fcb78d" x="509.4" y="500.76"/><use href="#m1896fcb78d" x="536.76" y="497.16"/><use href="#m1896fcb78d" x="489.96" y="510.84"/><use href="#m1896fcb78d" x="512.28" y="510.12"/><use href="#m1896fcb78d" x="519.48" y="513.72"/><use href="#m1896fcb78d" x="528.84" y="513.72"/><use href="#m1896fcb78d" x="531" y="515.16"/><use href="#m1896fcb78d" x="556.92" y="512.28"/><use href="#m1896fcb78d" x="488.52" y="520.2"/><use href="#m1896fcb78d" x="552.6" y="526.68"/><use href="#m1896fcb78d" x="566.28" y="524.52"/><use href="#m1896fcb78d" x="568.44" y="529.56"/><use href="#m1896fcb78d" x="557.64" y="533.88"/><use href="#m1896fcb78d" x="580.68" y="340.92"/><use href="#m1896fcb78d" x="587.16" y="340.92"/><use href="#m1896fcb78d" x="618.84" y="340.2"/><use href="#m1896fcb78d" x="631.8" y="346.68"/><use href="#m1896fcb78d" x="582.12" y="351"/><use href="#m1896fcb78d" x="615.96" y="350.28"/><use href="#m1896fcb78d" x="621" y="348.84"/><use href="#m1896fcb78d" x="626.04" y="358.2"/><use href="#m1896fcb78d" x="642.6" y="365.4"/><use href="#m1896fcb78d" x="605.88" y="369"/><use href="#m1896fcb78d" x="621.72" y="371.16"/><use href="#m1896fcb78d" x="610.2" y="376.92"/><use href="#m1896fcb78d" x="613.08" y="382.68"/><use href="#m1896fcb78d" x="592.2" y="383.4"/><use href="#m1896fcb78d" x="624.6" y="384.84"/><use href="#m1896fcb78d" x="630.36" y="384.84"/><use href="#m1896fcb78d" x="634.68" y="385.56"/><use href="#m1896fcb78d" x="641.16" y="382.68"/><use href="#m1896fcb78d" x="639" y="388.44"/><use href="#m1896fcb78d" x="573.48" y="394.2"/><use href="#m1896fcb78d" x="571.32" y="397.8"/><use href="#m1896fcb78d" x="597.96" y="397.8"/><use href="#m1896fcb78d" x="632.52" y="396.36"/><use href="#m1896fcb78d" x="646.92" y="395.64"/><use href="#m1896fcb78d" x="649.08" y="397.08"/><use href="#m1896fcb78d" x="658.44" y="399.24"/><use href="#m1896fcb78d" x="605.16" y="402.84"/><use href="#m1896fcb78d" x="612.36" y="401.4"/><use href="#m1896fcb78d" x="640.44" y="402.12"/><use href="#m1896fcb78d" x="644.76" y="402.12"/><use href="#m1896fcb78d" x="618.12" y="406.44"/><use href="#m1896fcb78d" x="629.64" y="409.32"/><use href="#m1896fcb78d" x="595.08" y="409.32"/><use href="#m1896fcb78d" x="582.84" y="411.48"/><use href="#m1896fcb78d" x="572.04" y="415.08"/><use href="#m1896fcb78d" x="607.32" y="417.96"/><use href="#m1896fcb78d" x="614.52" y="420.84"/><use href="#m1896fcb78d" x="627.48" y="416.52"/><use href="#m1896fcb78d" x="633.96" y="417.24"/><use href="#m1896fcb78d" x="636.84" y="415.08"/><use href="#m1896fcb78d" x="638.28" y="416.52"/><use href="#m1896fcb78d" x="652.68" y="414.36"/><use href="#m1896fcb78d" x="626.76" y="423"/><use href="#m1896fcb78d" x="625.32" y="425.88"/><use href="#m1896fcb78d" x="635.4" y="427.32"/><use href="#m1896fcb78d" x="631.08" y="430.92"/><use href="#m1896fcb78d" x="641.88" y="432.36"/><use href="#m1896fcb78d" x="637.56" y="434.52"/><use href="#m1896fcb78d" x="654.84" y="430.2"/><use href="#m1896fcb78d" x="662.76" y="425.88"/><use href="#m1896fcb78d" x="593.64" y="433.08"/><use href="#m1896fcb78d" x="603" y="433.08"/><use href="#m1896fcb78d" x="646.2" y="438.12"/><use href="#m1896fcb78d" x="643.32" y="440.28"/><use href="#m1896fcb78d" x="651.24" y="435.96"/><use href="#m1896fcb78d" x="653.4" y="436.68"/><use href="#m1896fcb78d" x="659.16" y="440.28"/><use href="#m1896fcb78d" x="586.44" y="442.44"/><use href="#m1896fcb78d" x="600.12" y="443.16"/><use href="#m1896fcb78d" x="613.8" y="446.76"/><use href="#m1896fcb78d" x="620.28" y="448.2"/><use href="#m1896fcb78d" x="619.56" y="450.36"/><use href="#m1896fcb78d" x="622.44" y="451.08"/><use href="#m1896fcb78d" x="644.04" y="448.2"/><use href="#m1896fcb78d" x="575.64" y="451.08"/><use href="#m1896fcb78d" x="589.32" y="453.96"/><use href="#m1896fcb78d" x="600.84" y="453.96"/><use href="#m1896fcb78d" x="604.44" y="451.08"/><use href="#m1896fcb78d" x="581.4" y="456.84"/><use href="#m1896fcb78d" x="576.36" y="458.28"/><use href="#m1896fcb78d" x="578.52" y="460.44"/><use href="#m1896fcb78d" x="606.6" y="456.84"/><use href="#m1896fcb78d" x="648.36" y="457.56"/><use href="#m1896fcb78d" x="585.72" y="466.2"/><use href="#m1896fcb78d" x="601.56" y="466.92"/><use href="#m1896fcb78d" x="645.48" y="466.92"/><use href="#m1896fcb78d" x="577.8" y="471.24"/><use href="#m1896fcb78d" x="582.84" y="470.52"/><use href="#m1896fcb78d" x="585" y="471.24"/><use href="#m1896fcb78d" x="588.6" y="479.16"/><use href="#m1896fcb78d" x="574.2" y="482.04"/><use href="#m1896fcb78d" x="577.08" y="487.08"/><use href="#m1896fcb78d" x="594.36" y="477"/><use href="#m1896fcb78d" x="595.8" y="475.56"/><use href="#m1896fcb78d" x="598.68" y="475.56"/><use href="#m1896fcb78d" x="599.4" y="477.72"/><use href="#m1896fcb78d" x="609.48" y="479.88"/><use href="#m1896fcb78d" x="608.04" y="482.04"/><use href="#m1896fcb78d" x="608.76" y="484.2"/><use href="#m1896fcb78d" x="602.28" y="486.36"/><use href="#m1896fcb78d" x="603.72" y="487.8"/><use href="#m1896fcb78d" x="591.48" y="491.4"/><use href="#m1896fcb78d" x="610.92" y="497.88"/><use href="#m1896fcb78d" x="615.24" y="499.32"/><use href="#m1896fcb78d" x="628.92" y="486.36"/><use href="#m1896fcb78d" x="628.2" y="496.44"/><use href="#m1896fcb78d" x="637.56" y="499.32"/><use href="#m1896fcb78d" x="650.52" y="478.44"/><use href="#m1896fcb78d" x="654.12" y="477.72"/><use href="#m1896fcb78d" x="660.6" y="477.72"/><use href="#m1896fcb78d" x="664.2" y="481.32"/><use href="#m1896fcb78d" x="661.32" y="486.36"/><use href="#m1896fcb78d" x="656.28" y="488.52"/><use href="#m1896fcb78d" x="664.2" y="501.48"/><use href="#m1896fcb78d" x="651.96" y="504.36"/><use href="#m1896fcb78d" x="662.04" y="510.12"/><use href="#m1896fcb78d" x="579.96" y="507.96"/><use href="#m1896fcb78d" x="649.8" y="517.32"/><use href="#m1896fcb78d" x="655.56" y="521.64"/><use href="#m1896fcb78d" x="590.76" y="519.48"/><use href="#m1896fcb78d" x="597.24" y="520.92"/><use href="#m1896fcb78d" x="616.68" y="523.8"/><use href="#m1896fcb78d" x="587.88" y="528.84"/><use href="#m1896fcb78d" x="584.28" y="533.88"/><use href="#m1896fcb78d" x="695.16" y="349.56"/><use href="#m1896fcb78d" x="690.12" y="355.32"/><use href="#m1896fcb78d" x="695.88" y="363.24"/><use href="#m1896fcb78d" x="720.36" y="348.12"/><use href="#m1896fcb78d" x="724.68" y="353.16"/><use href="#m1896fcb78d" x="724.68" y="353.16"/><use href="#m1896fcb78d" x="739.8" y="356.76"/><use href="#m1896fcb78d" x="753.48" y="358.92"/><use href="#m1896fcb78d" x="759.24" y="360.36"/><use href="#m1896fcb78d" x="711" y="369"/><use href="#m1896fcb78d" x="703.8" y="372.6"/><use href="#m1896fcb78d" x="718.92" y="380.52"/><use href="#m1896fcb78d" x="744.84" y="376.2"/><use href="#m1896fcb78d" x="745.56" y="384.12"/><use href="#m1896fcb78d" x="710.28" y="391.32"/><use href="#m1896fcb78d" x="717.48" y="391.32"/><use href="#m1896fcb78d" x="708.12" y="396.36"/><use href="#m1896fcb78d" x="711.72" y="398.52"/><use href="#m1896fcb78d" x="722.52" y="395.64"/><use href="#m1896fcb78d" x="699.48" y="400.68"/><use href="#m1896fcb78d" x="731.16" y="401.4"/><use href="#m1896fcb78d" x="757.08" y="395.64"/><use href="#m1896fcb78d" x="760.68" y="399.96"/><use href="#m1896fcb78d" x="761.4" y="402.84"/><use href="#m1896fcb78d" x="682.2" y="404.28"/><use href="#m1896fcb78d" x="667.8" y="409.32"/><use href="#m1896fcb78d" x="676.44" y="410.04"/><use href="#m1896fcb78d" x="672.12" y="415.08"/><use href="#m1896fcb78d" x="715.32" y="407.16"/><use href="#m1896fcb78d" x="682.92" y="418.68"/><use href="#m1896fcb78d" x="687.96" y="418.68"/><use href="#m1896fcb78d" x="687.24" y="422.28"/><use href="#m1896fcb78d" x="690.84" y="422.28"/><use href="#m1896fcb78d" x="675" y="423"/><use href="#m1896fcb78d" x="673.56" y="428.76"/><use href="#m1896fcb78d" x="703.08" y="415.8"/><use href="#m1896fcb78d" x="705.24" y="420.12"/><use href="#m1896fcb78d" x="707.4" y="420.12"/><use href="#m1896fcb78d" x="754.2" y="412.92"/><use href="#m1896fcb78d" x="748.44" y="419.4"/><use href="#m1896fcb78d" x="751.32" y="421.56"/><use href="#m1896fcb78d" x="741.24" y="424.44"/><use href="#m1896fcb78d" x="740.52" y="425.88"/><use href="#m1896fcb78d" x="749.88" y="430.2"/><use href="#m1896fcb78d" x="728.28" y="430.92"/><use href="#m1896fcb78d" x="723.96" y="433.08"/><use href="#m1896fcb78d" x="702.36" y="435.24"/><use href="#m1896fcb78d" x="681.48" y="436.68"/><use href="#m1896fcb78d" x="689.4" y="436.68"/><use href="#m1896fcb78d" x="697.32" y="437.4"/><use href="#m1896fcb78d" x="667.08" y="438.84"/><use href="#m1896fcb78d" x="669.24" y="441"/><use href="#m1896fcb78d" x="669.96" y="442.44"/><use href="#m1896fcb78d" x="692.28" y="441"/><use href="#m1896fcb78d" x="694.44" y="443.16"/><use href="#m1896fcb78d" x="696.6" y="445.32"/><use href="#m1896fcb78d" x="672.84" y="447.48"/><use href="#m1896fcb78d" x="667.08" y="448.2"/><use href="#m1896fcb78d" x="734.04" y="436.68"/><use href="#m1896fcb78d" x="736.2" y="439.56"/><use href="#m1896fcb78d" x="747.72" y="437.4"/><use href="#m1896fcb78d" x="726.84" y="443.88"/><use href="#m1896fcb78d" x="680.76" y="453.96"/><use href="#m1896fcb78d" x="688.68" y="453.24"/><use href="#m1896fcb78d" x="706.68" y="453.24"/><use href="#m1896fcb78d" x="698.76" y="457.56"/><use href="#m1896fcb78d" x="677.88" y="461.88"/><use href="#m1896fcb78d" x="723.24" y="452.52"/><use href="#m1896fcb78d" x="716.04" y="458.28"/><use href="#m1896fcb78d" x="713.88" y="460.44"/><use href="#m1896fcb78d" x="712.44" y="462.6"/><use href="#m1896fcb78d" x="721.8" y="461.16"/><use href="#m1896fcb78d" x="726.12" y="458.28"/><use href="#m1896fcb78d" x="741.96" y="450.36"/><use href="#m1896fcb78d" x="749.16" y="448.2"/><use href="#m1896fcb78d" x="738.36" y="461.88"/><use href="#m1896fcb78d" x="756.36" y="464.76"/><use href="#m1896fcb78d" x="718.2" y="467.64"/><use href="#m1896fcb78d" x="746.28" y="467.64"/><use href="#m1896fcb78d" x="719.64" y="471.24"/><use href="#m1896fcb78d" x="716.76" y="474.12"/><use href="#m1896fcb78d" x="721.08" y="474.84"/><use href="#m1896fcb78d" x="708.84" y="472.68"/><use href="#m1896fcb78d" x="693.72" y="474.12"/><use href="#m1896fcb78d" x="731.88" y="471.96"/><use href="#m1896fcb78d" x="680.04" y="481.32"/><use href="#m1896fcb78d" x="674.28" y="488.52"/><use href="#m1896fcb78d" x="669.24" y="492.12"/><use href="#m1896fcb78d" x="670.68" y="492.84"/><use href="#m1896fcb78d" x="679.32" y="497.16"/><use href="#m1896fcb78d" x="709.56" y="489.96"/><use href="#m1896fcb78d" x="705.96" y="495"/><use href="#m1896fcb78d" x="704.52" y="498.6"/><use href="#m1896fcb78d" x="713.16" y="500.04"/><use href="#m1896fcb78d" x="698.04" y="502.92"/><use href="#m1896fcb78d" x="683.64" y="505.8"/><use href="#m1896fcb78d" x="675.72" y="510.12"/><use href="#m1896fcb78d" x="678.6" y="512.28"/><use href="#m1896fcb78d" x="684.36" y="520.92"/><use href="#m1896fcb78d" x="686.52" y="523.8"/><use href="#m1896fcb78d" x="693" y="528.12"/><use href="#m1896fcb78d" x="701.64" y="525.24"/><use href="#m1896fcb78d" x="685.08" y="531"/><use href="#m1896fcb78d" x="671.4" y="534.6"/><use href="#m1896fcb78d" x="714.6" y="534.6"/><use href="#m1896fcb78d" x="726.84" y="505.8"/><use href="#m1896fcb78d" x="729" y="505.08"/><use href="#m1896fcb78d" x="730.44" y="509.4"/><use href="#m1896fcb78d" x="734.04" y="510.84"/><use href="#m1896fcb78d" x="742.68" y="507.96"/><use href="#m1896fcb78d" x="750.6" y="510.84"/><use href="#m1896fcb78d" x="733.32" y="518.76"/><use href="#m1896fcb78d" x="743.4" y="519.48"/><use href="#m1896fcb78d" x="739.08" y="526.68"/><use href="#m1896fcb78d" x="757.8" y="516.6"/><use href="#m1896fcb78d" x="752.76" y="488.52"/><use href="#m1896fcb78d" x="747" y="492.84"/><use href="#m1896fcb78d" x="758.52" y="495"/><use href="#m1896fcb78d" x="780.12" y="339.48"/><use href="#m1896fcb78d" x="783.72" y="338.76"/><use href="#m1896fcb78d" x="765.72" y="351.72"/><use href="#m1896fcb78d" x="767.88" y="353.88"/><use href="#m1896fcb78d" x="763.56" y="357.48"/><use href="#m1896fcb78d" x="765" y="367.56"/><use href="#m1896fcb78d" x="774.36" y="364.68"/><use href="#m1896fcb78d" x="784.44" y="352.44"/><use href="#m1896fcb78d" x="795.24" y="353.16"/><use href="#m1896fcb78d" x="797.4" y="355.32"/><use href="#m1896fcb78d" x="802.44" y="354.6"/><use href="#m1896fcb78d" x="813.24" y="356.76"/><use href="#m1896fcb78d" x="830.52" y="348.12"/><use href="#m1896fcb78d" x="819" y="364.68"/><use href="#m1896fcb78d" x="832.68" y="366.84"/><use href="#m1896fcb78d" x="829.8" y="371.88"/><use href="#m1896fcb78d" x="820.44" y="375.48"/><use href="#m1896fcb78d" x="821.88" y="378.36"/><use href="#m1896fcb78d" x="829.08" y="380.52"/><use href="#m1896fcb78d" x="834.12" y="388.44"/><use href="#m1896fcb78d" x="791.64" y="370.44"/><use href="#m1896fcb78d" x="771.48" y="376.92"/><use href="#m1896fcb78d" x="798.84" y="387.72"/><use href="#m1896fcb78d" x="793.8" y="394.2"/><use href="#m1896fcb78d" x="803.16" y="398.52"/><use href="#m1896fcb78d" x="764.28" y="413.64"/><use href="#m1896fcb78d" x="766.44" y="415.08"/><use href="#m1896fcb78d" x="816.84" y="406.44"/><use href="#m1896fcb78d" x="821.16" y="412.2"/><use href="#m1896fcb78d" x="823.32" y="411.48"/><use href="#m1896fcb78d" x="793.08" y="410.76"/><use href="#m1896fcb78d" x="788.04" y="414.36"/><use href="#m1896fcb78d" x="778.68" y="424.44"/><use href="#m1896fcb78d" x="780.84" y="423"/><use href="#m1896fcb78d" x="768.6" y="428.76"/><use href="#m1896fcb78d" x="775.08" y="429.48"/><use href="#m1896fcb78d" x="776.52" y="431.64"/><use href="#m1896fcb78d" x="777.96" y="435.24"/><use href="#m1896fcb78d" x="801.72" y="429.48"/><use href="#m1896fcb78d" x="800.28" y="433.08"/><use href="#m1896fcb78d" x="807.48" y="424.44"/><use href="#m1896fcb78d" x="817.56" y="426.6"/><use href="#m1896fcb78d" x="822.6" y="427.32"/><use href="#m1896fcb78d" x="824.76" y="424.44"/><use href="#m1896fcb78d" x="813.96" y="432.36"/><use href="#m1896fcb78d" x="816.12" y="435.24"/><use href="#m1896fcb78d" x="834.84" y="430.2"/><use href="#m1896fcb78d" x="831.24" y="441.72"/><use href="#m1896fcb78d" x="782.28" y="446.04"/><use href="#m1896fcb78d" x="786.6" y="448.2"/><use href="#m1896fcb78d" x="788.76" y="443.88"/><use href="#m1896fcb78d" x="790.2" y="448.92"/><use href="#m1896fcb78d" x="792.36" y="448.92"/><use href="#m1896fcb78d" x="799.56" y="445.32"/><use href="#m1896fcb78d" x="808.2" y="451.08"/><use href="#m1896fcb78d" x="815.4" y="452.52"/><use href="#m1896fcb78d" x="826.2" y="449.64"/><use href="#m1896fcb78d" x="769.32" y="459"/><use href="#m1896fcb78d" x="777.24" y="456.12"/><use href="#m1896fcb78d" x="779.4" y="458.28"/><use href="#m1896fcb78d" x="806.04" y="461.88"/><use href="#m1896fcb78d" x="806.76" y="462.6"/><use href="#m1896fcb78d" x="775.8" y="474.12"/><use href="#m1896fcb78d" x="785.16" y="471.96"/><use href="#m1896fcb78d" x="785.88" y="477.72"/><use href="#m1896fcb78d" x="790.92" y="479.88"/><use href="#m1896fcb78d" x="770.76" y="481.32"/><use href="#m1896fcb78d" x="783" y="483.48"/><use href="#m1896fcb78d" x="767.16" y="487.08"/><use href="#m1896fcb78d" x="794.52" y="486.36"/><use href="#m1896fcb78d" x="811.08" y="474.12"/><use href="#m1896fcb78d" x="811.08" y="474.12"/><use href="#m1896fcb78d" x="824.04" y="474.12"/><use href="#m1896fcb78d" x="825.48" y="483.48"/><use href="#m1896fcb78d" x="826.92" y="484.2"/><use href="#m1896fcb78d" x="808.92" y="487.08"/><use href="#m1896fcb78d" x="833.4" y="494.28"/><use href="#m1896fcb78d" x="804.6" y="499.32"/><use href="#m1896fcb78d" x="801" y="503.64"/><use href="#m1896fcb78d" x="819.72" y="500.04"/><use href="#m1896fcb78d" x="814.68" y="506.52"/><use href="#m1896fcb78d" x="827.64" y="504.36"/><use href="#m1896fcb78d" x="828.36" y="507.24"/><use href="#m1896fcb78d" x="772.92" y="502.2"/><use href="#m1896fcb78d" x="798.12" y="520.92"/><use href="#m1896fcb78d" x="805.32" y="520.2"/><use href="#m1896fcb78d" x="772.2" y="524.52"/><use href="#m1896fcb78d" x="770.04" y="527.4"/><use href="#m1896fcb78d" x="762.12" y="532.44"/><use href="#m1896fcb78d" x="796.68" y="530.28"/><use href="#m1896fcb78d" x="809.64" y="529.56"/><use href="#m1896fcb78d" x="759.96" y="409.32"/><use href="#m1896fcb78d" x="665.64" y="355.32"/><use href="#m1896fcb78d" x="480.6" y="365.4"/><use href="#m1896fcb78d" x="493.56" y="364.68"/><use href="#m1896fcb78d" x="515.16" y="364.68"/><use href="#m1896fcb78d" x="534.6" y="361.08"/><use href="#m1896fcb78d" x="536.04" y="358.2"/><use href="#m1896fcb78d" x="525.96" y="537.48"/><use href="#m1896fcb78d" x="537.48" y="537.48"/><use href="#m1896fcb78d" x="556.2" y="537.48"/><use href="#m1896fcb78d" x="565.56" y="537.48"/></g></g><g id="matplotlib.axis_7"><g id="xtick_19"><g id="line2d_43"><g><use href="#m2cdf71e66a" x="477" y="536.76" style="stroke: #000000; stroke-width: 0.8"/></g></g><g id="T_xt3_1" transform="matrix(1 0 0 0.93 0.18 37.794)"><!-- 0 --><g transform="translate(473.521818 549.98875) scale(0.1 -0.1)"><use href="#WenQuanYiZenHei-30"/></g></g></g><g id="xtick_20"><g id="line2d_44"><g><use href="#m2cdf71e66a" x="549" y="536.76" style="stroke: #000000; stroke-width: 0.8"/></g></g><g id="T_xt3_2" transform="matrix(0.95 0 0 0.96 26.746 21.365)"><!-- 100 --><g transform="translate(539.417251 549.98875) scale(0.1 -0.1)"><use href="#WenQuanYiZenHei-31"/><use href="#WenQuanYiZenHei-30" transform="translate(59.960938 0)"/><use href="#WenQuanYiZenHei-30" transform="translate(119.921875 0)"/></g></g></g><g id="xtick_21"><g id="line2d_45"><g><use href="#m2cdf71e66a" x="621" y="536.76" style="stroke: #000000; stroke-width: 0.8"/></g></g><g id="T_xt3_3" transform="matrix(0.9405 0 0 0.9507 37.086 26.46)"><!-- 200 --><g transform="translate(611.309558 549.98875) scale(0.1 -0.1)"><use href="#WenQuanYiZenHei-32"/><use href="#WenQuanYiZenHei-30" transform="translate(59.960938 0)"/><use href="#WenQuanYiZenHei-30" transform="translate(119.921875 0)"/></g></g></g><g id="xtick_22"><g id="line2d_46"><g><use href="#m2cdf71e66a" x="692.28" y="536.76" style="stroke: #000000; stroke-width: 0.8"/></g></g><g id="T_xt3_4" transform="matrix(0.95 0 0 0.9409 34.79 31.827)"><!-- 300 --><g transform="translate(683.201865 549.98875) scale(0.1 -0.1)"><use href="#WenQuanYiZenHei-33"/><use href="#WenQuanYiZenHei-30" transform="translate(59.960938 0)"/><use href="#WenQuanYiZenHei-30" transform="translate(119.921875 0)"/></g></g></g><g id="xtick_23"><g id="line2d_47"><g><use href="#m2cdf71e66a" x="764.28" y="536.76" style="stroke: #000000; stroke-width: 0.8"/></g></g><g id="T_xt3_5" transform="matrix(0.95 0 0 0.9409 37.871 31.827)"><!-- 400 --><g transform="translate(755.094173 549.98875) scale(0.1 -0.1)"><use href="#WenQuanYiZenHei-34"/><use href="#WenQuanYiZenHei-30" transform="translate(59.960938 0)"/><use href="#WenQuanYiZenHei-30" transform="translate(119.921875 0)"/></g></g></g><g id="xtick_24"><g id="line2d_48"><g><use href="#m2cdf71e66a" x="836.28" y="536.76" style="stroke: #000000; stroke-width: 0.8"/></g></g><g id="T_xt3_6" transform="matrix(0.9499 0 0 0.9603 41.537 21.201)"><!-- 500 --><g transform="translate(826.98648 549.98875) scale(0.1 -0.1)"><use href="#WenQuanYiZenHei-35"/><use href="#WenQuanYiZenHei-30" transform="translate(59.960938 0)"/><use href="#WenQuanYiZenHei-30" transform="translate(119.921875 0)"/></g></g></g><g id="T_xl3" transform="matrix(0.98 0 0 1 12.416 0)"><!-- 神经元数量 --><g transform="translate(630.891562 563.715312) scale(0.1 -0.1)"><use href="#WenQuanYiZenHei-795e"/><use href="#WenQuanYiZenHei-7ecf" transform="translate(100 0)"/><use href="#WenQuanYiZenHei-5143" transform="translate(200 0)"/><use href="#WenQuanYiZenHei-6570" transform="translate(300 0)"/><use href="#WenQuanYiZenHei-91cf" transform="translate(400 0)"/></g></g></g><g id="matplotlib.axis_8"><g id="ytick_22"><g id="line2d_49"><g><use href="#m33b7f4ba77" x="459" y="536.76" style="stroke: #000000; stroke-width: 0.8"/></g></g></g><g id="ytick_23"><g id="line2d_50"><g><use href="#m33b7f4ba77" x="459" y="503.64" style="stroke: #000000; stroke-width: 0.8"/></g></g></g><g id="ytick_24"><g id="line2d_51"><g><use href="#m33b7f4ba77" x="459" y="470.52" style="stroke: #000000; stroke-width: 0.8"/></g></g></g><g id="ytick_25"><g id="line2d_52"><g><use href="#m33b7f4ba77" x="459" y="437.4" style="stroke: #000000; stroke-width: 0.8"/></g></g></g><g id="ytick_26"><g id="line2d_53"><g><use href="#m33b7f4ba77" x="459" y="404.28" style="stroke: #000000; stroke-width: 0.8"/></g></g></g><g id="ytick_27"><g id="line2d_54"><g><use href="#m33b7f4ba77" x="459" y="371.88" style="stroke: #000000; stroke-width: 0.8"/></g></g></g><g id="ytick_28"><g id="line2d_55"><g><use href="#m33b7f4ba77" x="459" y="338.76" style="stroke: #000000; stroke-width: 0.8"/></g></g></g></g><g id="line2d_56"><path d="M 458.64 437.04 L 853.2 437.04" clip-path="url(#p8dc95fa0b8)" style="fill: none; stroke-dasharray: 5.55,2.4; stroke-dashoffset: 0; stroke: #000000; stroke-opacity: 0.3; stroke-width: 1.5"/></g><g id="patch_21"><path d="M 459 536.76 L 459 338.76" style="fill: none; stroke: #000000; stroke-width: 0.8; stroke-linejoin: miter; stroke-linecap: square"/></g><g id="patch_22"><path d="M 853.56 536.76 L 853.56 338.76" style="fill: none; stroke: #000000; stroke-width: 0.8; stroke-linejoin: miter; stroke-linecap: square"/></g><g id="patch_23"><path d="M 459 536.76 L 853.56 536.76" style="fill: none; stroke: #000000; stroke-width: 0.8; stroke-linejoin: miter; stroke-linecap: square"/></g><g id="patch_24"><path d="M 459 338.76 L 853.56 338.76" style="fill: none; stroke: #000000; stroke-width: 0.8; stroke-linejoin: miter; stroke-linecap: square"/></g><g id="T_f3_0"><g id="patch_25"><path d="M 470.42 367.68 L 533.56 367.68 Q 536.86 367.68 536.86 364.38 L 536.86 354.04 Q 536.86 350.74 533.56 350.74 L 470.42 350.74 Q 467.12 350.74 467.12 354.04 L 467.12 364.38 Q 467.12 367.68 470.42 367.68 z" style="fill: #ffffff; opacity: 0.85"/></g><!-- $W \sim \mathcal{N}(0, 1)$ --><g transform="matrix(0.99 0 0 1.0403 5.202 -12.836) translate(470.421631 362.553894) scale(0.11 -0.11)"><use href="#DejaVuSans-Oblique-57" transform="translate(0 0.5)"/><use href="#DejaVuSans-223c" transform="translate(118.359375 0.5)"/><use href="#STIXNonUnicode-Italic-e23a" transform="translate(221.630859 0.5)"/><use href="#DejaVuSans-28" transform="translate(317.330841 0.5)"/><use href="#DejaVuSans-30" transform="translate(356.344513 0.5)"/><use href="#DejaVuSans-2c" transform="translate(419.96756 0.5)"/><use href="#DejaVuSans-31" transform="translate(471.237091 0.5)"/><use href="#DejaVuSans-29" transform="translate(534.860138 0.5)"/></g></g><g id="T_title3" transform="matrix(1 0 0 1 0.36 -0.36)"><!-- 过大 (std=1.0) --><g transform="translate(614.444922 332.206875) scale(0.13 -0.13)"><defs><path id="WenQuanYiZenHei-8fc7" d="M 3638 -638 Q 2163 -644 1400 125 L 431 -581 Q 325 -356 169 -163 L 1194 388 L 1194 2944 L 900 2944 Q 531 2944 169 2925 Q 194 3125 169 3319 Q 531 3300 900 3300 L 1644 3300 L 1644 388 Q 2144 63 2563 -50 Q 2888 -131 3638 -138 L 6031 -156 Q 5781 -331 5800 -631 L 3638 -638 z M 1538 4144 L 1150 3838 L 444 4738 L 831 5044 L 1538 4144 z M 3156 1738 Q 2838 2363 2438 2938 L 2844 3219 Q 3263 2619 3600 1963 L 3156 1738 z M 4450 3575 L 2725 3575 Q 2363 3575 2000 3556 Q 2019 3750 2000 3950 Q 2363 3931 2725 3931 L 4450 3931 L 4450 4344 Q 4450 4806 4425 5263 Q 4675 5238 4925 5263 Q 4900 4806 4900 4344 L 4900 3931 L 5238 3931 Q 5606 3931 5969 3950 Q 5944 3750 5969 3556 Q 5606 3575 5238 3575 L 4900 3575 L 4900 956 Q 4900 606 4675 406 Q 4438 206 3838 213 Q 3906 519 3706 763 Q 3881 738 4106 734 Q 4331 731 4388 781 Q 4450 875 4450 1181 L 4450 3575 z" transform="scale(0.015625)"/><path id="WenQuanYiZenHei-5927" d="M 1281 3069 Q 863 3069 438 3050 Q 463 3275 438 3506 Q 863 3488 1281 3488 L 2931 3488 L 2931 4300 Q 2931 4781 2906 5263 Q 3163 5231 3425 5263 Q 3400 4781 3400 4300 L 3400 3488 L 5188 3488 Q 5606 3488 6025 3506 Q 6000 3275 6025 3050 Q 5606 3069 5188 3069 L 3481 3069 Q 3894 1500 4863 550 Q 5431 25 6156 -313 Q 5906 -438 5788 -694 Q 4919 -269 4284 515 Q 3650 1300 3281 2294 Q 3038 1256 2350 443 Q 1663 -369 700 -775 Q 556 -475 231 -413 Q 1394 -50 2119 903 Q 2844 1856 2919 3069 L 1281 3069 z" transform="scale(0.015625)"/></defs><use href="#WenQuanYiZenHei-8fc7"/><use href="#WenQuanYiZenHei-5927" transform="translate(100 0)"/><use href="#WenQuanYiZenHei-20" transform="translate(200 0)"/><use href="#WenQuanYiZenHei-28" transform="translate(229.980469 0)"/><use href="#WenQuanYiZenHei-73" transform="translate(259.960938 0)"/><use href="#WenQuanYiZenHei-74" transform="translate(311.914062 0)"/><use href="#WenQuanYiZenHei-64" transform="translate(343.847656 0)"/><use href="#WenQuanYiZenHei-3d" transform="translate(397.753906 0)"/><use href="#WenQuanYiZenHei-31" transform="translate(457.714844 0)"/><use href="#WenQuanYiZenHei-2e" transform="translate(517.675781 0)"/><use href="#WenQuanYiZenHei-30" transform="translate(547.65625 0)"/><use href="#WenQuanYiZenHei-29" transform="translate(607.617188 0)"/></g></g></g><g id="T_sup" transform="matrix(1 0 0 0.99 -0.36 -0.517)"><!-- 四种权重初始化方法的分布广度对比（输入 500，输出 500） --><g transform="translate(214.4175 25.13) scale(0.16 -0.16)"><defs><path id="WenQuanYiZenHei-56db" d="M 781 4781 L 5775 4781 L 5775 -763 L 5325 -763 L 5325 -31 L 1244 -31 Q 1244 -406 1263 -775 Q 1013 -750 769 -775 Q 788 -319 788 138 L 781 4781 z M 3506 4419 L 2756 4419 L 2756 2556 Q 2756 1950 2359 1465 Q 1963 981 1381 800 Q 1344 963 1238 1094 L 1238 325 L 5325 325 L 5325 1244 L 4169 1244 Q 3894 1244 3700 1437 Q 3506 1631 3506 1913 L 3506 4419 z M 3956 4419 L 3956 1913 Q 3956 1788 4015 1694 Q 4075 1600 4175 1600 L 5325 1600 L 5325 4419 L 3956 4419 z M 2306 4419 L 1231 4419 L 1238 1256 Q 1694 1369 2000 1731 Q 2306 2094 2306 2556 L 2306 4419 z" transform="scale(0.015625)"/><path id="WenQuanYiZenHei-79cd" d="M 4700 -769 Q 4463 -744 4225 -769 Q 4244 -325 4244 113 L 4244 1656 L 3394 1656 L 3394 1244 L 2956 1244 L 2956 3631 L 4244 3631 L 4244 4375 Q 4244 4819 4225 5256 Q 4463 5231 4700 5256 Q 4681 4819 4681 4375 L 4681 3631 L 6006 3631 L 6006 1244 L 5569 1244 L 5569 1656 L 4681 1656 L 4681 113 Q 4681 -325 4700 -769 z M 4681 1975 L 5569 1975 L 5569 3313 L 4681 3313 L 4681 1975 z M 4244 1975 L 4244 3313 L 3394 3313 L 3394 1975 L 4244 1975 z M 2769 4275 L 1831 4200 L 1831 3275 L 2150 3275 Q 2475 3275 2794 3294 Q 2775 3125 2794 2956 Q 2475 2969 2150 2969 L 1831 2969 L 1831 2481 L 1975 2594 L 2669 1750 L 2288 1456 L 1831 2006 L 1831 156 Q 1831 -281 1850 -713 Q 1606 -688 1363 -713 Q 1388 -281 1388 156 L 1388 1950 L 1369 1906 Q 1169 1538 794 950 L 438 394 Q 281 538 31 569 Q 481 1225 931 2119 L 1363 2969 L 794 2969 Q 475 2969 150 2956 Q 169 3125 150 3294 Q 475 3275 794 3275 L 1388 3275 L 1388 4156 L 544 4038 L 288 4444 Q 488 4444 663 4425 Q 925 4413 1469 4494 Q 2219 4600 2706 4738 Q 2713 4488 2769 4275 z" transform="scale(0.015625)"/><path id="WenQuanYiZenHei-521d" d="M 3675 2606 L 3675 4181 L 2813 4163 Q 2831 4350 2813 4544 Q 3163 4525 3513 4525 L 5806 4525 L 5806 -69 Q 5806 -500 5538 -656 Q 5250 -825 4650 -819 Q 4725 -506 4506 -275 Q 4706 -300 4965 -300 Q 5225 -300 5294 -250 Q 5356 -131 5363 163 L 5363 4181 L 4119 4181 L 4119 2606 Q 4088 963 3356 31 Q 3013 -444 2581 -738 Q 2419 -494 2131 -456 Q 2781 -88 3188 575 Q 3663 1350 3675 2606 z M 1950 138 Q 1950 -313 1969 -763 Q 1725 -738 1481 -763 Q 1500 -313 1500 138 L 1500 2144 Q 1063 1656 531 1275 Q 319 1444 63 1531 Q 650 1900 1162 2440 Q 1675 2981 2025 3694 L 1138 3694 Q 788 3694 444 3675 Q 463 3869 444 4056 Q 788 4038 1138 4038 L 2644 4038 Q 2381 3325 1950 2706 L 1950 2413 L 2156 2256 Q 2069 2350 1950 2413 Q 2238 2594 2481 2925 L 2675 3213 Q 2875 3069 3100 2963 Q 2969 2731 2784 2537 Q 2600 2344 2313 2131 Q 2706 1813 3069 1463 L 2725 1113 Q 2350 1469 1950 1794 L 1950 138 z M 1788 4100 Q 1456 4619 1050 5088 L 1425 5406 Q 1850 4913 2200 4363 L 1788 4100 z" transform="scale(0.015625)"/><path id="WenQuanYiZenHei-59cb" d="M 3638 -769 Q 3400 -744 3156 -769 Q 3181 -325 3181 125 L 3181 1775 L 5738 1775 L 5738 -756 L 5300 -756 L 5300 -369 L 3625 -369 Q 3631 -569 3638 -769 z M 4213 5088 Q 4456 4981 4713 4925 Q 4625 4631 4106 3793 Q 3588 2956 3425 2744 L 5188 2950 L 5313 2975 Q 5063 3331 4800 3669 L 5181 3969 Q 5750 3244 6238 2456 L 5831 2200 L 5519 2681 L 5225 2656 L 2819 2331 L 2775 2656 Q 2906 2700 3000 2806 Q 3269 3113 3706 3894 Q 4144 4675 4213 5088 z M 5300 1444 L 3619 1444 L 3619 -38 L 5300 -38 L 5300 1444 z M 1200 5013 Q 1444 4956 1725 4956 Q 1625 4281 1488 3613 L 1925 3613 Q 2231 3613 2531 3631 Q 2519 3469 2531 3313 Q 2488 3313 2444 3319 Q 2244 2069 1869 956 Q 2363 575 2669 38 Q 2413 -56 2194 -188 Q 2013 219 1694 531 Q 1256 -438 381 -944 Q 263 -706 31 -581 Q 913 -106 1344 819 Q 919 1113 400 1213 Q 775 2250 981 3325 L 219 3313 Q 238 3469 219 3631 L 1031 3613 Q 1156 4306 1200 5013 z M 1969 3325 L 1425 3325 L 1406 3231 Q 1200 2338 925 1463 Q 1225 1356 1500 1200 Q 1794 2081 1969 3325 z" transform="scale(0.015625)"/><path id="WenQuanYiZenHei-5316" d="M 3863 81 Q 3863 -63 3922 -166 Q 3981 -269 4088 -269 L 5500 -269 Q 5625 -263 5656 -138 Q 5694 -31 5713 113 L 5844 1019 Q 6044 875 6294 875 L 6081 -413 Q 6056 -569 5963 -663 Q 5913 -700 5850 -700 L 4081 -700 Q 3825 -700 3609 -509 Q 3394 -319 3394 81 L 3394 1456 Q 2775 1044 2156 775 Q 2075 1050 1844 1231 Q 2706 1588 3394 2031 L 3394 4138 Q 3394 4613 3375 5081 Q 3631 5056 3888 5081 Q 3863 4613 3863 4138 L 3863 2356 Q 4375 2756 4869 3325 Q 5213 3706 5406 3950 Q 5606 3756 5844 3600 Q 4881 2531 3863 1775 L 3863 81 z M 1838 -769 Q 1581 -744 1325 -769 Q 1344 -300 1344 175 L 1344 2838 Q 944 2375 469 2044 Q 331 2300 75 2431 Q 556 2750 987 3175 Q 1419 3600 1656 4075 Q 1894 4588 2069 5150 Q 2331 5044 2606 4988 Q 2275 4131 1813 3444 L 1813 175 Q 1813 -300 1838 -769 z" transform="scale(0.015625)"/><path id="WenQuanYiZenHei-65b9" d="M 4425 81 L 4425 2150 L 2656 2150 Q 2494 1169 1959 419 Q 1425 -331 669 -756 Q 519 -481 213 -425 Q 1125 -31 1690 850 Q 2256 1731 2256 2938 L 2256 3550 L 1006 3550 Q 606 3550 206 3525 Q 231 3744 206 3963 Q 606 3944 1006 3944 L 5338 3944 Q 5738 3944 6138 3963 Q 6113 3744 6138 3525 Q 5738 3550 5338 3550 L 2719 3550 L 2719 2938 Q 2719 2738 2706 2544 L 4894 2544 L 4894 -44 Q 4894 -294 4694 -469 Q 4419 -713 3688 -706 Q 3763 -381 3531 -138 Q 3744 -163 4034 -166 Q 4325 -169 4375 -128 Q 4425 -88 4425 81 z M 3250 4056 Q 2794 4594 2269 5056 L 2606 5444 Q 3163 4950 3638 4388 L 3250 4056 z" transform="scale(0.015625)"/><path id="WenQuanYiZenHei-6cd5" d="M 2813 1956 Q 2475 1956 2138 1944 Q 2156 2125 2138 2306 Q 2475 2288 2813 2288 L 3769 2288 L 3769 3513 L 2431 3513 L 2431 3838 L 3769 3838 L 3769 4369 Q 3769 4813 3744 5263 Q 3988 5231 4231 5263 Q 4206 4813 4206 4369 L 4206 3838 L 5119 3838 Q 5456 3838 5788 3856 Q 5769 3675 5788 3494 Q 5456 3513 5119 3513 L 4206 3513 L 4206 2288 L 5506 2288 Q 5838 2288 6175 2306 Q 6156 2125 6175 1944 Q 5838 1956 5506 1956 L 4138 1956 Q 4094 1844 3997 1672 Q 3900 1500 3450 828 Q 3000 156 2831 -56 L 4963 119 L 5113 138 L 4475 994 L 4856 1294 L 5500 431 Q 5813 -13 6106 -469 L 5700 -731 L 5325 -163 L 4988 -181 L 2200 -444 L 2175 -113 Q 2300 -94 2388 0 Q 2606 238 3003 869 Q 3400 1500 3581 1956 L 2813 1956 z M 919 -738 Q 663 -588 288 -575 Q 556 -69 840 581 Q 1125 1231 1669 2838 L 1913 2706 L 1213 338 L 919 -738 z M 1400 2856 L 1013 2550 L 100 3400 L 488 3713 L 1400 2856 z M 1506 3913 Q 1088 4388 594 4800 L 956 5125 Q 1481 4688 1925 4188 L 1506 3913 z" transform="scale(0.015625)"/><path id="WenQuanYiZenHei-7684" d="M 4319 1088 Q 3906 1756 3419 2375 L 3800 2675 Q 4306 2031 4731 1338 L 4319 1088 z M 5406 3625 L 4000 3625 Q 3600 2613 3025 1925 Q 2900 2063 2731 2131 L 2731 -756 L 2288 -756 L 2288 -313 L 888 -313 Q 894 -544 906 -769 Q 663 -744 425 -769 Q 444 -325 444 119 L 444 3813 Q 788 3813 1131 3813 Q 1375 4244 1600 5100 Q 1825 5025 2069 5000 Q 1969 4450 1625 3813 L 2731 3813 L 2731 2363 Q 3381 3150 3606 3838 Q 3794 4444 3900 5106 Q 4163 5038 4425 5025 Q 4300 4469 4119 3956 L 5850 3956 L 5850 -106 Q 5850 -419 5644 -619 Q 5419 -825 4713 -819 Q 4781 -513 4563 -281 Q 4763 -306 5022 -309 Q 5281 -313 5344 -263 Q 5406 -175 5406 94 L 5406 3625 z M 2288 1913 L 2288 3481 L 881 3481 L 881 1913 L 2288 1913 z M 2288 1581 L 881 1581 L 881 13 L 2288 13 L 2288 1581 z" transform="scale(0.015625)"/><path id="WenQuanYiZenHei-5206" d="M 2088 2169 Q 1688 2169 1288 2150 Q 1306 2363 1288 2581 Q 1688 2563 2088 2563 L 4819 2563 L 4819 -169 Q 4819 -425 4619 -600 Q 4350 -844 3613 -838 Q 3688 -513 3456 -269 Q 3669 -294 3956 -297 Q 4244 -300 4297 -259 Q 4350 -219 4350 -31 L 4350 2169 L 2931 2169 Q 2875 1131 2315 309 Q 1756 -513 881 -813 Q 681 -519 338 -406 Q 706 -375 1078 -165 Q 1450 44 1753 375 Q 2056 706 2247 1181 Q 2438 1656 2431 2169 L 2088 2169 z M 6150 2500 Q 5900 2381 5788 2131 Q 4863 2606 4306 3450 Q 3819 4175 3550 5050 L 3956 5163 Q 4356 3781 5294 3031 Q 5694 2719 6150 2500 z M 2106 5050 Q 2369 4944 2650 4900 Q 2350 4044 1863 3313 Q 1306 2469 456 1913 Q 331 2175 75 2313 Q 831 2769 1338 3381 Q 1550 3638 1669 3881 Q 1931 4438 2106 5050 z" transform="scale(0.015625)"/><path id="WenQuanYiZenHei-5e03" d="M 3850 -769 Q 3600 -744 3344 -769 Q 3369 -306 3369 163 L 3369 2319 L 2094 2319 L 2094 813 Q 2094 350 2119 -113 Q 1863 -88 1613 -113 Q 1638 350 1638 813 L 1638 1869 Q 1094 1206 475 706 Q 325 950 63 1063 Q 1000 1800 1631 2625 L 1638 2694 L 1688 2694 Q 2075 3206 2313 3775 L 1169 3775 Q 788 3775 406 3756 Q 431 3963 406 4169 Q 788 4150 1169 4150 L 2475 4150 Q 2719 4756 2838 5150 Q 3094 5044 3369 4988 Q 3213 4563 3025 4150 L 5375 4150 Q 5756 4150 6138 4169 Q 6113 3963 6138 3756 Q 5756 3775 5375 3775 L 2850 3775 Q 2569 3206 2238 2694 L 3369 2694 Q 3363 3038 3344 3381 Q 3600 3356 3850 3381 Q 3831 3038 3831 2694 L 5544 2694 L 5544 463 Q 5544 281 5444 150 Q 5344 19 5181 -50 Q 4881 -175 4481 -175 Q 4544 138 4344 388 Q 4519 363 4766 356 Q 5013 350 5050 387 Q 5088 425 5088 569 L 5088 2319 L 3825 2319 L 3825 163 Q 3825 -306 3850 -769 z" transform="scale(0.015625)"/><path id="WenQuanYiZenHei-5e7f" d="M 944 4338 L 3169 4344 Q 2950 4731 2681 5094 L 3100 5400 Q 3475 4894 3763 4344 L 5294 4344 Q 5719 4344 6138 4363 Q 6113 4131 6138 3906 Q 5719 3925 5294 3925 L 1419 3925 L 1425 1419 Q 1431 0 619 -756 Q 450 -525 169 -469 Q 975 75 950 1419 L 944 4338 z" transform="scale(0.015625)"/><path id="WenQuanYiZenHei-5ea6" d="M 1863 1488 Q 1881 1663 1863 1838 Q 2181 1819 2506 1819 L 5231 1819 Q 4863 869 4081 213 Q 4381 25 4763 -94 Q 5388 -294 6044 -238 Q 5894 -450 5913 -706 Q 4731 -769 3744 -44 Q 2731 -725 1519 -731 Q 1450 -475 1300 -256 Q 2431 -356 3388 244 Q 2825 763 2413 1500 Q 2138 1500 1863 1488 z M 5400 3613 Q 5725 3613 6050 3631 Q 6031 3456 6050 3281 Q 5725 3294 5400 3294 L 4800 3294 Q 4794 2600 4794 2275 L 2531 2275 Q 2531 2781 2531 3294 L 2213 3294 Q 1894 3294 1569 3281 Q 1588 3456 1569 3631 Q 1894 3613 2213 3613 L 2531 3613 Q 2531 3963 2513 4306 Q 2750 4281 2988 4306 Q 2975 3963 2969 3613 L 4363 3613 Q 4363 3944 4350 4275 Q 4588 4250 4825 4275 Q 4806 3944 4800 3613 L 5400 3613 z M 1013 4738 L 3413 4738 L 3025 5069 L 3331 5431 L 3856 4981 L 3650 4738 L 5444 4738 Q 5769 4738 6094 4750 Q 6075 4575 6094 4400 Q 5769 4419 5444 4419 L 1444 4419 L 1456 1550 Q 1463 44 600 -738 Q 444 -525 181 -481 Q 1044 100 1019 1550 L 1013 4738 z M 2863 1500 Q 3250 869 3719 475 Q 4256 906 4581 1500 L 2863 1500 z M 2969 3294 Q 2969 2956 2969 2594 L 4356 2594 Q 4363 2931 4363 3294 L 2969 3294 z" transform="scale(0.015625)"/><path id="WenQuanYiZenHei-5bf9" d="M 3750 1375 Q 3538 2000 3163 2538 L 3575 2831 Q 3994 2231 4225 1538 L 3750 1375 z M 4688 150 L 4688 3288 L 3838 3288 Q 3456 3288 3075 3269 Q 3100 3475 3075 3681 Q 3456 3663 3838 3663 L 4688 3663 L 4688 4325 Q 4688 4794 4663 5256 Q 4913 5231 5169 5256 Q 5144 4794 5144 4325 L 5144 3663 L 5375 3663 Q 5756 3663 6138 3681 Q 6113 3475 6138 3269 Q 5756 3288 5375 3288 L 5144 3288 L 5144 -25 Q 5144 -469 4894 -650 Q 4625 -838 3994 -831 Q 4063 -513 3844 -269 Q 4044 -294 4294 -297 Q 4544 -300 4612 -240 Q 4681 -181 4688 150 z M 1256 4025 Q 875 4025 494 4006 Q 519 4213 494 4419 Q 875 4400 1256 4400 L 2875 4400 Q 2775 3063 2175 1869 L 3013 431 L 2569 181 L 1894 1350 Q 1344 444 556 -250 Q 325 -94 56 -31 Q 1013 744 1625 1813 L 488 3688 L 913 3956 L 1900 2344 Q 2263 3150 2400 4025 L 1256 4025 z" transform="scale(0.015625)"/><path id="WenQuanYiZenHei-6bd4" d="M 3738 350 Q 3738 225 3800 137 Q 3863 50 3963 50 L 5288 50 Q 5406 56 5438 169 Q 5475 275 5488 406 L 5606 1244 Q 5813 1106 6056 1106 L 5863 -113 Q 5838 -256 5750 -350 Q 5706 -381 5644 -381 L 3956 -381 Q 3656 -381 3462 -181 Q 3269 19 3269 350 L 3269 4313 Q 3269 4788 3250 5256 Q 3500 5231 3756 5256 Q 3738 4788 3738 4313 L 3738 2625 Q 4206 2869 4581 3187 Q 4956 3506 5363 3963 Q 5544 3781 5756 3638 Q 5013 2713 3738 2113 L 3738 350 z M 2875 3088 Q 2850 2869 2875 2650 Q 2475 2675 2075 2675 L 1075 2675 L 1075 6 L 2756 1331 L 2950 975 Q 2763 850 2581 706 L 794 -825 L 519 -450 Q 613 -200 613 63 L 613 4188 Q 613 4663 588 5138 Q 844 5106 1100 5138 Q 1075 4663 1075 4188 L 1075 3069 L 2075 3069 Q 2475 3069 2875 3088 z" transform="scale(0.015625)"/><path id="WenQuanYiZenHei-ff08" d="M 5438 -1094 L 5106 -1094 Q 4306 -100 4175 1231 Q 4156 1438 4156 1656 Q 4156 3031 4994 4244 Q 5044 4313 5100 4388 L 5431 4388 Q 4638 3169 4625 1681 Q 4625 188 5438 -1094 z" transform="scale(0.015625)"/><path id="WenQuanYiZenHei-8f93" d="M 5269 -38 L 5269 1744 Q 5269 2169 5244 2588 Q 5475 2563 5700 2588 Q 5681 2169 5681 1744 L 5681 -181 Q 5663 -556 5381 -675 Q 5106 -806 4706 -800 Q 4769 -519 4581 -294 Q 4744 -319 4956 -322 Q 5169 -325 5219 -287 Q 5269 -250 5269 -38 z M 4844 288 Q 4619 313 4388 288 Q 4406 706 4406 1125 L 4406 1481 Q 4406 1900 4388 2319 Q 4619 2294 4844 2319 Q 4825 1900 4825 1481 L 4825 1125 Q 4825 706 4844 288 z M 3475 -38 L 3475 538 L 2925 538 L 2925 125 Q 2925 -294 2944 -719 Q 2719 -694 2494 -719 Q 2513 -294 2513 125 L 2506 2669 L 2925 2669 L 2925 2638 L 3888 2638 L 3888 -181 Q 3869 -544 3619 -681 Q 3431 -794 3181 -800 Q 3225 -513 3081 -263 Q 3163 -294 3250 -319 Q 3419 -325 3447 -290 Q 3475 -256 3475 -38 z M 4850 3425 Q 4831 3269 4850 3113 Q 4569 3125 4281 3125 L 3656 3125 Q 3375 3125 3088 3113 Q 3100 3244 3094 3369 Q 2675 2931 2200 2606 Q 2088 2838 1856 2956 Q 2863 3606 3313 4288 Q 3594 4713 3813 5181 Q 4025 5044 4256 4956 L 4175 4813 Q 4600 4231 5034 3906 Q 5469 3581 6150 3338 Q 5938 3206 5856 2975 Q 5300 3181 4812 3590 Q 4325 4000 3956 4481 Q 3556 3875 3138 3419 Q 3400 3406 3656 3406 L 4281 3406 Q 4569 3406 4850 3425 z M 3475 1719 L 3475 2419 L 2925 2419 Q 2925 2063 2925 1719 L 3475 1719 z M 3475 794 L 3475 1463 L 2925 1463 L 2925 794 L 3475 794 z M 1056 5200 Q 1244 5113 1450 5063 Q 1319 4675 1206 4275 L 1181 4194 L 1663 4194 Q 1913 4194 2169 4206 Q 2156 4056 2169 3906 Q 1913 3919 1663 3919 L 1100 3919 L 675 2456 L 1188 2456 L 1188 2594 Q 1188 3013 1169 3425 Q 1381 3406 1588 3425 Q 1569 3013 1569 2594 L 1569 2456 L 2356 2456 L 2356 2181 L 1569 2181 L 1569 1206 Q 1944 1288 2425 1406 L 2413 1163 L 1569 931 L 1569 -13 Q 1569 -431 1588 -844 Q 1381 -825 1169 -844 Q 1188 -431 1188 -13 L 1188 825 L 863 731 Q 513 619 163 500 Q 169 794 50 1000 Q 638 1025 1188 1131 L 1188 2181 L 206 2181 L 706 3919 L 44 3906 Q 56 4056 44 4206 L 788 4194 L 844 4400 Q 963 4800 1056 5200 z" transform="scale(0.015625)"/><path id="WenQuanYiZenHei-5165" d="M 6175 -456 Q 5900 -575 5763 -844 Q 4356 -181 3956 1494 Q 3831 2000 3722 2537 Q 3613 3075 3488 3431 Q 3175 2081 2406 921 Q 1638 -238 456 -981 Q 331 -706 75 -556 Q 775 -131 1394 469 Q 2413 1406 2819 3000 Q 2981 3556 3044 3913 L 3281 3881 Q 3113 4175 2888 4406 Q 2494 4806 2000 4863 L 2050 5338 Q 2738 5263 3238 4738 Q 3769 4156 3981 3281 Q 4088 2875 4172 2475 Q 4256 2075 4387 1637 Q 4519 1200 4731 813 Q 5225 -31 6175 -456 z" transform="scale(0.015625)"/><path id="WenQuanYiZenHei-ff0c" d="M 3594 75 L 3119 -825 L 2844 -825 L 3225 0 L 2894 0 L 2894 738 L 3594 738 L 3594 75 z" transform="scale(0.015625)"/><path id="WenQuanYiZenHei-51fa" d="M 5400 -594 Q 5150 -569 4906 -594 Q 4919 -356 4919 -119 L 431 -119 L 431 981 Q 431 1438 406 1894 Q 656 1869 900 1894 Q 881 1438 881 981 L 881 238 L 2675 238 L 2675 2500 L 688 2500 L 688 3488 Q 688 3950 663 4406 Q 913 4381 1163 4406 Q 1138 3950 1138 3488 L 1138 2856 L 2675 2856 L 2675 4344 Q 2675 4806 2656 5263 Q 2906 5238 3150 5263 Q 3131 4806 3131 4344 L 3131 2856 L 4669 2856 Q 4669 3175 4669 3562 Q 4669 3950 4644 4406 Q 4894 4381 5144 4406 Q 5125 3988 5122 3516 Q 5119 3044 5119 2500 L 3131 2500 L 3131 238 L 4925 238 L 4925 981 Q 4925 1438 4906 1894 Q 5150 1869 5400 1894 Q 5381 1438 5381 981 L 5381 325 Q 5381 -138 5400 -594 z" transform="scale(0.015625)"/><path id="WenQuanYiZenHei-ff09" d="M 2244 1656 Q 2244 306 1519 -788 Q 1413 -950 1294 -1094 L 963 -1094 Q 1775 188 1775 1681 Q 1775 3169 988 4363 Q 975 4375 969 4388 L 1300 4388 Q 2169 3231 2238 1863 Q 2244 1763 2244 1656 z" transform="scale(0.015625)"/></defs><use href="#WenQuanYiZenHei-56db"/><use href="#WenQuanYiZenHei-79cd" transform="translate(100 0)"/><use href="#WenQuanYiZenHei-6743" transform="translate(200 0)"/><use href="#WenQuanYiZenHei-91cd" transform="translate(300 0)"/><use href="#WenQuanYiZenHei-521d" transform="translate(400 0)"/><use href="#WenQuanYiZenHei-59cb" transform="translate(500 0)"/><use href="#WenQuanYiZenHei-5316" transform="translate(600 0)"/><use href="#WenQuanYiZenHei-65b9" transform="translate(700 0)"/><use href="#WenQuanYiZenHei-6cd5" transform="translate(800 0)"/><use href="#WenQuanYiZenHei-7684" transform="translate(900 0)"/><use href="#WenQuanYiZenHei-5206" transform="translate(1000 0)"/><use href="#WenQuanYiZenHei-5e03" transform="translate(1100 0)"/><use href="#WenQuanYiZenHei-5e7f" transform="translate(1200 0)"/><use href="#WenQuanYiZenHei-5ea6" transform="translate(1300 0)"/><use href="#WenQuanYiZenHei-5bf9" transform="translate(1400 0)"/><use href="#WenQuanYiZenHei-6bd4" transform="translate(1500 0)"/><use href="#WenQuanYiZenHei-ff08" transform="translate(1600 0)"/><use href="#WenQuanYiZenHei-8f93" transform="translate(1700 0)"/><use href="#WenQuanYiZenHei-5165" transform="translate(1800 0)"/><use href="#WenQuanYiZenHei-20" transform="translate(1900 0)"/><use href="#WenQuanYiZenHei-35" transform="translate(1929.980469 0)"/><use href="#WenQuanYiZenHei-30" transform="translate(1989.941406 0)"/><use href="#WenQuanYiZenHei-30" transform="translate(2049.902344 0)"/><use href="#WenQuanYiZenHei-ff0c" transform="translate(2109.863281 0)"/><use href="#WenQuanYiZenHei-8f93" transform="translate(2209.863281 0)"/><use href="#WenQuanYiZenHei-51fa" transform="translate(2309.863281 0)"/><use href="#WenQuanYiZenHei-20" transform="translate(2409.863281 0)"/><use href="#WenQuanYiZenHei-35" transform="translate(2439.84375 0)"/><use href="#WenQuanYiZenHei-30" transform="translate(2499.804688 0)"/><use href="#WenQuanYiZenHei-30" transform="translate(2559.765625 0)"/><use href="#WenQuanYiZenHei-ff09" transform="translate(2619.726562 0)"/></g></g></g><defs><clipPath id="pf800863472"><rect x="49.67" y="83.52" width="394.616875" height="197.925625"/></clipPath><clipPath id="pbd581d484f"><rect x="458.58" y="83.52" width="394.616875" height="197.925625"/></clipPath><clipPath id="p43a01c188c"><rect x="49.67" y="338.21" width="394.616875" height="197.925625"/></clipPath><clipPath id="p8dc95fa0b8"><rect x="458.58" y="338.21" width="394.616875" height="197.925625"/></clipPath></defs></svg> </body></html>
